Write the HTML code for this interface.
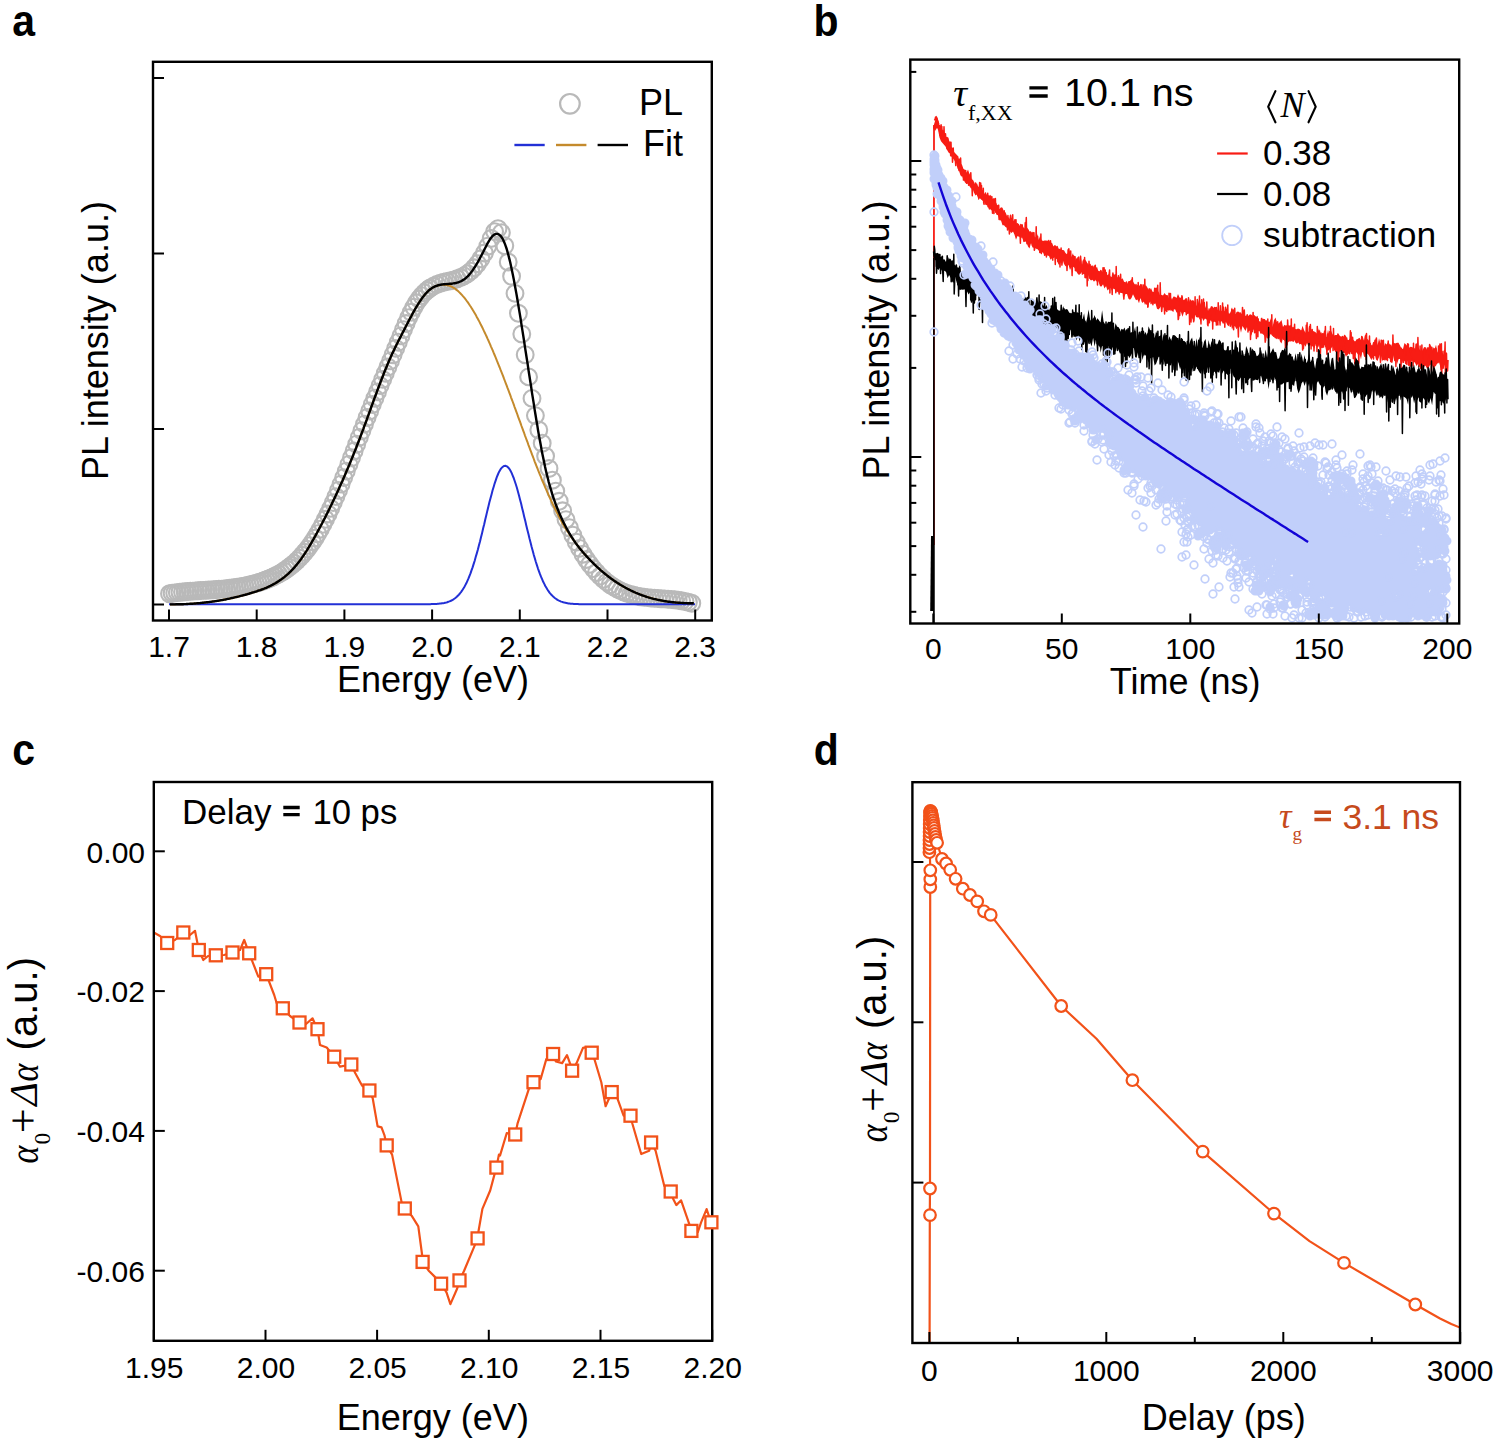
<!DOCTYPE html><html><head><meta charset="utf-8"><title>Figure</title><style>html,body{margin:0;padding:0;background:#fff;overflow:hidden}</style></head><body><svg width="1500" height="1442" viewBox="0 0 1500 1442" font-family="Liberation Sans" style="display:block"><text transform="translate(12.2 36.2) scale(0.91 1)" font-size="45" font-weight="bold">a</text>
<text transform="translate(813.4 36.2) scale(0.91 1)" font-size="45" font-weight="bold">b</text>
<text transform="translate(12.2 764.6) scale(0.91 1)" font-size="45" font-weight="bold">c</text>
<text transform="translate(813.8 764.6) scale(0.91 1)" font-size="45" font-weight="bold">d</text>
<g fill="none" stroke="#b9b9b9" stroke-width="2.1"><circle cx="169.5" cy="593.7" r="8.4"/><circle cx="172.1" cy="593.3" r="8.4"/><circle cx="174.7" cy="592.9" r="8.4"/><circle cx="177.3" cy="592.6" r="8.4"/><circle cx="179.9" cy="592.3" r="8.4"/><circle cx="182.5" cy="592" r="8.4"/><circle cx="185.1" cy="591.7" r="8.4"/><circle cx="187.7" cy="591.5" r="8.4"/><circle cx="190.3" cy="591.3" r="8.4"/><circle cx="192.9" cy="591.1" r="8.4"/><circle cx="195.5" cy="590.9" r="8.4"/><circle cx="198.1" cy="590.7" r="8.4"/><circle cx="200.7" cy="590.5" r="8.4"/><circle cx="203.3" cy="590.4" r="8.4"/><circle cx="205.9" cy="590.2" r="8.4"/><circle cx="208.5" cy="590" r="8.4"/><circle cx="211.1" cy="589.9" r="8.4"/><circle cx="213.7" cy="589.7" r="8.4"/><circle cx="216.3" cy="589.5" r="8.4"/><circle cx="218.9" cy="589.3" r="8.4"/><circle cx="221.5" cy="589.1" r="8.4"/><circle cx="224.1" cy="588.9" r="8.4"/><circle cx="226.7" cy="588.6" r="8.4"/><circle cx="229.3" cy="588.3" r="8.4"/><circle cx="231.9" cy="588" r="8.4"/><circle cx="234.5" cy="587.7" r="8.4"/><circle cx="237.1" cy="587.3" r="8.4"/><circle cx="239.7" cy="586.9" r="8.4"/><circle cx="242.3" cy="586.4" r="8.4"/><circle cx="244.9" cy="585.9" r="8.4"/><circle cx="247.5" cy="585.4" r="8.4"/><circle cx="250.1" cy="584.8" r="8.4"/><circle cx="252.7" cy="584.1" r="8.4"/><circle cx="255.3" cy="583.4" r="8.4"/><circle cx="257.9" cy="582.7" r="8.4"/><circle cx="260.5" cy="581.9" r="8.4"/><circle cx="263.1" cy="581" r="8.4"/><circle cx="265.7" cy="580" r="8.4"/><circle cx="268.3" cy="579" r="8.4"/><circle cx="270.9" cy="577.9" r="8.4"/><circle cx="273.5" cy="576.7" r="8.4"/><circle cx="276.1" cy="575.4" r="8.4"/><circle cx="278.7" cy="574.1" r="8.4"/><circle cx="281.3" cy="572.6" r="8.4"/><circle cx="283.9" cy="571" r="8.4"/><circle cx="286.5" cy="569.2" r="8.4"/><circle cx="289.1" cy="567.3" r="8.4"/><circle cx="291.7" cy="565.3" r="8.4"/><circle cx="294.3" cy="563.1" r="8.4"/><circle cx="296.9" cy="560.7" r="8.4"/><circle cx="299.5" cy="558.1" r="8.4"/><circle cx="302.1" cy="555.3" r="8.4"/><circle cx="304.7" cy="552.3" r="8.4"/><circle cx="307.3" cy="549.1" r="8.4"/><circle cx="309.9" cy="545.6" r="8.4"/><circle cx="312.5" cy="541.9" r="8.4"/><circle cx="315.1" cy="538" r="8.4"/><circle cx="317.7" cy="533.7" r="8.4"/><circle cx="320.3" cy="529.2" r="8.4"/><circle cx="322.9" cy="524.4" r="8.4"/><circle cx="325.5" cy="519.3" r="8.4"/><circle cx="328.1" cy="514" r="8.4"/><circle cx="330.7" cy="508.4" r="8.4"/><circle cx="333.3" cy="502.6" r="8.4"/><circle cx="335.9" cy="496.6" r="8.4"/><circle cx="338.5" cy="490.4" r="8.4"/><circle cx="341.1" cy="484.1" r="8.4"/><circle cx="343.7" cy="477.6" r="8.4"/><circle cx="346.3" cy="471.1" r="8.4"/><circle cx="348.9" cy="464.4" r="8.4"/><circle cx="351.5" cy="457.7" r="8.4"/><circle cx="354.1" cy="451" r="8.4"/><circle cx="356.7" cy="444.2" r="8.4"/><circle cx="359.3" cy="437.4" r="8.4"/><circle cx="361.9" cy="430.7" r="8.4"/><circle cx="364.5" cy="424.1" r="8.4"/><circle cx="367.1" cy="417.5" r="8.4"/><circle cx="369.7" cy="411" r="8.4"/><circle cx="372.3" cy="404.5" r="8.4"/><circle cx="374.9" cy="398.2" r="8.4"/><circle cx="377.5" cy="391.9" r="8.4"/><circle cx="380.1" cy="385.6" r="8.4"/><circle cx="382.7" cy="379.4" r="8.4"/><circle cx="385.3" cy="373.2" r="8.4"/><circle cx="387.9" cy="367" r="8.4"/><circle cx="390.5" cy="360.9" r="8.4"/><circle cx="393.1" cy="354.7" r="8.4"/><circle cx="395.7" cy="348.4" r="8.4"/><circle cx="398.3" cy="342.2" r="8.4"/><circle cx="400.9" cy="335.9" r="8.4"/><circle cx="403.5" cy="329.6" r="8.4"/><circle cx="406.1" cy="323.5" r="8.4"/><circle cx="408.7" cy="317.6" r="8.4"/><circle cx="411.3" cy="312.2" r="8.4"/><circle cx="413.9" cy="307.2" r="8.4"/><circle cx="416.5" cy="302.8" r="8.4"/><circle cx="419.1" cy="299" r="8.4"/><circle cx="421.7" cy="295.7" r="8.4"/><circle cx="424.3" cy="292.9" r="8.4"/><circle cx="426.9" cy="290.5" r="8.4"/><circle cx="429.5" cy="288.5" r="8.4"/><circle cx="430" cy="288.1" r="8.4"/><circle cx="433.4" cy="286.1" r="8.4"/><circle cx="436.8" cy="284.5" r="8.4"/><circle cx="440.2" cy="283.3" r="8.4"/><circle cx="443.6" cy="282.3" r="8.4"/><circle cx="447" cy="281.5" r="8.4"/><circle cx="450.4" cy="280.7" r="8.4"/><circle cx="453.8" cy="279.9" r="8.4"/><circle cx="457.2" cy="278.8" r="8.4"/><circle cx="460.6" cy="277.5" r="8.4"/><circle cx="464" cy="275.9" r="8.4"/><circle cx="467.4" cy="273.8" r="8.4"/><circle cx="470.8" cy="271.1" r="8.4"/><circle cx="474.2" cy="267.8" r="8.4"/><circle cx="477.6" cy="263.7" r="8.4"/><circle cx="481" cy="258.8" r="8.4"/><circle cx="484.4" cy="253" r="8.4"/><circle cx="487.8" cy="246.2" r="8.4"/><circle cx="491.2" cy="238.5" r="8.4"/><circle cx="494.6" cy="231.6" r="8.4"/><circle cx="498" cy="228.7" r="8.4"/><circle cx="501.4" cy="232.7" r="8.4"/><circle cx="504.8" cy="245.8" r="8.4"/><circle cx="508.2" cy="262" r="8.4"/><circle cx="511.6" cy="276.2" r="8.4"/><circle cx="515" cy="293.4" r="8.4"/><circle cx="518.4" cy="313.3" r="8.4"/><circle cx="521.8" cy="334" r="8.4"/><circle cx="525.2" cy="354.7" r="8.4"/><circle cx="528.6" cy="376.9" r="8.4"/><circle cx="532" cy="398.4" r="8.4"/><circle cx="535.4" cy="415.6" r="8.4"/><circle cx="538.8" cy="430" r="8.4"/><circle cx="542.2" cy="443.2" r="8.4"/><circle cx="545.6" cy="456.1" r="8.4"/><circle cx="549" cy="468.5" r="8.4"/><circle cx="552.4" cy="480.2" r="8.4"/><circle cx="555.8" cy="491.1" r="8.4"/><circle cx="559.2" cy="501.3" r="8.4"/><circle cx="562.6" cy="510.8" r="8.4"/><circle cx="566" cy="519.6" r="8.4"/><circle cx="569.4" cy="527.7" r="8.4"/><circle cx="572.8" cy="535.2" r="8.4"/><circle cx="576.2" cy="542.1" r="8.4"/><circle cx="579.6" cy="548.4" r="8.4"/><circle cx="583" cy="554.2" r="8.4"/><circle cx="586.4" cy="559.5" r="8.4"/><circle cx="589.8" cy="564.3" r="8.4"/><circle cx="593.2" cy="568.6" r="8.4"/><circle cx="596.6" cy="572.5" r="8.4"/><circle cx="600" cy="576.1" r="8.4"/><circle cx="603.4" cy="579.3" r="8.4"/><circle cx="606.8" cy="582.1" r="8.4"/><circle cx="610.2" cy="584.7" r="8.4"/><circle cx="613.6" cy="586.9" r="8.4"/><circle cx="617" cy="588.9" r="8.4"/><circle cx="620.4" cy="590.6" r="8.4"/><circle cx="623.8" cy="592.1" r="8.4"/><circle cx="627.2" cy="593.4" r="8.4"/><circle cx="630.6" cy="594.4" r="8.4"/><circle cx="634" cy="595.3" r="8.4"/><circle cx="637.4" cy="596.1" r="8.4"/><circle cx="640.8" cy="596.7" r="8.4"/><circle cx="644.2" cy="597.2" r="8.4"/><circle cx="647.6" cy="597.6" r="8.4"/><circle cx="651" cy="598" r="8.4"/><circle cx="654.4" cy="598.2" r="8.4"/><circle cx="657.8" cy="598.5" r="8.4"/><circle cx="661.2" cy="598.7" r="8.4"/><circle cx="664.6" cy="598.9" r="8.4"/><circle cx="668" cy="599.2" r="8.4"/><circle cx="671.4" cy="599.5" r="8.4"/><circle cx="674.8" cy="599.8" r="8.4"/><circle cx="678.2" cy="600.3" r="8.4"/><circle cx="681.6" cy="600.8" r="8.4"/><circle cx="685" cy="601.5" r="8.4"/><circle cx="688.4" cy="602.3" r="8.4"/><circle cx="691.8" cy="603.3" r="8.4"/></g>
<path d="M169 604.3 170.1 604.3 171.1 604.3 172.2 604.3 173.2 604.3 174.3 604.3 175.3 604.3 176.4 604.3 177.4 604.3 178.5 604.3 179.5 604.3 180.6 604.3 181.6 604.3 182.7 604.3 183.8 604.3 184.8 604.3 185.9 604.3 186.9 604.3 188 604.3 189 604.3 190.1 604.3 191.1 604.3 192.2 604.3 193.2 604.3 194.3 604.3 195.4 604.3 196.4 604.3 197.5 604.3 198.5 604.3 199.6 604.3 200.6 604.3 201.7 604.3 202.7 604.3 203.8 604.3 204.8 604.3 205.9 604.3 206.9 604.3 208 604.3 209.1 604.3 210.1 604.3 211.2 604.3 212.2 604.3 213.3 604.3 214.3 604.3 215.4 604.3 216.4 604.3 217.5 604.3 218.5 604.3 219.6 604.3 220.7 604.3 221.7 604.3 222.8 604.3 223.8 604.3 224.9 604.3 225.9 604.3 227 604.3 228 604.3 229.1 604.3 230.1 604.3 231.2 604.3 232.2 604.3 233.3 604.3 234.4 604.3 235.4 604.3 236.5 604.3 237.5 604.3 238.6 604.3 239.6 604.3 240.7 604.3 241.7 604.3 242.8 604.3 243.8 604.3 244.9 604.3 245.9 604.3 247 604.3 248.1 604.3 249.1 604.3 250.2 604.3 251.2 604.3 252.3 604.3 253.3 604.3 254.4 604.3 255.4 604.3 256.5 604.3 257.5 604.3 258.6 604.3 259.7 604.3 260.7 604.3 261.8 604.3 262.8 604.3 263.9 604.3 264.9 604.3 266 604.3 267 604.3 268.1 604.3 269.1 604.3 270.2 604.3 271.2 604.3 272.3 604.3 273.4 604.3 274.4 604.3 275.5 604.3 276.5 604.3 277.6 604.3 278.6 604.3 279.7 604.3 280.7 604.3 281.8 604.3 282.8 604.3 283.9 604.3 285 604.3 286 604.3 287.1 604.3 288.1 604.3 289.2 604.3 290.2 604.3 291.3 604.3 292.3 604.3 293.4 604.3 294.4 604.3 295.5 604.3 296.5 604.3 297.6 604.3 298.7 604.3 299.7 604.3 300.8 604.3 301.8 604.3 302.9 604.3 303.9 604.3 305 604.3 306 604.3 307.1 604.3 308.1 604.3 309.2 604.3 310.3 604.3 311.3 604.3 312.4 604.3 313.4 604.3 314.5 604.3 315.5 604.3 316.6 604.3 317.6 604.3 318.7 604.3 319.7 604.3 320.8 604.3 321.8 604.3 322.9 604.3 324 604.3 325 604.3 326.1 604.3 327.1 604.3 328.2 604.3 329.2 604.3 330.3 604.3 331.3 604.3 332.4 604.3 333.4 604.3 334.5 604.3 335.5 604.3 336.6 604.3 337.7 604.3 338.7 604.3 339.8 604.3 340.8 604.3 341.9 604.3 342.9 604.3 344 604.3 345 604.3 346.1 604.3 347.1 604.3 348.2 604.3 349.3 604.3 350.3 604.3 351.4 604.3 352.4 604.3 353.5 604.3 354.5 604.3 355.6 604.3 356.6 604.3 357.7 604.3 358.7 604.3 359.8 604.3 360.8 604.3 361.9 604.3 363 604.3 364 604.3 365.1 604.3 366.1 604.3 367.2 604.3 368.2 604.3 369.3 604.3 370.3 604.3 371.4 604.3 372.4 604.3 373.5 604.3 374.6 604.3 375.6 604.3 376.7 604.3 377.7 604.3 378.8 604.3 379.8 604.3 380.9 604.3 381.9 604.3 383 604.3 384 604.3 385.1 604.3 386.1 604.3 387.2 604.3 388.3 604.3 389.3 604.3 390.4 604.3 391.4 604.3 392.5 604.3 393.5 604.3 394.6 604.3 395.6 604.3 396.7 604.3 397.7 604.3 398.8 604.3 399.8 604.3 400.9 604.3 402 604.3 403 604.3 404.1 604.3 405.1 604.3 406.2 604.3 407.2 604.3 408.3 604.3 409.3 604.3 410.4 604.3 411.4 604.3 412.5 604.3 413.6 604.3 414.6 604.3 415.7 604.3 416.7 604.3 417.8 604.3 418.8 604.3 419.9 604.3 420.9 604.3 422 604.3 423 604.3 424.1 604.3 425.1 604.3 426.2 604.2 427.3 604.2 428.3 604.2 429.4 604.2 430.4 604.2 431.5 604.1 432.5 604.1 433.6 604.1 434.6 604 435.7 604 436.7 603.9 437.8 603.8 438.9 603.7 439.9 603.6 441 603.5 442 603.3 443.1 603.2 444.1 603 445.2 602.7 446.2 602.5 447.3 602.2 448.3 601.8 449.4 601.4 450.4 601 451.5 600.5 452.6 599.9 453.6 599.3 454.7 598.5 455.7 597.7 456.8 596.8 457.8 595.8 458.9 594.7 459.9 593.5 461 592.1 462 590.7 463.1 589 464.2 587.3 465.2 585.4 466.3 583.3 467.3 581.1 468.4 578.7 469.4 576.1 470.5 573.4 471.5 570.4 472.6 567.4 473.6 564.1 474.7 560.7 475.7 557.1 476.8 553.4 477.9 549.5 478.9 545.5 480 541.4 481 537.2 482.1 532.9 483.1 528.6 484.2 524.2 485.2 519.7 486.3 515.3 487.3 510.9 488.4 506.6 489.4 502.3 490.5 498.2 491.6 494.2 492.6 490.3 493.7 486.7 494.7 483.3 495.8 480.1 496.8 477.2 497.9 474.5 498.9 472.2 500 470.2 501 468.6 502.1 467.4 503.2 466.5 504.2 465.9 505.3 465.8 506.3 466.1 507.4 466.7 508.4 467.7 509.5 469.1 510.5 470.8 511.6 472.9 512.6 475.3 513.7 478 514.7 481 515.8 484.3 516.9 487.8 517.9 491.5 519 495.4 520 499.4 521.1 503.6 522.1 507.9 523.2 512.3 524.2 516.7 525.3 521.1 526.3 525.5 527.4 529.9 528.5 534.2 529.5 538.5 530.6 542.7 531.6 546.8 532.7 550.7 533.7 554.6 534.8 558.2 535.8 561.8 536.9 565.1 537.9 568.3 539 571.3 540 574.2 541.1 576.9 542.2 579.4 543.2 581.8 544.3 583.9 545.3 586 546.4 587.8 547.4 589.5 548.5 591.1 549.5 592.6 550.6 593.9 551.6 595.1 552.7 596.1 553.7 597.1 554.8 598 555.9 598.8 556.9 599.5 558 600.1 559 600.6 560.1 601.1 561.1 601.6 562.2 601.9 563.2 602.3 564.3 602.6 565.3 602.8 566.4 603 567.5 603.2 568.5 603.4 569.6 603.5 570.6 603.7 571.7 603.8 572.7 603.8 573.8 603.9 574.8 604 575.9 604 576.9 604.1 578 604.1 579 604.2 580.1 604.2 581.2 604.2 582.2 604.2 583.3 604.2 584.3 604.2 585.4 604.3 586.4 604.3 587.5 604.3 588.5 604.3 589.6 604.3 590.6 604.3 591.7 604.3 592.8 604.3 593.8 604.3 594.9 604.3 595.9 604.3 597 604.3 598 604.3 599.1 604.3 600.1 604.3 601.2 604.3 602.2 604.3 603.3 604.3 604.3 604.3 605.4 604.3 606.5 604.3 607.5 604.3 608.6 604.3 609.6 604.3 610.7 604.3 611.7 604.3 612.8 604.3 613.8 604.3 614.9 604.3 615.9 604.3 617 604.3 618.1 604.3 619.1 604.3 620.2 604.3 621.2 604.3 622.3 604.3 623.3 604.3 624.4 604.3 625.4 604.3 626.5 604.3 627.5 604.3 628.6 604.3 629.6 604.3 630.7 604.3 631.8 604.3 632.8 604.3 633.9 604.3 634.9 604.3 636 604.3 637 604.3 638.1 604.3 639.1 604.3 640.2 604.3 641.2 604.3 642.3 604.3 643.3 604.3 644.4 604.3 645.5 604.3 646.5 604.3 647.6 604.3 648.6 604.3 649.7 604.3 650.7 604.3 651.8 604.3 652.8 604.3 653.9 604.3 654.9 604.3 656 604.3 657.1 604.3 658.1 604.3 659.2 604.3 660.2 604.3 661.3 604.3 662.3 604.3 663.4 604.3 664.4 604.3 665.5 604.3 666.5 604.3 667.6 604.3 668.6 604.3 669.7 604.3 670.8 604.3 671.8 604.3 672.9 604.3 673.9 604.3 675 604.3 676 604.3 677.1 604.3 678.1 604.3 679.2 604.3 680.2 604.3 681.3 604.3 682.4 604.3 683.4 604.3 684.5 604.3 685.5 604.3 686.6 604.3 687.6 604.3 688.7 604.3 689.7 604.3 690.8 604.3 691.8 604.3 692.9 604.3 693.9 604.3 695 604.3" fill="none" stroke="#2230d6" stroke-width="2.0" stroke-linejoin="round" />
<path d="M170 604.4 170.9 604.4 171.7 604.4 172.6 604.4 173.5 604.4 174.4 604.4 175.2 604.4 176.1 604.3 177 604.3 177.9 604.3 178.7 604.3 179.6 604.3 180.5 604.3 181.4 604.2 182.2 604.2 183.1 604.2 184 604.1 184.9 604.1 185.7 604.1 186.6 604 187.5 604 188.4 603.9 189.2 603.9 190.1 603.8 191 603.8 191.9 603.7 192.7 603.7 193.6 603.6 194.5 603.5 195.4 603.5 196.2 603.4 197.1 603.3 198 603.3 198.9 603.2 199.7 603.1 200.6 603 201.5 602.9 202.4 602.8 203.2 602.7 204.1 602.6 205 602.5 205.9 602.4 206.7 602.3 207.6 602.2 208.5 602.1 209.4 602 210.2 601.9 211.1 601.8 212 601.6 212.8 601.5 213.7 601.4 214.6 601.3 215.5 601.1 216.3 601 217.2 600.9 218.1 600.7 219 600.6 219.8 600.4 220.7 600.3 221.6 600.1 222.5 600 223.3 599.8 224.2 599.6 225.1 599.5 226 599.3 226.8 599.1 227.7 598.9 228.6 598.8 229.5 598.6 230.3 598.4 231.2 598.2 232.1 598 233 597.8 233.8 597.6 234.7 597.4 235.6 597.2 236.5 597 237.3 596.8 238.2 596.6 239.1 596.4 240 596.1 240.8 595.9 241.7 595.7 242.6 595.5 243.5 595.2 244.3 595 245.2 594.8 246.1 594.5 247 594.3 247.8 594 248.7 593.8 249.6 593.5 250.5 593.2 251.3 593 252.2 592.7 253.1 592.4 253.9 592.2 254.8 591.9 255.7 591.6 256.6 591.3 257.4 591 258.3 590.7 259.2 590.4 260.1 590.1 260.9 589.8 261.8 589.5 262.7 589.2 263.6 588.8 264.4 588.5 265.3 588.1 266.2 587.8 267.1 587.4 267.9 587 268.8 586.6 269.7 586.2 270.6 585.8 271.4 585.3 272.3 584.9 273.2 584.4 274.1 583.9 274.9 583.5 275.8 582.9 276.7 582.4 277.6 581.9 278.4 581.3 279.3 580.7 280.2 580.1 281.1 579.5 281.9 578.9 282.8 578.2 283.7 577.6 284.6 576.9 285.4 576.2 286.3 575.4 287.2 574.6 288.1 573.9 288.9 573.1 289.8 572.2 290.7 571.4 291.5 570.5 292.4 569.6 293.3 568.6 294.2 567.7 295 566.7 295.9 565.6 296.8 564.6 297.7 563.5 298.5 562.4 299.4 561.3 300.3 560.1 301.2 558.9 302 557.7 302.9 556.4 303.8 555.1 304.7 553.8 305.5 552.4 306.4 551.1 307.3 549.7 308.2 548.2 309 546.8 309.9 545.3 310.8 543.8 311.7 542.3 312.5 540.8 313.4 539.3 314.3 537.7 315.2 536.1 316 534.6 316.9 533 317.8 531.3 318.7 529.7 319.5 528.1 320.4 526.5 321.3 524.8 322.2 523.1 323 521.4 323.9 519.8 324.8 518.1 325.7 516.3 326.5 514.6 327.4 512.9 328.3 511.1 329.2 509.3 330 507.5 330.9 505.8 331.8 503.9 332.6 502.1 333.5 500.3 334.4 498.4 335.3 496.6 336.1 494.7 337 492.8 337.9 490.9 338.8 489 339.6 487 340.5 485.1 341.4 483.1 342.3 481.2 343.1 479.2 344 477.2 344.9 475.1 345.8 473.1 346.6 471 347.5 469 348.4 466.9 349.3 464.8 350.1 462.7 351 460.6 351.9 458.4 352.8 456.3 353.6 454.1 354.5 451.9 355.4 449.7 356.3 447.5 357.1 445.2 358 443 358.9 440.7 359.8 438.4 360.6 436.1 361.5 433.8 362.4 431.4 363.3 429.1 364.1 426.7 365 424.3 365.9 422 366.8 419.6 367.6 417.2 368.5 414.8 369.4 412.4 370.3 409.9 371.1 407.5 372 405.1 372.9 402.7 373.7 400.3 374.6 397.9 375.5 395.5 376.4 393.2 377.2 390.8 378.1 388.5 379 386.1 379.9 383.8 380.7 381.5 381.6 379.2 382.5 377 383.4 374.7 384.2 372.5 385.1 370.3 386 368.2 386.9 366 387.7 363.9 388.6 361.9 389.5 359.8 390.4 357.8 391.2 355.9 392.1 353.9 393 352.1 393.9 350.2 394.7 348.4 395.6 346.6 396.5 344.8 397.4 343 398.2 341.3 399.1 339.6 400 337.9 400.9 336.2 401.7 334.5 402.6 332.8 403.5 331.1 404.4 329.4 405.2 327.7 406.1 326 407 324.3 407.9 322.6 408.7 320.9 409.6 319.2 410.5 317.6 411.4 316 412.2 314.3 413.1 312.7 414 311.2 414.8 309.6 415.7 308.1 416.6 306.6 417.5 305.2 418.3 303.8 419.2 302.4 420.1 301.1 421 299.8 421.8 298.5 422.7 297.3 423.6 296.2 424.5 295.1 425.3 294 426.2 293.1 427.1 292.1 428 291.3 428.8 290.4 429.7 289.7 430.6 289 431.5 288.4 432.3 287.8 433.2 287.3 434.1 286.9 435 286.4 435.8 286.1 436.7 285.8 437.6 285.6 438.5 285.4 439.3 285.2 440.2 285.1 441.1 284.9 442 284.8 442.8 284.8 443.7 284.8 444.6 284.8 445.5 284.9 446.3 285 447.2 285.2 448.1 285.4 449 285.6 449.8 285.9 450.7 286.3 451.6 286.7 452.4 287.1 453.3 287.6 454.2 288.1 455.1 288.7 455.9 289.4 456.8 290.1 457.7 290.8 458.6 291.6 459.4 292.4 460.3 293.3 461.2 294.2 462.1 295.1 462.9 296.1 463.8 297.1 464.7 298.2 465.6 299.3 466.4 300.5 467.3 301.7 468.2 302.9 469.1 304.2 469.9 305.5 470.8 306.8 471.7 308.2 472.6 309.6 473.4 311.1 474.3 312.6 475.2 314.1 476.1 315.6 476.9 317.2 477.8 318.8 478.7 320.4 479.6 322.1 480.4 323.8 481.3 325.5 482.2 327.3 483.1 329.1 483.9 330.9 484.8 332.7 485.7 334.6 486.6 336.5 487.4 338.4 488.3 340.3 489.2 342.3 490.1 344.3 490.9 346.3 491.8 348.3 492.7 350.4 493.5 352.4 494.4 354.5 495.3 356.6 496.2 358.8 497 360.9 497.9 363.1 498.8 365.3 499.7 367.5 500.5 369.7 501.4 371.9 502.3 374.1 503.2 376.4 504 378.7 504.9 381 505.8 383.3 506.7 385.6 507.5 387.9 508.4 390.2 509.3 392.6 510.2 394.9 511 397.3 511.9 399.7 512.8 402 513.7 404.4 514.5 406.8 515.4 409.2 516.3 411.6 517.2 414 518 416.4 518.9 418.8 519.8 421.2 520.7 423.6 521.5 426 522.4 428.4 523.3 430.8 524.2 433.2 525 435.6 525.9 438 526.8 440.4 527.7 442.7 528.5 445.1 529.4 447.4 530.3 449.8 531.2 452.1 532 454.4 532.9 456.7 533.8 459 534.6 461.3 535.5 463.5 536.4 465.8 537.3 468 538.1 470.2 539 472.4 539.9 474.6 540.8 476.7 541.6 478.9 542.5 481 543.4 483 544.3 485.1 545.1 487.2 546 489.2 546.9 491.2 547.8 493.2 548.6 495.1 549.5 497.1 550.4 499 551.3 500.9 552.1 502.8 553 504.6 553.9 506.5 554.8 508.3 555.6 510 556.5 511.8 557.4 513.5 558.3 515.3 559.1 516.9 560 518.6 560.9 520.3 561.8 521.9 562.6 523.5 563.5 525 564.4 526.6 565.3 528 566.1 529.3 567 530.7 567.9 532 568.8 533.3 569.6 534.6 570.5 535.8 571.4 537.1 572.3 538.3 573.1 539.5 574 540.7 574.9 541.9 575.7 543.1 576.6 544.3 577.5 545.5 578.4 546.6 579.2 547.7 580.1 548.8 581 549.9 581.9 550.9 582.7 552 583.6 553 584.5 554 585.4 555 586.2 555.9 587.1 556.9 588 557.8 588.9 558.8 589.7 559.7 590.6 560.6 591.5 561.5 592.4 562.4 593.2 563.2 594.1 564.1 595 564.9 595.9 565.8 596.7 566.6 597.6 567.4 598.5 568.2 599.4 569 600.2 569.8 601.1 570.6 602 571.3 602.9 572.1 603.7 572.8 604.6 573.5 605.5 574.2 606.4 574.9 607.2 575.6 608.1 576.3 609 577 609.9 577.6 610.7 578.3 611.6 578.9 612.5 579.5 613.3 580.1 614.2 580.8 615.1 581.4 616 581.9 616.8 582.5 617.7 583.1 618.6 583.6 619.5 584.2 620.3 584.7 621.2 585.3 622.1 585.8 623 586.3 623.8 586.8 624.7 587.3 625.6 587.8 626.5 588.2 627.3 588.7 628.2 589.2 629.1 589.6 630 590 630.8 590.5 631.7 590.9 632.6 591.3 633.5 591.7 634.3 592.1 635.2 592.5 636.1 592.9 637 593.2 637.8 593.6 638.7 593.9 639.6 594.3 640.5 594.6 641.3 595 642.2 595.3 643.1 595.6 644 595.9 644.8 596.2 645.7 596.5 646.6 596.8 647.5 597.1 648.3 597.3 649.2 597.6 650.1 597.8 651 598.1 651.8 598.3 652.7 598.6 653.6 598.8 654.4 599 655.3 599.2 656.2 599.4 657.1 599.6 657.9 599.8 658.8 600 659.7 600.2 660.6 600.4 661.4 600.5 662.3 600.7 663.2 600.9 664.1 601 664.9 601.2 665.8 601.3 666.7 601.4 667.6 601.6 668.4 601.7 669.3 601.8 670.2 601.9 671.1 602 671.9 602.1 672.8 602.2 673.7 602.3 674.6 602.4 675.4 602.5 676.3 602.6 677.2 602.6 678.1 602.7 678.9 602.8 679.8 602.8 680.7 602.9 681.6 602.9 682.4 603 683.3 603 684.2 603.1 685.1 603.1 685.9 603.1 686.8 603.1 687.7 603.2 688.6 603.2 689.4 603.2 690.3 603.2 691.2 603.2 692.1 603.2 692.9 603.2 693.8 603.2" fill="none" stroke="#c48a2c" stroke-width="2.0" stroke-linejoin="round" />
<path d="M170 604.4 170.9 604.4 171.7 604.4 172.6 604.4 173.5 604.4 174.4 604.4 175.2 604.4 176.1 604.3 177 604.3 177.9 604.3 178.7 604.3 179.6 604.3 180.5 604.3 181.4 604.2 182.2 604.2 183.1 604.2 184 604.1 184.9 604.1 185.7 604.1 186.6 604 187.5 604 188.4 603.9 189.2 603.9 190.1 603.8 191 603.8 191.9 603.7 192.7 603.7 193.6 603.6 194.5 603.5 195.4 603.5 196.2 603.4 197.1 603.3 198 603.3 198.9 603.2 199.7 603.1 200.6 603 201.5 602.9 202.4 602.8 203.2 602.7 204.1 602.6 205 602.5 205.9 602.4 206.7 602.3 207.6 602.2 208.5 602.1 209.4 602 210.2 601.9 211.1 601.8 212 601.6 212.8 601.5 213.7 601.4 214.6 601.3 215.5 601.1 216.3 601 217.2 600.9 218.1 600.7 219 600.6 219.8 600.4 220.7 600.3 221.6 600.1 222.5 600 223.3 599.8 224.2 599.6 225.1 599.5 226 599.3 226.8 599.1 227.7 598.9 228.6 598.8 229.5 598.6 230.3 598.4 231.2 598.2 232.1 598 233 597.8 233.8 597.6 234.7 597.4 235.6 597.2 236.5 597 237.3 596.8 238.2 596.6 239.1 596.4 240 596.1 240.8 595.9 241.7 595.7 242.6 595.5 243.5 595.2 244.3 595 245.2 594.8 246.1 594.5 247 594.3 247.8 594 248.7 593.8 249.6 593.5 250.5 593.2 251.3 593 252.2 592.7 253.1 592.4 253.9 592.2 254.8 591.9 255.7 591.6 256.6 591.3 257.4 591 258.3 590.7 259.2 590.4 260.1 590.1 260.9 589.8 261.8 589.5 262.7 589.2 263.6 588.8 264.4 588.5 265.3 588.1 266.2 587.8 267.1 587.4 267.9 587 268.8 586.6 269.7 586.2 270.6 585.8 271.4 585.3 272.3 584.9 273.2 584.4 274.1 583.9 274.9 583.5 275.8 582.9 276.7 582.4 277.6 581.9 278.4 581.3 279.3 580.7 280.2 580.1 281.1 579.5 281.9 578.9 282.8 578.2 283.7 577.6 284.6 576.9 285.4 576.2 286.3 575.4 287.2 574.6 288.1 573.9 288.9 573.1 289.8 572.2 290.7 571.4 291.5 570.5 292.4 569.6 293.3 568.6 294.2 567.7 295 566.7 295.9 565.6 296.8 564.6 297.7 563.5 298.5 562.4 299.4 561.3 300.3 560.1 301.2 558.9 302 557.7 302.9 556.4 303.8 555.1 304.7 553.8 305.5 552.4 306.4 551.1 307.3 549.7 308.2 548.2 309 546.8 309.9 545.3 310.8 543.8 311.7 542.3 312.5 540.8 313.4 539.3 314.3 537.7 315.2 536.1 316 534.6 316.9 533 317.8 531.3 318.7 529.7 319.5 528.1 320.4 526.5 321.3 524.8 322.2 523.1 323 521.4 323.9 519.8 324.8 518.1 325.7 516.3 326.5 514.6 327.4 512.9 328.3 511.1 329.2 509.3 330 507.5 330.9 505.8 331.8 503.9 332.6 502.1 333.5 500.3 334.4 498.4 335.3 496.6 336.1 494.7 337 492.8 337.9 490.9 338.8 489 339.6 487 340.5 485.1 341.4 483.1 342.3 481.2 343.1 479.2 344 477.2 344.9 475.1 345.8 473.1 346.6 471 347.5 469 348.4 466.9 349.3 464.8 350.1 462.7 351 460.6 351.9 458.4 352.8 456.3 353.6 454.1 354.5 451.9 355.4 449.7 356.3 447.5 357.1 445.2 358 443 358.9 440.7 359.8 438.4 360.6 436.1 361.5 433.8 362.4 431.4 363.3 429.1 364.1 426.7 365 424.3 365.9 422 366.8 419.6 367.6 417.2 368.5 414.8 369.4 412.4 370.3 409.9 371.1 407.5 372 405.1 372.9 402.7 373.7 400.3 374.6 397.9 375.5 395.5 376.4 393.2 377.2 390.8 378.1 388.5 379 386.1 379.9 383.8 380.7 381.5 381.6 379.2 382.5 377 383.4 374.7 384.2 372.5 385.1 370.3 386 368.2 386.9 366 387.7 363.9 388.6 361.9 389.5 359.8 390.4 357.8 391.2 355.9 392.1 353.9 393 352.1 393.9 350.2 394.7 348.4 395.6 346.6 396.5 344.8 397.4 343 398.2 341.3 399.1 339.6 400 337.9 400.9 336.2 401.7 334.5 402.6 332.8 403.5 331.1 404.4 329.4 405.2 327.7 406.1 326 407 324.3 407.9 322.6 408.7 320.9 409.6 319.2 410.5 317.6 411.4 316 412.2 314.3 413.1 312.7 414 311.2 414.8 309.6 415.7 308.1 416.6 306.6 417.5 305.2 418.3 303.8 419.2 302.4 420.1 301.1 421 299.8 421.8 298.5 422.7 297.3 423.6 296.2 424.5 295.1 425.3 294 426.2 293.1 427.1 292.1 428 291.3 428.8 290.4 429.7 289.7 430.6 289 431.5 288.4 432.3 287.8 433.2 287.3 434.1 286.9 435 286.4 435.8 286.1 436.7 285.8 437.6 285.5 438.5 285.2 439.3 285 440.2 284.8 441.1 284.7 442 284.5 442.8 284.4 443.7 284.3 444.6 284.2 445.5 284.1 446.3 284.1 447.2 284 448.1 284 449 283.9 449.8 283.8 450.7 283.8 451.6 283.7 452.4 283.6 453.3 283.4 454.2 283.3 455.1 283.2 455.9 283 456.8 282.7 457.7 282.5 458.6 282.2 459.4 281.9 460.3 281.5 461.2 281.1 462.1 280.6 462.9 280.1 463.8 279.6 464.7 278.9 465.6 278.3 466.4 277.5 467.3 276.7 468.2 275.8 469.1 274.9 469.9 273.8 470.8 272.8 471.7 271.6 472.6 270.4 473.4 269.1 474.3 267.8 475.2 266.5 476.1 265 476.9 263.6 477.8 262.1 478.7 260.5 479.6 258.9 480.4 257.3 481.3 255.6 482.2 253.9 483.1 252.2 483.9 250.5 484.8 248.7 485.7 247 486.6 245.3 487.4 243.6 488.3 242.1 489.2 240.6 490.1 239.2 490.9 238 491.8 236.9 492.7 235.9 493.5 235.2 494.4 234.6 495.3 234.1 496.2 233.9 497 233.9 497.9 234 498.8 234.4 499.7 235 500.5 235.9 501.4 236.9 502.3 238.3 503.2 239.9 504 241.7 504.9 243.9 505.8 246.3 506.7 249 507.5 251.9 508.4 255.1 509.3 258.6 510.2 262.2 511 266.1 511.9 270.2 512.8 274.4 513.7 278.9 514.5 283.5 515.4 288.2 516.3 293.1 517.2 298.2 518 303.3 518.9 308.6 519.8 313.9 520.7 319.3 521.5 324.9 522.4 330.4 523.3 336 524.2 341.7 525 347.4 525.9 353 526.8 358.7 527.7 364.4 528.5 370.1 529.4 375.8 530.3 381.5 531.2 387.2 532 392.8 532.9 398.4 533.8 403.9 534.6 409.4 535.5 414.8 536.4 420.2 537.3 425.4 538.1 430.6 539 435.6 539.9 440.5 540.8 445.3 541.6 449.9 542.5 454.4 543.4 458.7 544.3 462.9 545.1 467 546 470.9 546.9 474.6 547.8 478.2 548.6 481.6 549.5 484.8 550.4 487.9 551.3 490.9 552.1 493.7 553 496.5 553.9 499.1 554.8 501.6 555.6 504 556.5 506.3 557.4 508.5 558.3 510.7 559.1 512.8 560 514.8 560.9 516.8 561.8 518.7 562.6 520.6 563.5 522.4 564.4 524.1 565.3 525.8 566.1 527.5 567 529.1 567.9 530.7 568.8 532.2 569.6 533.7 570.5 535.2 571.4 536.6 572.3 537.9 573.1 539.3 574 540.6 574.9 541.8 575.7 543.1 576.6 544.3 577.5 545.5 578.4 546.6 579.2 547.7 580.1 548.8 581 549.9 581.9 550.9 582.7 552 583.6 553 584.5 554 585.4 555 586.2 555.9 587.1 556.9 588 557.8 588.9 558.8 589.7 559.7 590.6 560.6 591.5 561.5 592.4 562.4 593.2 563.2 594.1 564.1 595 564.9 595.9 565.8 596.7 566.6 597.6 567.4 598.5 568.2 599.4 569 600.2 569.8 601.1 570.6 602 571.3 602.9 572.1 603.7 572.8 604.6 573.5 605.5 574.2 606.4 574.9 607.2 575.6 608.1 576.3 609 577 609.9 577.6 610.7 578.3 611.6 578.9 612.5 579.5 613.3 580.1 614.2 580.8 615.1 581.4 616 581.9 616.8 582.5 617.7 583.1 618.6 583.6 619.5 584.2 620.3 584.7 621.2 585.3 622.1 585.8 623 586.3 623.8 586.8 624.7 587.3 625.6 587.8 626.5 588.2 627.3 588.7 628.2 589.2 629.1 589.6 630 590 630.8 590.5 631.7 590.9 632.6 591.3 633.5 591.7 634.3 592.1 635.2 592.5 636.1 592.9 637 593.2 637.8 593.6 638.7 593.9 639.6 594.3 640.5 594.6 641.3 595 642.2 595.3 643.1 595.6 644 595.9 644.8 596.2 645.7 596.5 646.6 596.8 647.5 597.1 648.3 597.3 649.2 597.6 650.1 597.8 651 598.1 651.8 598.3 652.7 598.6 653.6 598.8 654.4 599 655.3 599.2 656.2 599.4 657.1 599.6 657.9 599.8 658.8 600 659.7 600.2 660.6 600.4 661.4 600.5 662.3 600.7 663.2 600.9 664.1 601 664.9 601.2 665.8 601.3 666.7 601.4 667.6 601.6 668.4 601.7 669.3 601.8 670.2 601.9 671.1 602 671.9 602.1 672.8 602.2 673.7 602.3 674.6 602.4 675.4 602.5 676.3 602.6 677.2 602.6 678.1 602.7 678.9 602.8 679.8 602.8 680.7 602.9 681.6 602.9 682.4 603 683.3 603 684.2 603.1 685.1 603.1 685.9 603.1 686.8 603.1 687.7 603.2 688.6 603.2 689.4 603.2 690.3 603.2 691.2 603.2 692.1 603.2 692.9 603.2 693.8 603.2" fill="none" stroke="#000" stroke-width="2.4" stroke-linejoin="round" />
<rect x="153" y="61.8" width="558.8" height="558.7" fill="none" stroke="#000" stroke-width="2.4"/>
<line x1="169" y1="620.5" x2="169" y2="609.5" stroke="#000" stroke-width="2.0"/>
<text x="169" y="657" font-size="30" text-anchor="middle" >1.7</text>
<line x1="256.7" y1="620.5" x2="256.7" y2="609.5" stroke="#000" stroke-width="2.0"/>
<text x="256.7" y="657" font-size="30" text-anchor="middle" >1.8</text>
<line x1="344.4" y1="620.5" x2="344.4" y2="609.5" stroke="#000" stroke-width="2.0"/>
<text x="344.4" y="657" font-size="30" text-anchor="middle" >1.9</text>
<line x1="432.1" y1="620.5" x2="432.1" y2="609.5" stroke="#000" stroke-width="2.0"/>
<text x="432.1" y="657" font-size="30" text-anchor="middle" >2.0</text>
<line x1="519.8" y1="620.5" x2="519.8" y2="609.5" stroke="#000" stroke-width="2.0"/>
<text x="519.8" y="657" font-size="30" text-anchor="middle" >2.1</text>
<line x1="607.5" y1="620.5" x2="607.5" y2="609.5" stroke="#000" stroke-width="2.0"/>
<text x="607.5" y="657" font-size="30" text-anchor="middle" >2.2</text>
<line x1="695.2" y1="620.5" x2="695.2" y2="609.5" stroke="#000" stroke-width="2.0"/>
<text x="695.2" y="657" font-size="30" text-anchor="middle" >2.3</text>
<line x1="153" y1="78" x2="164" y2="78" stroke="#000" stroke-width="2.0"/>
<line x1="153" y1="253.5" x2="164" y2="253.5" stroke="#000" stroke-width="2.0"/>
<line x1="153" y1="429" x2="164" y2="429" stroke="#000" stroke-width="2.0"/>
<line x1="153" y1="604.5" x2="164" y2="604.5" stroke="#000" stroke-width="2.0"/>
<text x="336.9" y="691.7" font-size="36" >Energy (eV)</text>
<text x="107.8" y="340.5" font-size="36" text-anchor="middle" transform="rotate(-90 107.8 340.5)" >PL intensity (a.u.)</text>
<circle cx="569.9" cy="103.8" r="9.8" fill="none" stroke="#b9b9b9" stroke-width="2.2"/>
<text x="639" y="114.9" font-size="36" >PL</text>
<line x1="514.4" y1="145" x2="544.7" y2="145" stroke="#2230d6" stroke-width="2.4"/>
<line x1="556" y1="145" x2="586.4" y2="145" stroke="#c48a2c" stroke-width="2.4"/>
<line x1="597.6" y1="145" x2="628" y2="145" stroke="#000" stroke-width="2.4"/>
<text x="643" y="156" font-size="36" >Fit</text>
<clipPath id="cb"><rect x="910.3" y="59.6" width="548.9000000000001" height="563.9"/></clipPath>
<g clip-path="url(#cb)">
<path d="M933.9 545 933.9 300 934 125" fill="none" stroke="#f81c14" stroke-width="1.8" stroke-linejoin="round" />
<path d="M933 128L936.6 115.5L939.5 124L935 131Z" fill="#f81c14"/>
<path d="M936.5 115.9 938.0 119.3 939.5 126.6 941.0 128.7 942.5 129.7 944.0 134.9 945.5 137.2 947.0 136.7 948.5 137.7 950.0 144.5 951.5 149.4 953.0 150.3 954.5 152.5 956.0 154.0 957.5 155.7 959.0 159.8 960.5 163.4 962.0 164.7 963.5 168.9 965.0 169.7 966.5 172.8 968.0 169.4 969.5 174.3 971.0 178.9 972.5 180.9 974.0 181.7 975.5 185.4 977.0 185.5 978.5 187.1 980.0 185.9 981.5 189.6 983.0 191.6 984.5 193.8 986.0 194.8 987.5 194.1 989.0 195.7 990.5 194.7 992.0 199.3 993.5 198.0 995.0 201.0 996.5 203.2 998.0 208.5 999.5 209.0 1001.0 207.2 1002.5 207.8 1004.0 211.6 1005.5 212.3 1007.0 216.0 1008.5 217.4 1010.0 219.3 1011.5 217.6 1013.0 219.9 1014.5 222.1 1016.0 223.4 1017.5 222.9 1019.0 224.3 1020.5 227.4 1022.0 223.7 1023.5 227.4 1025.0 228.8 1026.5 227.0 1028.0 228.7 1029.5 231.6 1031.0 231.3 1032.5 235.2 1034.0 235.3 1035.5 239.2 1037.0 233.5 1038.5 240.2 1040.0 236.2 1041.5 240.0 1043.0 241.1 1044.5 240.5 1046.0 240.5 1047.5 240.7 1049.0 239.4 1050.5 242.9 1052.0 242.8 1053.5 246.5 1055.0 244.8 1056.5 246.7 1058.0 248.7 1059.5 248.8 1061.0 249.6 1062.5 249.9 1064.0 250.3 1065.5 252.9 1067.0 254.2 1068.5 252.1 1070.0 257.7 1071.5 256.4 1073.0 252.9 1074.5 262.1 1076.0 259.0 1077.5 257.1 1079.0 262.6 1080.5 254.9 1082.0 266.1 1083.5 258.9 1085.0 259.4 1086.5 261.5 1088.0 264.6 1089.5 264.3 1091.0 267.6 1092.5 264.9 1094.0 269.6 1095.5 268.6 1097.0 266.7 1098.5 271.8 1100.0 270.9 1101.5 270.5 1103.0 274.3 1104.5 269.8 1106.0 272.2 1107.5 276.7 1109.0 274.3 1110.5 276.5 1112.0 276.9 1113.5 276.0 1115.0 278.3 1116.5 275.5 1118.0 279.6 1119.5 276.7 1121.0 279.4 1122.5 278.2 1124.0 281.7 1125.5 282.2 1127.0 284.1 1128.5 281.1 1130.0 281.0 1131.5 279.1 1133.0 281.4 1134.5 284.1 1136.0 285.6 1137.5 284.9 1139.0 286.3 1140.5 283.8 1142.0 285.4 1143.5 289.6 1145.0 289.8 1146.5 286.0 1148.0 288.8 1149.5 290.4 1151.0 287.9 1152.5 291.7 1154.0 291.9 1155.5 292.8 1157.0 296.4 1158.5 290.9 1160.0 295.7 1161.5 294.8 1163.0 295.6 1164.5 293.0 1166.0 295.1 1167.5 295.3 1169.0 299.3 1170.5 296.4 1172.0 299.7 1173.5 296.4 1175.0 296.7 1176.5 297.9 1178.0 293.9 1179.5 297.5 1181.0 297.8 1182.5 299.1 1184.0 300.2 1185.5 298.2 1187.0 298.3 1188.5 303.7 1190.0 299.1 1191.5 300.7 1193.0 300.1 1194.5 301.5 1196.0 305.5 1197.5 305.8 1199.0 299.8 1200.5 303.5 1202.0 307.4 1203.5 304.1 1205.0 306.0 1206.5 309.5 1208.0 310.8 1209.5 309.7 1211.0 306.1 1212.5 307.1 1214.0 307.9 1215.5 307.1 1217.0 306.8 1218.5 312.9 1220.0 309.4 1221.5 310.9 1223.0 312.1 1224.5 311.0 1226.0 310.4 1227.5 311.1 1229.0 314.0 1230.5 312.2 1232.0 307.2 1233.5 314.1 1235.0 315.8 1236.5 312.0 1238.0 311.6 1239.5 312.3 1241.0 316.0 1242.5 311.8 1244.0 316.0 1245.5 317.1 1247.0 316.4 1248.5 315.7 1250.0 314.3 1251.5 314.8 1253.0 316.6 1254.5 314.9 1256.0 317.1 1257.5 315.8 1259.0 321.1 1260.5 321.9 1262.0 317.2 1263.5 322.3 1265.0 320.3 1266.5 320.3 1268.0 321.6 1269.5 321.9 1271.0 318.3 1272.5 327.2 1274.0 320.2 1275.5 317.5 1277.0 322.9 1278.5 323.4 1280.0 322.1 1281.5 320.1 1283.0 327.1 1284.5 324.7 1286.0 325.7 1287.5 324.4 1289.0 325.7 1290.5 325.0 1292.0 327.7 1293.5 327.0 1295.0 329.0 1296.5 329.3 1298.0 328.5 1299.5 328.9 1301.0 331.5 1302.5 325.8 1304.0 329.9 1305.5 332.9 1307.0 327.8 1308.5 332.2 1310.0 329.7 1311.5 331.2 1313.0 331.0 1314.5 331.5 1316.0 333.4 1317.5 332.4 1319.0 328.3 1320.5 338.0 1322.0 333.2 1323.5 332.7 1325.0 336.3 1326.5 337.3 1328.0 329.8 1329.5 335.7 1331.0 330.5 1332.5 334.3 1334.0 335.6 1335.5 335.0 1337.0 334.9 1338.5 333.9 1340.0 335.9 1341.5 336.8 1343.0 337.0 1344.5 334.6 1346.0 336.1 1347.5 340.4 1349.0 339.8 1350.5 337.9 1352.0 340.3 1353.5 339.9 1355.0 341.5 1356.5 340.1 1358.0 338.8 1359.5 337.8 1361.0 340.2 1362.5 335.8 1364.0 340.8 1365.5 333.7 1367.0 338.8 1368.5 340.1 1370.0 342.6 1371.5 348.0 1373.0 342.2 1374.5 341.6 1376.0 337.9 1377.5 345.6 1379.0 338.3 1380.5 343.4 1382.0 341.4 1383.5 349.0 1385.0 343.1 1386.5 344.4 1388.0 342.3 1389.5 343.8 1391.0 346.8 1392.5 342.2 1394.0 343.0 1395.5 343.4 1397.0 342.7 1398.5 342.7 1400.0 345.5 1401.5 348.7 1403.0 349.0 1404.5 343.0 1406.0 344.6 1407.5 346.2 1409.0 347.7 1410.5 346.8 1412.0 347.1 1413.5 348.1 1415.0 349.1 1416.5 342.8 1418.0 347.4 1419.5 349.6 1421.0 351.4 1422.5 350.3 1424.0 347.2 1425.5 347.3 1427.0 349.8 1428.5 349.3 1430.0 350.4 1431.5 352.4 1433.0 347.1 1434.5 349.5 1436.0 344.8 1437.5 352.5 1439.0 351.3 1440.5 349.2 1442.0 352.0 1443.5 354.8 1445.0 354.0 1446.5 351.8 1446.5 369.9 1445.0 364.3 1443.5 368.9 1442.0 368.6 1440.5 367.4 1439.0 362.1 1437.5 362.7 1436.0 365.7 1434.5 366.9 1433.0 367.5 1431.5 364.3 1430.0 364.9 1428.5 367.9 1427.0 368.7 1425.5 365.5 1424.0 366.6 1422.5 364.8 1421.0 364.9 1419.5 363.2 1418.0 364.1 1416.5 366.0 1415.0 362.4 1413.5 361.9 1412.0 360.5 1410.5 362.9 1409.0 360.9 1407.5 361.0 1406.0 360.4 1404.5 361.0 1403.0 360.8 1401.5 360.8 1400.0 357.5 1398.5 359.5 1397.0 364.2 1395.5 357.8 1394.0 354.9 1392.5 362.8 1391.0 362.7 1389.5 358.1 1388.0 358.1 1386.5 358.6 1385.0 361.0 1383.5 357.9 1382.0 361.4 1380.5 352.9 1379.0 356.9 1377.5 360.9 1376.0 359.5 1374.5 353.5 1373.0 354.8 1371.5 360.3 1370.0 357.4 1368.5 354.8 1367.0 353.5 1365.5 357.4 1364.0 356.4 1362.5 350.1 1361.0 359.6 1359.5 354.0 1358.0 354.5 1356.5 352.5 1355.0 351.8 1353.5 357.3 1352.0 352.1 1350.5 352.2 1349.0 353.7 1347.5 353.8 1346.0 357.0 1344.5 353.3 1343.0 351.4 1341.5 352.0 1340.0 350.9 1338.5 353.5 1337.0 350.7 1335.5 352.3 1334.0 349.8 1332.5 346.3 1331.0 348.8 1329.5 349.9 1328.0 346.5 1326.5 352.7 1325.0 345.1 1323.5 346.2 1322.0 343.8 1320.5 350.5 1319.0 344.2 1317.5 347.9 1316.0 342.4 1314.5 348.6 1313.0 346.4 1311.5 346.3 1310.0 345.1 1308.5 346.6 1307.0 342.9 1305.5 346.8 1304.0 344.2 1302.5 346.3 1301.0 343.8 1299.5 344.4 1298.0 341.3 1296.5 344.0 1295.0 340.0 1293.5 342.1 1292.0 340.9 1290.5 341.2 1289.0 341.6 1287.5 343.0 1286.0 339.4 1284.5 340.4 1283.0 338.2 1281.5 343.4 1280.0 341.6 1278.5 336.1 1277.0 337.7 1275.5 336.2 1274.0 337.1 1272.5 335.9 1271.0 333.4 1269.5 336.1 1268.0 335.9 1266.5 336.8 1265.0 336.6 1263.5 334.7 1262.0 333.6 1260.5 333.8 1259.0 329.9 1257.5 332.3 1256.0 333.2 1254.5 331.3 1253.0 329.0 1251.5 335.8 1250.0 331.0 1248.5 329.6 1247.0 327.1 1245.5 330.9 1244.0 328.5 1242.5 326.0 1241.0 332.7 1239.5 326.3 1238.0 327.4 1236.5 329.2 1235.0 326.3 1233.5 326.3 1232.0 329.5 1230.5 321.7 1229.0 326.3 1227.5 325.3 1226.0 322.2 1224.5 322.5 1223.0 324.1 1221.5 321.1 1220.0 321.2 1218.5 320.5 1217.0 322.2 1215.5 322.3 1214.0 321.6 1212.5 323.3 1211.0 320.5 1209.5 320.7 1208.0 320.1 1206.5 319.5 1205.0 318.4 1203.5 321.1 1202.0 317.9 1200.5 317.8 1199.0 317.6 1197.5 317.5 1196.0 317.0 1194.5 312.9 1193.0 319.9 1191.5 317.0 1190.0 314.6 1188.5 313.6 1187.0 314.2 1185.5 312.3 1184.0 311.9 1182.5 316.8 1181.0 312.3 1179.5 311.0 1178.0 312.5 1176.5 312.6 1175.0 309.1 1173.5 309.4 1172.0 306.4 1170.5 309.4 1169.0 310.8 1167.5 310.0 1166.0 312.0 1164.5 307.0 1163.0 307.8 1161.5 305.4 1160.0 307.7 1158.5 309.5 1157.0 308.7 1155.5 303.6 1154.0 304.0 1152.5 302.5 1151.0 301.3 1149.5 302.4 1148.0 305.4 1146.5 302.6 1145.0 305.0 1143.5 300.4 1142.0 302.6 1140.5 297.8 1139.0 303.3 1137.5 299.6 1136.0 300.3 1134.5 297.2 1133.0 294.3 1131.5 298.0 1130.0 299.7 1128.5 298.7 1127.0 294.0 1125.5 294.1 1124.0 297.3 1122.5 292.9 1121.0 292.9 1119.5 292.4 1118.0 292.4 1116.5 288.2 1115.0 288.6 1113.5 288.3 1112.0 290.9 1110.5 287.7 1109.0 288.9 1107.5 290.4 1106.0 285.9 1104.5 288.4 1103.0 284.3 1101.5 286.6 1100.0 286.2 1098.5 281.8 1097.0 279.4 1095.5 279.7 1094.0 281.8 1092.5 279.7 1091.0 280.6 1089.5 278.7 1088.0 274.0 1086.5 276.4 1085.0 274.1 1083.5 273.8 1082.0 271.9 1080.5 273.8 1079.0 274.9 1077.5 273.6 1076.0 270.8 1074.5 267.8 1073.0 266.7 1071.5 266.9 1070.0 270.0 1068.5 264.7 1067.0 266.1 1065.5 266.2 1064.0 264.1 1062.5 259.3 1061.0 262.9 1059.5 261.8 1058.0 258.7 1056.5 259.2 1055.0 257.3 1053.5 258.0 1052.0 258.2 1050.5 259.8 1049.0 256.1 1047.5 255.5 1046.0 255.4 1044.5 255.2 1043.0 252.6 1041.5 252.2 1040.0 253.1 1038.5 249.2 1037.0 249.2 1035.5 248.2 1034.0 247.7 1032.5 247.6 1031.0 243.1 1029.5 248.5 1028.0 246.4 1026.5 242.6 1025.0 241.2 1023.5 242.3 1022.0 236.5 1020.5 236.9 1019.0 236.7 1017.5 235.9 1016.0 239.8 1014.5 234.7 1013.0 231.4 1011.5 233.1 1010.0 231.4 1008.5 229.1 1007.0 227.7 1005.5 227.1 1004.0 225.3 1002.5 225.2 1001.0 220.4 999.5 220.3 998.0 215.3 996.5 214.8 995.0 210.7 993.5 211.1 992.0 210.8 990.5 209.3 989.0 209.7 987.5 205.5 986.0 204.9 984.5 201.7 983.0 201.1 981.5 199.8 980.0 198.1 978.5 200.3 977.0 194.6 975.5 195.4 974.0 192.8 972.5 188.6 971.0 188.6 969.5 186.2 968.0 183.6 966.5 184.1 965.0 182.5 963.5 179.5 962.0 175.7 960.5 175.4 959.0 170.8 957.5 168.5 956.0 162.8 954.5 159.3 953.0 158.2 951.5 156.7 950.0 153.5 948.5 152.5 947.0 149.8 945.5 146.4 944.0 144.7 942.5 142.9 941.0 141.2 939.5 137.5 938.0 129.7 936.5 125.3Z" fill="#f81c14"/>
<path d="M934.5 119 934.9 120 935.2 118.6 935.6 117 936 118.7 936.3 117.3 936.7 121.6 937.1 127.2 937.4 121.3 937.8 122 938.2 127.9 938.5 128.8 938.9 129.1 939.3 125.6 939.6 130.9 940 135.5 940.4 126.1 940.7 131.3 941.1 124.8 941.5 128.6 941.8 126.5 942.2 135.2 942.6 130.7 942.9 138.9 943.3 139 943.7 137.8 944 126.8 944.4 137.2 944.8 140.1 945.1 141.5 945.5 133.8 945.9 139.6 946.2 137.6 946.6 138.9 947 148.7 947.3 140 947.7 144.3 948.1 149.4 948.4 142.7 948.8 145.6 949.2 147.2 949.5 147.6 949.9 141.9 950.3 148.9 950.7 155.8 951 142.2 951.4 154.6 951.8 151.6 952.1 148.6 952.5 162.2 952.9 156.8 953.2 147.9 953.6 154.8 954 158 954.3 154.9 954.7 159.9 955.1 156.9 955.4 161.2 955.8 165.6 956.2 156.1 956.5 161.1 956.9 158.6 957.3 162.1 957.6 156.5 958 160.1 958.4 162.7 958.7 168.6 959.1 170.5 959.5 159.3 959.8 162.6 960.2 170.1 960.6 158.1 960.9 166.1 961.3 168.6 961.7 175.7 962 173.6 962.4 169.3 962.8 169.7 963.1 170.9 963.5 180.1 963.9 171.2 964.2 172.4 964.6 176.1 965 174.4 965.3 174.5 965.7 170.6 966.1 176.5 966.4 174.8 966.8 183.2 967.2 181.2 967.5 178.4 967.9 182.3 968.3 177.8 968.6 185.2 969 180.4 969.4 183.8 969.7 175 970.1 183.6 970.5 173.9 970.8 172.7 971.2 181.7 971.6 179.2 971.9 184.9 972.3 195.7 972.7 180.8 973 182.3 973.4 186.9 973.8 188.7 974.1 185.8 974.5 186.1 974.9 191 975.2 190.5 975.6 183.1 976 188.3 976.3 189.3 976.7 184.2 977.1 191.2 977.4 186 977.8 195.6 978.2 192.1 978.5 191.9 978.9 188.9 979.3 191.6 979.6 182.5 980 187.2 980.4 195.2 980.7 182.9 981.1 198.4 981.5 185.5 981.8 198.7 982.2 190.8 982.6 199.5 983 196.5 983.3 188.3 983.7 202.9 984.1 204.3 984.4 196.8 984.8 196 985.2 196.9 985.5 193 985.9 204.1 986.3 195.9 986.6 198.7 987 195.2 987.4 196.3 987.7 193.3 988.1 206.8 988.5 199.8 988.8 206 989.2 201.3 989.6 197.9 989.9 200.2 990.3 199.3 990.7 202.7 991 201 991.4 201.8 991.8 196.5 992.1 199.9 992.5 213.3 992.9 201.4 993.2 199.8 993.6 207.5 994 213.6 994.3 198.9 994.7 205.9 995.1 204.1 995.4 198.5 995.8 212.2 996.2 208.6 996.5 209.5 996.9 205.5 997.3 212.4 997.6 207.5 998 210.1 998.4 205.4 998.7 205.2 999.1 219.4 999.5 209.9 999.8 214.7 1000.2 213.3 1000.6 211.6 1000.9 211.6 1001.3 218.2 1001.7 213.6 1002 214.9 1002.4 216.2 1002.8 222.9 1003.1 220.7 1003.5 219.5 1003.9 214.8 1004.2 210.7 1004.6 223.8 1005 224.3 1005.3 218.7 1005.7 222.8 1006.1 224.5 1006.4 225.2 1006.8 226.1 1007.2 218.9 1007.5 230.1 1007.9 215.4 1008.3 227.2 1008.6 225.6 1009 228 1009.4 233.9 1009.7 232 1010.1 218 1010.5 215.3 1010.8 229.4 1011.2 219.6 1011.6 225.4 1011.9 230.4 1012.3 217 1012.7 214.8 1013 228.1 1013.4 227.2 1013.8 225.9 1014.1 227.7 1014.5 223 1014.9 219.7 1015.3 227.4 1015.6 223.2 1016 219.8 1016.4 231.9 1016.7 229.1 1017.1 231.9 1017.5 224.5 1017.8 226.6 1018.2 224.9 1018.6 225.8 1018.9 232.1 1019.3 226.9 1019.7 233.4 1020 233.6 1020.4 243.2 1020.8 224.5 1021.1 237.4 1021.5 232.2 1021.9 232.9 1022.2 225.1 1022.6 230.8 1023 237.8 1023.3 233.4 1023.7 234.6 1024.1 232.7 1024.4 241 1024.8 234.7 1025.2 222.7 1025.5 231.4 1025.9 224.5 1026.3 217.5 1026.6 233 1027 243.7 1027.4 236.7 1027.7 230 1028.1 231.5 1028.5 243.4 1028.8 238.2 1029.2 237.8 1029.6 237.4 1029.9 238.1 1030.3 242.7 1030.7 241.5 1031 239.8 1031.4 232.9 1031.8 241.9 1032.1 235.3 1032.5 245.6 1032.9 232.4 1033.2 239.1 1033.6 240 1034 232.8 1034.3 250.3 1034.7 249 1035.1 238.3 1035.4 245.5 1035.8 243.5 1036.2 226.7 1036.5 243.2 1036.9 241.6 1037.3 242.7 1037.6 236.3 1038 241.1 1038.4 241.8 1038.7 249.8 1039.1 245.2 1039.5 243.5 1039.8 252.5 1040.2 240.8 1040.6 241.9 1040.9 234 1041.3 253.6 1041.7 250.3 1042 250.3 1042.4 249.1 1042.8 246.1 1043.1 246.9 1043.5 244.5 1043.9 245 1044.2 246.7 1044.6 255.3 1045 250 1045.3 246.7 1045.7 243.9 1046.1 243.8 1046.4 256.9 1046.8 250.8 1047.2 248.5 1047.6 246.3 1047.9 242.1 1048.3 248.3 1048.7 254 1049 246.9 1049.4 248 1049.8 248.3 1050.1 250.4 1050.5 240.8 1050.9 248.8 1051.2 245.5 1051.6 255.8 1052 246.4 1052.3 254.4 1052.7 260.1 1053.1 249.6 1053.4 248.2 1053.8 253 1054.2 252.1 1054.5 246.5 1054.9 255.2 1055.3 264.5 1055.6 251.4 1056 251.9 1056.4 247.2 1056.7 255.4 1057.1 246.4 1057.5 247.5 1057.8 261.7 1058.2 249.1 1058.6 260.9 1058.9 263.7 1059.3 256.5 1059.7 258.4 1060 266.9 1060.4 254.4 1060.8 252.3 1061.1 248 1061.5 256.5 1061.9 265.1 1062.2 262.3 1062.6 251.3 1063 252 1063.3 254.2 1063.7 259.2 1064.1 256.4 1064.4 259.1 1064.8 259.8 1065.2 256.5 1065.5 258.2 1065.9 259.9 1066.3 258.3 1066.6 262 1067 270.4 1067.4 263 1067.7 260 1068.1 249.8 1068.5 262.4 1068.8 248.7 1069.2 252.1 1069.6 265.8 1069.9 265.1 1070.3 260.2 1070.7 251.1 1071 259.3 1071.4 257.6 1071.8 265.7 1072.1 275.6 1072.5 263.6 1072.9 257.8 1073.2 255.7 1073.6 262.6 1074 262 1074.3 256.4 1074.7 264.2 1075.1 256.8 1075.4 270.6 1075.8 270.5 1076.2 270.8 1076.5 261.7 1076.9 267.8 1077.3 264.1 1077.6 262.8 1078 263.3 1078.4 257.7 1078.7 257.1 1079.1 270.8 1079.5 265 1079.9 267.7 1080.2 272.6 1080.6 256.3 1081 262.3 1081.3 268.3 1081.7 269.8 1082.1 265.3 1082.4 274.1 1082.8 269.3 1083.2 260.9 1083.5 262.8 1083.9 273.5 1084.3 271.7 1084.6 257.5 1085 277.4 1085.4 273.1 1085.7 277.8 1086.1 267.5 1086.5 268.3 1086.8 263.4 1087.2 285.9 1087.6 269.6 1087.9 280.5 1088.3 267.1 1088.7 272.3 1089 261.2 1089.4 269.3 1089.8 277.9 1090.1 264.4 1090.5 278.8 1090.9 274.5 1091.2 266.2 1091.6 269.7 1092 270.2 1092.3 272.9 1092.7 270.1 1093.1 268.5 1093.4 271.9 1093.8 267.6 1094.2 266.2 1094.5 274 1094.9 280 1095.3 265.3 1095.6 274.9 1096 271.1 1096.4 269.2 1096.7 280.7 1097.1 272.4 1097.5 285.1 1097.8 271.2 1098.2 278.5 1098.6 274.9 1098.9 271.8 1099.3 280.3 1099.7 275.9 1100 280.8 1100.4 276.9 1100.8 270.6 1101.1 276.9 1101.5 278 1101.9 283.8 1102.2 272.4 1102.6 278 1103 267.7 1103.3 282.6 1103.7 272 1104.1 267.7 1104.4 278.7 1104.8 286.1 1105.2 269.9 1105.5 272.8 1105.9 275.1 1106.3 272.8 1106.6 282.4 1107 275.2 1107.4 275.9 1107.7 284.2 1108.1 276 1108.5 283.5 1108.8 275 1109.2 273.6 1109.6 269.9 1109.9 293.1 1110.3 279.7 1110.7 283.3 1111.1 281.8 1111.4 283.1 1111.8 282.6 1112.2 294.4 1112.5 276.2 1112.9 273.1 1113.3 276.6 1113.6 274.8 1114 287.9 1114.4 288.5 1114.7 277.6 1115.1 275.1 1115.5 281.7 1115.8 292.7 1116.2 266.6 1116.6 287.6 1116.9 277.8 1117.3 291.2 1117.7 278.1 1118 283.2 1118.4 275.7 1118.8 279.2 1119.1 294.1 1119.5 290.7 1119.9 283.2 1120.2 280.5 1120.6 274.2 1121 283.7 1121.3 286.2 1121.7 286 1122.1 286.1 1122.4 279.8 1122.8 286.5 1123.2 286.9 1123.5 295.3 1123.9 299.1 1124.3 286.7 1124.6 282.9 1125 287.4 1125.4 284.2 1125.7 283.5 1126.1 287.9 1126.5 281.9 1126.8 292.4 1127.2 288.1 1127.6 290.4 1127.9 287.9 1128.3 284.6 1128.7 283.4 1129 288 1129.4 286.1 1129.8 291.2 1130.1 289.8 1130.5 281.5 1130.9 290.6 1131.2 281.9 1131.6 286.6 1132 288.7 1132.3 277.7 1132.7 291.4 1133.1 291.9 1133.4 290.1 1133.8 288.6 1134.2 289.1 1134.5 285.4 1134.9 290 1135.3 288.4 1135.6 292.5 1136 284.5 1136.4 293.7 1136.7 293.3 1137.1 291.6 1137.5 289.9 1137.8 296.2 1138.2 282.4 1138.6 295.9 1138.9 294.7 1139.3 295.1 1139.7 295.9 1140 289.5 1140.4 292.1 1140.8 297.8 1141.1 296.7 1141.5 295.4 1141.9 284.7 1142.2 297.7 1142.6 301.9 1143 301 1143.4 296.2 1143.7 285.1 1144.1 300.9 1144.5 294.2 1144.8 279.3 1145.2 297.8 1145.6 286.1 1145.9 287.5 1146.3 291.8 1146.7 303.9 1147 293.7 1147.4 297.8 1147.8 307.3 1148.1 306.4 1148.5 295.8 1148.9 295.1 1149.2 288.8 1149.6 292.5 1150 299.7 1150.3 299.6 1150.7 297.9 1151.1 303.6 1151.4 292.6 1151.8 297.2 1152.2 302.3 1152.5 301.5 1152.9 304.7 1153.3 300.6 1153.6 296.2 1154 300.6 1154.4 292.1 1154.7 288.2 1155.1 302.3 1155.5 298.4 1155.8 300.8 1156.2 288.2 1156.6 296.8 1156.9 295.4 1157.3 293.9 1157.7 285.2 1158 297.4 1158.4 305.3 1158.8 302.2 1159.1 296.1 1159.5 299.9 1159.9 304.9 1160.2 282.7 1160.6 299.5 1161 303.9 1161.3 304.9 1161.7 311.4 1162.1 308 1162.4 302.9 1162.8 302.9 1163.2 306.1 1163.5 297.8 1163.9 301.1 1164.3 307.2 1164.6 314 1165 300.6 1165.4 301.4 1165.7 303.1 1166.1 310.5 1166.5 301.9 1166.8 311.5 1167.2 296.1 1167.6 301.2 1167.9 301.2 1168.3 307.6 1168.7 309.3 1169 293.2 1169.4 297.1 1169.8 305.1 1170.1 298.9 1170.5 293.5 1170.9 309.9 1171.2 306.6 1171.6 306.6 1172 300.6 1172.3 310.3 1172.7 302.3 1173.1 310.9 1173.4 298.2 1173.8 298.7 1174.2 305.5 1174.5 299.8 1174.9 308.7 1175.3 306.2 1175.7 298.7 1176 305.2 1176.4 302.6 1176.8 310.8 1177.1 301 1177.5 302.3 1177.9 312.9 1178.2 319.6 1178.6 318.2 1179 305.9 1179.3 307 1179.7 315.5 1180.1 305 1180.4 299.7 1180.8 306.7 1181.2 309 1181.5 300.9 1181.9 295.8 1182.3 297.2 1182.6 310.7 1183 301.7 1183.4 305.8 1183.7 308.1 1184.1 310.8 1184.5 304.8 1184.8 310.3 1185.2 301.5 1185.6 304.9 1185.9 300.8 1186.3 314.7 1186.7 307.4 1187 302.9 1187.4 305.5 1187.8 306.4 1188.1 312.4 1188.5 297.8 1188.9 301.5 1189.2 305.8 1189.6 324.5 1190 314.5 1190.3 307.8 1190.7 313.2 1191.1 321.9 1191.4 307.3 1191.8 306.5 1192.2 316.8 1192.5 312.2 1192.9 313.5 1193.3 306 1193.6 321.7 1194 320.4 1194.4 313.2 1194.7 314 1195.1 296.7 1195.5 313.9 1195.8 308.7 1196.2 312.8 1196.6 314.5 1196.9 308 1197.3 299.4 1197.7 312.8 1198 305.7 1198.4 308.5 1198.8 306.8 1199.1 308.6 1199.5 296 1199.9 318.8 1200.2 312.7 1200.6 318.3 1201 324 1201.3 311.5 1201.7 299.8 1202.1 305.8 1202.4 303.9 1202.8 308.5 1203.2 312.3 1203.5 299 1203.9 314.2 1204.3 302.4 1204.6 314.1 1205 311.6 1205.4 310.3 1205.7 312 1206.1 309.1 1206.5 308.7 1206.8 301.9 1207.2 312.6 1207.6 324.8 1208 325.8 1208.3 321.6 1208.7 317.7 1209.1 308.9 1209.4 322.7 1209.8 313.1 1210.2 313.1 1210.5 311.7 1210.9 314.3 1211.3 311 1211.6 313.4 1212 307 1212.4 311.7 1212.7 328.9 1213.1 313.8 1213.5 312.8 1213.8 317.9 1214.2 319.1 1214.6 307.4 1214.9 313.3 1215.3 320.7 1215.7 316.6 1216 315.7 1216.4 325.1 1216.8 310.7 1217.1 315.7 1217.5 311.9 1217.9 325 1218.2 302.8 1218.6 311.2 1219 312.2 1219.3 320 1219.7 319.7 1220.1 324.9 1220.4 305.8 1220.8 320.9 1221.2 314.3 1221.5 311.9 1221.9 319.8 1222.3 310.5 1222.6 303 1223 314.2 1223.4 307 1223.7 312.6 1224.1 319.3 1224.5 319 1224.8 327.3 1225.2 315.8 1225.6 307.2 1225.9 312.4 1226.3 311.4 1226.7 309.5 1227 320.4 1227.4 313.4 1227.8 304.9 1228.1 322.3 1228.5 317.1 1228.9 320.3 1229.2 318.7 1229.6 322.2 1230 318.5 1230.3 326.3 1230.7 321.1 1231.1 321 1231.4 321.2 1231.8 309.2 1232.2 317.7 1232.5 317.1 1232.9 320.2 1233.3 310.1 1233.6 329.7 1234 319.8 1234.4 311.4 1234.7 308.2 1235.1 317.6 1235.5 318.9 1235.8 314.9 1236.2 320.3 1236.6 315.6 1236.9 323.4 1237.3 315.2 1237.7 319.8 1238 326.5 1238.4 337 1238.8 313.7 1239.1 317.3 1239.5 315 1239.9 325.7 1240.3 313.1 1240.6 317.6 1241 320.6 1241.4 314.5 1241.7 314.7 1242.1 318 1242.5 307.4 1242.8 311.8 1243.2 318.6 1243.6 322.4 1243.9 320.3 1244.3 310 1244.7 318.7 1245 327 1245.4 325.5 1245.8 321.4 1246.1 316.2 1246.5 326.3 1246.9 318.4 1247.2 314.7 1247.6 317.2 1248 332 1248.3 324 1248.7 330.3 1249.1 319.6 1249.4 329 1249.8 319 1250.2 322 1250.5 339.4 1250.9 328.2 1251.3 320 1251.6 322.9 1252 325.6 1252.4 331.5 1252.7 320.5 1253.1 312.4 1253.5 322 1253.8 324.1 1254.2 324.8 1254.6 332.8 1254.9 326.3 1255.3 329.7 1255.7 317.2 1256 330.2 1256.4 338.4 1256.8 329.8 1257.1 326.5 1257.5 325.9 1257.9 336.8 1258.2 319 1258.6 324.5 1259 328.3 1259.3 330.3 1259.7 322.6 1260.1 327.6 1260.4 323.9 1260.8 326.6 1261.2 325 1261.5 318.5 1261.9 326 1262.3 332 1262.6 319.9 1263 324.8 1263.4 330.9 1263.7 319.6 1264.1 327.9 1264.5 319.8 1264.8 334.4 1265.2 342.2 1265.6 340.4 1265.9 325.7 1266.3 332.2 1266.7 328.2 1267 328.2 1267.4 337.8 1267.8 319 1268.1 334.7 1268.5 327.6 1268.9 337.3 1269.2 329.3 1269.6 323.7 1270 330.1 1270.3 333.2 1270.7 328.7 1271.1 331.8 1271.4 325.2 1271.8 314.7 1272.2 334.8 1272.6 333.6 1272.9 330.1 1273.3 329.6 1273.7 336.1 1274 326.4 1274.4 324.8 1274.8 328.3 1275.1 337.5 1275.5 320.6 1275.9 337.8 1276.2 325.8 1276.6 322.8 1277 338.5 1277.3 329.6 1277.7 321.8 1278.1 328.1 1278.4 336.7 1278.8 338.6 1279.2 327.9 1279.5 333.6 1279.9 335.7 1280.3 326.8 1280.6 333.5 1281 331 1281.4 327.8 1281.7 328.2 1282.1 332 1282.5 331.8 1282.8 328 1283.2 329 1283.6 339.3 1283.9 333.5 1284.3 338 1284.7 340.2 1285 336.2 1285.4 347.5 1285.8 327 1286.1 338 1286.5 330.6 1286.9 345.1 1287.2 344.2 1287.6 320 1288 326.7 1288.3 337.6 1288.7 338.5 1289.1 338.3 1289.4 333 1289.8 336.6 1290.2 338 1290.5 333.2 1290.9 340.7 1291.3 318.9 1291.6 338.2 1292 327.2 1292.4 340.6 1292.7 332.8 1293.1 328.5 1293.5 336.9 1293.8 328.5 1294.2 328.6 1294.6 324.3 1294.9 334.6 1295.3 338.2 1295.7 341.8 1296 334.1 1296.4 342.1 1296.8 335.4 1297.1 334.7 1297.5 339.2 1297.9 342.6 1298.2 333.3 1298.6 334.1 1299 334.7 1299.3 336.4 1299.7 329.9 1300.1 342.9 1300.4 333.4 1300.8 339.3 1301.2 330.8 1301.5 338.7 1301.9 339 1302.3 333.7 1302.6 350.1 1303 339.2 1303.4 348.6 1303.8 343.2 1304.1 332.5 1304.5 334.5 1304.9 340 1305.2 337.6 1305.6 337.6 1306 335.4 1306.3 325.3 1306.7 336 1307.1 322.8 1307.4 340.1 1307.8 332.9 1308.2 333 1308.5 336.4 1308.9 339.8 1309.3 328.5 1309.6 326.5 1310 331.1 1310.4 324.6 1310.7 331.9 1311.1 349.1 1311.5 331.5 1311.8 343 1312.2 329.5 1312.6 340.8 1312.9 336.7 1313.3 338.5 1313.7 342.8 1314 350.9 1314.4 340.5 1314.8 340.1 1315.1 332.8 1315.5 343.3 1315.9 337.8 1316.2 345.1 1316.6 339.3 1317 351.4 1317.3 326.5 1317.7 337.9 1318.1 345.9 1318.4 337.7 1318.8 334.8 1319.2 338.4 1319.5 331 1319.9 341.1 1320.3 356.8 1320.6 348.2 1321 333.1 1321.4 334.8 1321.7 338 1322.1 347.5 1322.5 335.4 1322.8 336.3 1323.2 347 1323.6 346.9 1323.9 338.7 1324.3 333.7 1324.7 330.9 1325 336.7 1325.4 326.5 1325.8 346.6 1326.1 337.4 1326.5 344.9 1326.9 354.3 1327.2 349.7 1327.6 334.2 1328 347.8 1328.3 349.8 1328.7 337.1 1329.1 335.8 1329.4 341.5 1329.8 331.6 1330.2 352.3 1330.5 326.3 1330.9 335.1 1331.3 340.8 1331.6 341.2 1332 343.9 1332.4 344.7 1332.7 341.5 1333.1 350.6 1333.5 328.6 1333.8 343.1 1334.2 338.4 1334.6 344.2 1334.9 344.8 1335.3 337.3 1335.7 339.1 1336.1 348.9 1336.4 346 1336.8 339.1 1337.2 357.5 1337.5 359.4 1337.9 334 1338.3 346 1338.6 361 1339 349.4 1339.4 345.6 1339.7 342.8 1340.1 340.6 1340.5 342.9 1340.8 340.7 1341.2 349.5 1341.6 341.9 1341.9 341.6 1342.3 336.6 1342.7 344.4 1343 338.8 1343.4 343.7 1343.8 352 1344.1 347.5 1344.5 348.5 1344.9 347.5 1345.2 345.6 1345.6 344.4 1346 343.2 1346.3 350.5 1346.7 338.1 1347.1 354.6 1347.4 345.8 1347.8 340.6 1348.2 342.4 1348.5 341.2 1348.9 346.9 1349.3 341 1349.6 353.7 1350 340.7 1350.4 330.7 1350.7 341.2 1351.1 332.6 1351.5 346 1351.8 353.5 1352.2 350.8 1352.6 337.3 1352.9 341.3 1353.3 358.6 1353.7 348.8 1354 346.7 1354.4 353.9 1354.8 363.4 1355.1 355.6 1355.5 347.8 1355.9 349.3 1356.2 351.2 1356.6 342.9 1357 339.9 1357.3 347.5 1357.7 340.8 1358.1 346.8 1358.4 348 1358.8 363.3 1359.2 341.6 1359.5 346.7 1359.9 346.4 1360.3 350.6 1360.6 354.8 1361 344.4 1361.4 342.2 1361.7 336.6 1362.1 341.6 1362.5 351.6 1362.8 348.3 1363.2 341.1 1363.6 345.5 1363.9 348.3 1364.3 351.6 1364.7 344.2 1365 346.6 1365.4 335.9 1365.8 340.5 1366.1 359.5 1366.5 333.6 1366.9 346.2 1367.2 350.1 1367.6 346.1 1368 343.2 1368.4 348.3 1368.7 348.8 1369.1 348.3 1369.5 336.1 1369.8 347.9 1370.2 343.2 1370.6 345.3 1370.9 350.6 1371.3 353.5 1371.7 355.3 1372 345.8 1372.4 355.6 1372.8 357.4 1373.1 357.2 1373.5 358.9 1373.9 348.5 1374.2 348.3 1374.6 355.2 1375 340.3 1375.3 351.1 1375.7 346.1 1376.1 347.3 1376.4 337.9 1376.8 343.8 1377.2 349.8 1377.5 356.1 1377.9 356.8 1378.3 349.5 1378.6 348.8 1379 344.5 1379.4 353 1379.7 348.6 1380.1 354.5 1380.5 362.4 1380.8 350.2 1381.2 340.2 1381.6 344.6 1381.9 340.6 1382.3 342.4 1382.7 359.6 1383 352.3 1383.4 340.3 1383.8 355.3 1384.1 359.5 1384.5 348.4 1384.9 346.3 1385.2 348.7 1385.6 353 1386 355.5 1386.3 359.2 1386.7 359.5 1387.1 359.4 1387.4 360.6 1387.8 355.9 1388.2 340.9 1388.5 350.5 1388.9 353.6 1389.3 348.9 1389.6 357.8 1390 349.1 1390.4 345.3 1390.7 361.6 1391.1 356.3 1391.5 353.3 1391.8 358.2 1392.2 359.2 1392.6 354.3 1392.9 335.1 1393.3 347.4 1393.7 349 1394 345.4 1394.4 353.6 1394.8 360.5 1395.1 349 1395.5 344.6 1395.9 366.4 1396.2 349.4 1396.6 344 1397 354.2 1397.3 355.6 1397.7 347.8 1398.1 358.2 1398.4 349.4 1398.8 346.5 1399.2 354.1 1399.5 358.2 1399.9 348.6 1400.3 355.3 1400.7 352.4 1401 372.6 1401.4 348.3 1401.8 362.8 1402.1 352.9 1402.5 352.5 1402.9 358.4 1403.2 359.6 1403.6 362.3 1404 355.8 1404.3 349.5 1404.7 350 1405.1 357.2 1405.4 357.8 1405.8 363.5 1406.2 356.8 1406.5 361.3 1406.9 364.5 1407.3 355.2 1407.6 343.8 1408 346 1408.4 344.3 1408.7 365.3 1409.1 348.4 1409.5 362.9 1409.8 358.5 1410.2 366.3 1410.6 361.5 1410.9 353.9 1411.3 353.2 1411.7 355.3 1412 355.9 1412.4 351.1 1412.8 354.6 1413.1 366 1413.5 343.2 1413.9 356.8 1414.2 348.8 1414.6 356.4 1415 361 1415.3 354.8 1415.7 360.6 1416.1 344.3 1416.4 363 1416.8 351.2 1417.2 359.8 1417.5 356.8 1417.9 337.6 1418.3 350.4 1418.6 357.2 1419 366.5 1419.4 357.8 1419.7 357.6 1420.1 346.1 1420.5 365.9 1420.8 368.5 1421.2 356.3 1421.6 354.6 1421.9 344.9 1422.3 362.4 1422.7 375 1423 361.3 1423.4 365.2 1423.8 360.2 1424.1 349.6 1424.5 365.8 1424.9 348 1425.2 355.2 1425.6 358.6 1426 362.9 1426.3 359.7 1426.7 359.6 1427.1 351.6 1427.4 348 1427.8 357.4 1428.2 352.1 1428.5 348 1428.9 348.4 1429.3 353.8 1429.6 344.4 1430 348 1430.4 346 1430.7 358.7 1431.1 360.3 1431.5 371.5 1431.8 347.2 1432.2 352.9 1432.6 364.1 1433 356.3 1433.3 355.6 1433.7 369.8 1434.1 355.6 1434.4 349.9 1434.8 348.9 1435.2 360.4 1435.5 360.3 1435.9 348.6 1436.3 351.4 1436.6 362 1437 362.4 1437.4 353.9 1437.7 362.8 1438.1 362.5 1438.5 346.1 1438.8 356.5 1439.2 361.6 1439.6 354.7 1439.9 343.9 1440.3 356.9 1440.7 364.2 1441 370 1441.4 343.7 1441.8 377.3 1442.1 351.2 1442.5 365.9 1442.9 367.9 1443.2 366.2 1443.6 360.4 1444 351.3 1444.3 363.8 1444.7 354.5 1445.1 341.9 1445.4 379.4 1445.8 364.6 1446.2 372.5 1446.5 353.4 1446.9 370.1 1447.3 371 1447.6 370.8 1448 359.9" fill="none" stroke="#f81c14" stroke-width="1.5" stroke-linejoin="round" />
<path d="M930.2 611L931 536L934 536L934 611Z" fill="#000"/>
<path d="M933.9 623 933.9 536 933.9 258" fill="none" stroke="#000" stroke-width="1.7" stroke-linejoin="round" />
<path d="M935.6 253.7 937.1 252.7 938.6 253.5 940.1 256.8 941.6 257.2 943.1 261.1 944.6 259.5 946.1 262.2 947.6 258.2 949.1 259.9 950.6 259.1 952.1 261.6 953.6 265.3 955.1 264.6 956.6 267.9 958.1 267.1 959.6 269.2 961.1 273.4 962.6 272.3 964.1 273.3 965.6 275.3 967.1 273.5 968.6 272.5 970.1 278.6 971.6 279.5 973.1 285.2 974.6 280.7 976.1 282.2 977.6 287.4 979.1 281.8 980.6 281.7 982.1 285.8 983.6 285.5 985.1 287.7 986.6 283.6 988.1 290.3 989.6 287.6 991.1 281.9 992.6 287.7 994.1 287.1 995.6 289.3 997.1 292.7 998.6 290.0 1000.1 289.3 1001.6 293.9 1003.1 290.5 1004.6 288.4 1006.1 289.5 1007.6 297.7 1009.1 296.5 1010.6 298.9 1012.1 291.4 1013.6 293.3 1015.1 293.5 1016.6 298.7 1018.1 300.1 1019.6 296.8 1021.1 297.2 1022.6 300.6 1024.1 298.0 1025.6 297.0 1027.1 298.7 1028.6 303.1 1030.1 306.9 1031.6 301.6 1033.1 300.8 1034.6 302.6 1036.1 303.6 1037.6 304.9 1039.1 300.9 1040.6 303.8 1042.1 303.7 1043.6 307.7 1045.1 307.0 1046.6 305.0 1048.1 309.3 1049.6 310.6 1051.1 308.0 1052.6 303.5 1054.1 307.3 1055.6 303.6 1057.1 309.3 1058.6 310.3 1060.1 314.4 1061.6 312.1 1063.1 305.9 1064.6 310.0 1066.1 309.1 1067.6 309.6 1069.1 312.5 1070.6 313.6 1072.1 312.9 1073.6 311.5 1075.1 312.6 1076.6 312.9 1078.1 314.5 1079.6 318.1 1081.1 316.8 1082.6 319.6 1084.1 313.2 1085.6 324.5 1087.1 318.3 1088.6 309.6 1090.1 319.6 1091.6 322.8 1093.1 319.3 1094.6 315.0 1096.1 320.6 1097.6 318.2 1099.1 320.4 1100.6 322.5 1102.1 310.2 1103.6 321.7 1105.1 324.3 1106.6 324.6 1108.1 321.8 1109.6 322.1 1111.1 321.2 1112.6 323.9 1114.1 330.0 1115.6 323.3 1117.1 326.7 1118.6 327.0 1120.1 331.7 1121.6 328.8 1123.1 329.8 1124.6 327.6 1126.1 333.2 1127.6 328.1 1129.1 328.2 1130.6 333.1 1132.1 331.7 1133.6 332.9 1135.1 326.8 1136.6 339.8 1138.1 332.1 1139.6 337.3 1141.1 333.2 1142.6 328.8 1144.1 334.6 1145.6 332.1 1147.1 336.1 1148.6 326.2 1150.1 330.3 1151.6 329.9 1153.1 339.3 1154.6 338.8 1156.1 331.1 1157.6 336.2 1159.1 336.7 1160.6 334.9 1162.1 341.1 1163.6 333.9 1165.1 337.1 1166.6 335.7 1168.1 340.3 1169.6 336.3 1171.1 341.1 1172.6 335.3 1174.1 334.9 1175.6 336.1 1177.1 337.9 1178.6 337.8 1180.1 350.6 1181.6 337.6 1183.1 342.1 1184.6 341.0 1186.1 342.8 1187.6 347.2 1189.1 344.3 1190.6 340.1 1192.1 337.6 1193.6 345.5 1195.1 346.9 1196.6 338.3 1198.1 347.4 1199.6 336.5 1201.1 344.4 1202.6 348.2 1204.1 341.4 1205.6 338.9 1207.1 351.1 1208.6 339.9 1210.1 347.2 1211.6 340.7 1213.1 348.1 1214.6 352.9 1216.1 345.2 1217.6 343.8 1219.1 339.6 1220.6 341.2 1222.1 345.4 1223.6 349.2 1225.1 350.5 1226.6 349.9 1228.1 352.2 1229.6 350.3 1231.1 359.2 1232.6 349.0 1234.1 350.0 1235.6 340.2 1237.1 347.4 1238.6 352.4 1240.1 348.5 1241.6 355.7 1243.1 353.5 1244.6 358.6 1246.1 346.0 1247.6 349.4 1249.1 356.5 1250.6 352.4 1252.1 348.6 1253.6 350.6 1255.1 351.2 1256.6 356.2 1258.1 355.6 1259.6 352.9 1261.1 349.9 1262.6 356.9 1264.1 358.2 1265.6 349.5 1267.1 357.8 1268.6 350.1 1270.1 353.5 1271.6 351.2 1273.1 348.0 1274.6 352.3 1276.1 352.1 1277.6 358.9 1279.1 358.2 1280.6 353.1 1282.1 349.7 1283.6 350.5 1285.1 347.0 1286.6 355.0 1288.1 355.6 1289.6 352.6 1291.1 356.7 1292.6 357.2 1294.1 361.2 1295.6 353.3 1297.1 361.7 1298.6 355.6 1300.1 363.4 1301.6 353.6 1303.1 362.2 1304.6 354.9 1306.1 364.8 1307.6 360.4 1309.1 354.1 1310.6 362.2 1312.1 358.9 1313.6 361.2 1315.1 368.7 1316.6 358.4 1318.1 358.1 1319.6 364.4 1321.1 357.8 1322.6 363.5 1324.1 364.5 1325.6 360.6 1327.1 363.6 1328.6 351.8 1330.1 367.4 1331.6 358.4 1333.1 357.5 1334.6 369.7 1336.1 368.9 1337.6 359.8 1339.1 364.1 1340.6 360.8 1342.1 357.9 1343.6 364.2 1345.1 367.2 1346.6 374.1 1348.1 362.4 1349.6 367.2 1351.1 362.3 1352.6 362.8 1354.1 369.6 1355.6 357.0 1357.1 359.8 1358.6 361.0 1360.1 369.4 1361.6 366.4 1363.1 367.2 1364.6 366.8 1366.1 369.9 1367.6 363.7 1369.1 364.7 1370.6 364.3 1372.1 368.1 1373.6 360.9 1375.1 365.6 1376.6 377.8 1378.1 369.3 1379.6 367.1 1381.1 363.1 1382.6 368.5 1384.1 368.4 1385.6 370.3 1387.1 365.0 1388.6 369.7 1390.1 370.6 1391.6 371.3 1393.1 366.1 1394.6 370.8 1396.1 375.7 1397.6 366.3 1399.1 371.9 1400.6 367.7 1402.1 367.8 1403.6 364.5 1405.1 365.3 1406.6 372.2 1408.1 370.7 1409.6 375.5 1411.1 363.3 1412.6 368.6 1414.1 364.7 1415.6 372.1 1417.1 379.5 1418.6 364.6 1420.1 370.8 1421.6 370.8 1423.1 371.2 1424.6 368.9 1426.1 369.5 1427.6 378.6 1429.1 367.5 1430.6 374.4 1432.1 374.3 1433.6 365.2 1435.1 368.7 1436.6 374.2 1438.1 380.8 1439.6 372.4 1441.1 370.9 1442.6 373.7 1444.1 378.8 1445.6 377.0 1447.1 379.1 1447.1 396.7 1445.6 399.9 1444.1 404.8 1442.6 401.3 1441.1 401.1 1439.6 401.4 1438.1 399.1 1436.6 395.1 1435.1 393.0 1433.6 391.9 1432.1 405.2 1430.6 398.0 1429.1 403.8 1427.6 401.3 1426.1 393.9 1424.6 399.9 1423.1 397.8 1421.6 403.6 1420.1 402.0 1418.6 397.3 1417.1 400.8 1415.6 396.9 1414.1 403.4 1412.6 395.3 1411.1 398.3 1409.6 390.2 1408.1 404.7 1406.6 399.1 1405.1 397.5 1403.6 396.7 1402.1 396.1 1400.6 400.6 1399.1 390.6 1397.6 402.4 1396.1 397.8 1394.6 403.8 1393.1 398.8 1391.6 397.6 1390.1 401.4 1388.6 394.8 1387.1 402.6 1385.6 389.1 1384.1 394.3 1382.6 398.7 1381.1 396.2 1379.6 398.2 1378.1 390.6 1376.6 396.4 1375.1 390.3 1373.6 394.1 1372.1 390.0 1370.6 398.2 1369.1 399.5 1367.6 393.7 1366.1 395.5 1364.6 393.9 1363.1 387.9 1361.6 395.4 1360.1 394.4 1358.6 390.1 1357.1 394.6 1355.6 397.5 1354.1 398.2 1352.6 389.6 1351.1 393.5 1349.6 387.8 1348.1 388.8 1346.6 385.5 1345.1 384.5 1343.6 396.1 1342.1 391.3 1340.6 392.3 1339.1 399.6 1337.6 392.0 1336.1 390.4 1334.6 390.8 1333.1 383.7 1331.6 388.2 1330.1 390.2 1328.6 390.3 1327.1 395.8 1325.6 391.7 1324.1 381.2 1322.6 391.3 1321.1 386.0 1319.6 384.2 1318.1 380.9 1316.6 383.5 1315.1 387.3 1313.6 377.8 1312.1 391.2 1310.6 389.4 1309.1 383.3 1307.6 388.1 1306.1 381.1 1304.6 385.9 1303.1 381.3 1301.6 383.2 1300.1 389.6 1298.6 393.4 1297.1 388.6 1295.6 375.7 1294.1 386.2 1292.6 384.6 1291.1 386.7 1289.6 383.4 1288.1 381.1 1286.6 382.0 1285.1 386.2 1283.6 382.7 1282.1 384.4 1280.6 384.4 1279.1 385.4 1277.6 388.6 1276.1 381.8 1274.6 376.6 1273.1 382.0 1271.6 379.9 1270.1 377.6 1268.6 389.3 1267.1 378.6 1265.6 379.2 1264.1 381.5 1262.6 381.6 1261.1 375.4 1259.6 377.1 1258.1 380.3 1256.6 380.0 1255.1 379.5 1253.6 380.9 1252.1 377.6 1250.6 378.0 1249.1 378.7 1247.6 378.6 1246.1 375.6 1244.6 373.5 1243.1 372.9 1241.6 376.6 1240.1 378.4 1238.6 381.3 1237.1 379.5 1235.6 377.2 1234.1 377.4 1232.6 374.2 1231.1 369.1 1229.6 368.5 1228.1 375.3 1226.6 374.0 1225.1 372.4 1223.6 370.6 1222.1 373.8 1220.6 367.8 1219.1 373.1 1217.6 371.6 1216.1 374.6 1214.6 371.5 1213.1 373.1 1211.6 371.8 1210.1 365.9 1208.6 370.6 1207.1 367.1 1205.6 368.9 1204.1 375.2 1202.6 366.4 1201.1 373.9 1199.6 372.4 1198.1 369.9 1196.6 366.4 1195.1 369.3 1193.6 364.5 1192.1 372.0 1190.6 367.9 1189.1 372.7 1187.6 370.9 1186.1 368.8 1184.6 361.5 1183.1 363.1 1181.6 365.2 1180.1 369.5 1178.6 363.3 1177.1 360.3 1175.6 373.2 1174.1 362.9 1172.6 360.5 1171.1 365.3 1169.6 365.5 1168.1 363.8 1166.6 363.7 1165.1 365.3 1163.6 358.9 1162.1 363.4 1160.6 358.0 1159.1 355.3 1157.6 359.8 1156.1 363.8 1154.6 365.5 1153.1 357.0 1151.6 358.3 1150.1 358.3 1148.6 362.5 1147.1 358.4 1145.6 355.5 1144.1 352.9 1142.6 359.9 1141.1 351.9 1139.6 348.4 1138.1 352.0 1136.6 357.7 1135.1 357.2 1133.6 345.2 1132.1 352.9 1130.6 356.0 1129.1 358.3 1127.6 352.8 1126.1 353.4 1124.6 350.5 1123.1 352.8 1121.6 351.7 1120.1 354.1 1118.6 350.3 1117.1 346.8 1115.6 351.8 1114.1 349.0 1112.6 347.2 1111.1 356.1 1109.6 347.8 1108.1 339.7 1106.6 350.7 1105.1 344.0 1103.6 346.9 1102.1 345.8 1100.6 352.8 1099.1 338.3 1097.6 341.2 1096.1 339.1 1094.6 346.6 1093.1 337.7 1091.6 346.5 1090.1 342.6 1088.6 338.5 1087.1 340.2 1085.6 338.8 1084.1 344.6 1082.6 344.7 1081.1 336.6 1079.6 341.5 1078.1 335.2 1076.6 340.6 1075.1 335.5 1073.6 332.6 1072.1 337.4 1070.6 329.4 1069.1 331.7 1067.6 338.8 1066.1 332.3 1064.6 331.1 1063.1 334.8 1061.6 331.5 1060.1 335.1 1058.6 327.0 1057.1 329.2 1055.6 326.5 1054.1 330.3 1052.6 328.5 1051.1 336.9 1049.6 324.8 1048.1 328.7 1046.6 321.7 1045.1 327.3 1043.6 327.9 1042.1 328.0 1040.6 324.0 1039.1 321.0 1037.6 328.8 1036.1 319.5 1034.6 328.3 1033.1 321.6 1031.6 319.4 1030.1 319.5 1028.6 319.1 1027.1 323.7 1025.6 319.6 1024.1 324.4 1022.6 319.8 1021.1 314.8 1019.6 316.6 1018.1 321.6 1016.6 314.6 1015.1 314.6 1013.6 315.9 1012.1 313.5 1010.6 312.6 1009.1 317.0 1007.6 314.9 1006.1 316.2 1004.6 314.3 1003.1 310.5 1001.6 309.2 1000.1 311.4 998.6 308.7 997.1 306.1 995.6 303.7 994.1 308.3 992.6 306.4 991.1 306.8 989.6 308.7 988.1 303.0 986.6 307.0 985.1 306.0 983.6 302.8 982.1 300.9 980.6 303.6 979.1 296.3 977.6 294.7 976.1 295.5 974.6 292.7 973.1 293.8 971.6 297.6 970.1 292.2 968.6 294.5 967.1 291.5 965.6 289.2 964.1 289.5 962.6 289.7 961.1 289.6 959.6 290.3 958.1 286.7 956.6 282.2 955.1 276.7 953.6 278.9 952.1 276.3 950.6 277.8 949.1 275.1 947.6 278.2 946.1 272.3 944.6 270.6 943.1 272.0 941.6 270.4 940.1 267.4 938.6 270.0 937.1 268.6 935.6 266.4Z" fill="#000"/>
<path d="M933.6 251.4 934 257.3 934.3 246.3 934.7 249.3 935.1 259.4 935.4 253.7 935.8 258.5 936.2 259 936.5 273.2 936.9 268.5 937.3 260.1 937.6 268.3 938 256.4 938.4 259.1 938.7 267 939.1 254.4 939.5 260.1 939.9 254.4 940.2 262.8 940.6 273.6 941 258.2 941.3 264.1 941.7 257.8 942.1 256.5 942.4 256.2 942.8 273.6 943.2 281.5 943.5 267 943.9 260 944.3 268.9 944.6 262.6 945 270 945.4 266.8 945.7 267 946.1 269.3 946.5 262.2 946.8 263.5 947.2 255.8 947.6 263.7 947.9 258 948.3 265.9 948.7 261.3 949 267.9 949.4 270.5 949.8 259.2 950.1 263.1 950.5 262.6 950.9 273.7 951.2 281.7 951.6 275.2 952 267.6 952.4 280.7 952.7 261 953.1 281.8 953.5 267.1 953.8 254.2 954.2 293.9 954.6 284.2 954.9 266.3 955.3 274.3 955.7 272.2 956 274.7 956.4 265 956.8 270.5 957.1 278.3 957.5 277 957.9 284.8 958.2 276.9 958.6 296.1 959 272.5 959.3 279.1 959.7 265.3 960.1 269.9 960.4 288.4 960.8 272.5 961.2 282.7 961.5 278.9 961.9 272.8 962.3 277.6 962.6 276.8 963 277.3 963.4 286.3 963.8 285.8 964.1 277.6 964.5 275.7 964.9 284 965.2 281.6 965.6 290.3 966 306.4 966.3 289.4 966.7 283.2 967.1 282.6 967.4 278.2 967.8 278.1 968.2 277.7 968.5 282.1 968.9 282.2 969.3 290.9 969.6 282.9 970 284.5 970.4 277.7 970.7 299.9 971.1 290.3 971.5 301.9 971.8 293.1 972.2 299.5 972.6 285.8 972.9 293.2 973.3 313.1 973.7 279.7 974 297.9 974.4 303 974.8 292 975.1 295 975.5 299.7 975.9 284.7 976.3 292.8 976.6 283.6 977 285.2 977.4 285.8 977.7 289.4 978.1 291.8 978.5 294.4 978.8 280.6 979.2 309.4 979.6 301.2 979.9 297.5 980.3 289.1 980.7 291.3 981 296.5 981.4 295.5 981.8 279.9 982.1 298.7 982.5 322.6 982.9 279.1 983.2 301.6 983.6 296.2 984 292.6 984.3 305.8 984.7 284.8 985.1 295.3 985.4 307.3 985.8 292.8 986.2 291.3 986.5 295.5 986.9 291.4 987.3 309.2 987.7 288.1 988 302.7 988.4 285.7 988.8 301.2 989.1 294.9 989.5 275.7 989.9 296 990.2 287.8 990.6 292.8 991 310.9 991.3 287.8 991.7 288.4 992.1 310.3 992.4 298 992.8 311.8 993.2 300 993.5 290.4 993.9 297.1 994.3 309.1 994.6 306.3 995 298.1 995.4 298.6 995.7 297.4 996.1 293.8 996.5 318 996.8 298.8 997.2 289.7 997.6 295.2 997.9 305.6 998.3 305 998.7 298.4 999 294.2 999.4 300 999.8 286.2 1000.2 289.3 1000.5 307.4 1000.9 296.4 1001.3 303.7 1001.6 312.2 1002 306.6 1002.4 301.1 1002.7 323.3 1003.1 307.2 1003.5 298.4 1003.8 308.1 1004.2 305.2 1004.6 294.6 1004.9 302.5 1005.3 300.7 1005.7 285.8 1006 300.9 1006.4 300.1 1006.8 298.9 1007.1 288.9 1007.5 299.9 1007.9 302.7 1008.2 304 1008.6 293.7 1009 309.1 1009.3 293.3 1009.7 301.8 1010.1 316.6 1010.4 298.1 1010.8 299.7 1011.2 314.5 1011.6 301.1 1011.9 301.9 1012.3 306.5 1012.7 314.8 1013 286.1 1013.4 297.9 1013.8 296.5 1014.1 296 1014.5 298.1 1014.9 298.3 1015.2 308.3 1015.6 298.2 1016 306.9 1016.3 309.6 1016.7 299.9 1017.1 307.4 1017.4 323.2 1017.8 309.4 1018.2 301.2 1018.5 306.2 1018.9 299 1019.3 309.4 1019.6 315.3 1020 300.2 1020.4 305.6 1020.7 318.4 1021.1 303.4 1021.5 309.4 1021.8 299.1 1022.2 300.9 1022.6 303.7 1022.9 331.5 1023.3 304.9 1023.7 304 1024.1 303.9 1024.4 307.4 1024.8 314.9 1025.2 310.7 1025.5 331 1025.9 311.1 1026.3 323.9 1026.6 311.9 1027 315.2 1027.4 297.4 1027.7 308.8 1028.1 309.4 1028.5 308 1028.8 291.8 1029.2 318.7 1029.6 307.2 1029.9 306.8 1030.3 308.5 1030.7 308.9 1031 314.7 1031.4 300.1 1031.8 303.2 1032.1 313.9 1032.5 312.8 1032.9 308.3 1033.2 306.7 1033.6 304.6 1034 311.5 1034.3 323.8 1034.7 303 1035.1 328 1035.5 320.6 1035.8 308.6 1036.2 320.2 1036.6 300 1036.9 297.8 1037.3 301.8 1037.7 309.6 1038 310.5 1038.4 308.9 1038.8 314.5 1039.1 295 1039.5 318.4 1039.9 301.5 1040.2 308.3 1040.6 310.6 1041 304.1 1041.3 302.4 1041.7 305.7 1042.1 314.6 1042.4 320.4 1042.8 320.3 1043.2 306.3 1043.5 308.2 1043.9 307.2 1044.3 319.7 1044.6 297.5 1045 328.4 1045.4 311.5 1045.7 309 1046.1 319.2 1046.5 326.6 1046.8 319.5 1047.2 327.1 1047.6 317.8 1048 329.4 1048.3 329.7 1048.7 316.1 1049.1 332.2 1049.4 318.7 1049.8 318.1 1050.2 309.2 1050.5 315 1050.9 325.4 1051.3 306 1051.6 324.3 1052 321.4 1052.4 320.8 1052.7 298.4 1053.1 317.5 1053.5 324.9 1053.8 311.8 1054.2 319.7 1054.6 297.3 1054.9 325.7 1055.3 313.2 1055.7 328.1 1056 302.6 1056.4 326.4 1056.8 317.5 1057.1 327.9 1057.5 311.5 1057.9 314.4 1058.2 346.3 1058.6 312.7 1059 313.9 1059.4 318 1059.7 311.3 1060.1 333.3 1060.5 340.1 1060.8 314.5 1061.2 305.2 1061.6 333.6 1061.9 333 1062.3 329.9 1062.7 333.8 1063 313.7 1063.4 320.3 1063.8 309.2 1064.1 309 1064.5 332.4 1064.9 316.1 1065.2 349.5 1065.6 323.3 1066 316.7 1066.3 331 1066.7 343.4 1067.1 327.9 1067.4 311.8 1067.8 326.9 1068.2 338.4 1068.5 318.9 1068.9 316.4 1069.3 334.5 1069.6 325.2 1070 313.6 1070.4 320.5 1070.7 317.1 1071.1 327.2 1071.5 325.5 1071.9 336.9 1072.2 332 1072.6 310 1073 329 1073.3 334.4 1073.7 329.7 1074.1 336.2 1074.4 320.2 1074.8 316.5 1075.2 335.4 1075.5 315.6 1075.9 305.3 1076.3 336.9 1076.6 319.2 1077 323.3 1077.4 313 1077.7 313.8 1078.1 315.5 1078.5 323.2 1078.8 330.5 1079.2 304.8 1079.6 334.8 1079.9 315.8 1080.3 317 1080.7 334.4 1081 326.7 1081.4 312.8 1081.8 349.4 1082.1 319.5 1082.5 330.3 1082.9 330 1083.3 344.1 1083.6 323.8 1084 339.3 1084.4 321.3 1084.7 340.9 1085.1 321.3 1085.5 325.3 1085.8 351.5 1086.2 332.2 1086.6 330.2 1086.9 356.9 1087.3 333 1087.7 321.5 1088 337.3 1088.4 318.1 1088.8 342.3 1089.1 343.4 1089.5 324.4 1089.9 323.9 1090.2 332 1090.6 330.4 1091 320.8 1091.3 336.5 1091.7 310.5 1092.1 326.5 1092.4 326.9 1092.8 328.3 1093.2 334.2 1093.5 319 1093.9 337.5 1094.3 329.6 1094.6 325 1095 318.1 1095.4 320 1095.8 335.5 1096.1 322.3 1096.5 332.6 1096.9 344 1097.2 343.8 1097.6 350.8 1098 329.5 1098.3 321.7 1098.7 344.1 1099.1 335.9 1099.4 345.6 1099.8 333.1 1100.2 346.7 1100.5 342.5 1100.9 341 1101.3 338.7 1101.6 337.6 1102 336 1102.4 336 1102.7 344.9 1103.1 328.7 1103.5 355 1103.8 333 1104.2 345.2 1104.6 333.4 1104.9 331.9 1105.3 359.8 1105.7 331.5 1106 321.9 1106.4 327.6 1106.8 331.7 1107.2 362.2 1107.5 337.2 1107.9 345.6 1108.3 325.2 1108.6 339.1 1109 342.8 1109.4 357.6 1109.7 328.7 1110.1 342.3 1110.5 339 1110.8 325.7 1111.2 335.9 1111.6 333.5 1111.9 312.9 1112.3 342.8 1112.7 342.3 1113 332.2 1113.4 323.2 1113.8 354.3 1114.1 339.6 1114.5 348.5 1114.9 353.7 1115.2 331.9 1115.6 346.3 1116 334.9 1116.3 336.8 1116.7 336.7 1117.1 337.7 1117.4 350.5 1117.8 339.1 1118.2 336.4 1118.5 335.3 1118.9 341.8 1119.3 329.2 1119.7 333.3 1120 337.9 1120.4 332.8 1120.8 337.5 1121.1 332.6 1121.5 364 1121.9 354.5 1122.2 343.8 1122.6 338.6 1123 367.2 1123.3 342.7 1123.7 338.5 1124.1 342.7 1124.4 342.8 1124.8 356.4 1125.2 339.6 1125.5 366.5 1125.9 331.1 1126.3 347.7 1126.6 330 1127 362.7 1127.4 337 1127.7 339.9 1128.1 351 1128.5 355.3 1128.8 329.5 1129.2 337.3 1129.6 326.8 1129.9 342.5 1130.3 340.1 1130.7 337.7 1131.1 334.4 1131.4 337.5 1131.8 333.9 1132.2 347.3 1132.5 359.9 1132.9 322.2 1133.3 340.7 1133.6 337.7 1134 347.4 1134.4 332.5 1134.7 340.8 1135.1 331.8 1135.5 350.1 1135.8 343.6 1136.2 341 1136.6 346.7 1136.9 340.3 1137.3 327.1 1137.7 349.5 1138 346.1 1138.4 341.6 1138.8 354.5 1139.1 357.6 1139.5 332.3 1139.9 335.6 1140.2 362.4 1140.6 360.7 1141 336.3 1141.3 331.8 1141.7 337.5 1142.1 339 1142.4 328 1142.8 344.6 1143.2 331.3 1143.6 332.1 1143.9 354.9 1144.3 337.6 1144.7 344 1145 351.7 1145.4 354 1145.8 341.5 1146.1 345.5 1146.5 336.7 1146.9 366.9 1147.2 352.5 1147.6 334.1 1148 345.6 1148.3 353.5 1148.7 350.9 1149.1 368.7 1149.4 362.3 1149.8 340.4 1150.2 345.1 1150.5 333 1150.9 348.9 1151.3 347.9 1151.6 383.2 1152 347.5 1152.4 325.1 1152.7 339.7 1153.1 347.9 1153.5 333.9 1153.8 338 1154.2 343.2 1154.6 350.8 1155 345.5 1155.3 338.1 1155.7 356.2 1156.1 341.9 1156.4 342.4 1156.8 333.4 1157.2 339.6 1157.5 355 1157.9 331.2 1158.3 347.2 1158.6 356.1 1159 344.2 1159.4 350.8 1159.7 336.8 1160.1 364 1160.5 361.3 1160.8 351.1 1161.2 330.5 1161.6 337.9 1161.9 360.1 1162.3 370.2 1162.7 352.2 1163 363.9 1163.4 342.9 1163.8 347.3 1164.1 349.4 1164.5 354 1164.9 333.7 1165.2 360.4 1165.6 365.5 1166 337.9 1166.3 335.8 1166.7 353.7 1167.1 343.3 1167.5 325.6 1167.8 359.4 1168.2 351.9 1168.6 345.4 1168.9 377.9 1169.3 352 1169.7 342.8 1170 351.8 1170.4 340 1170.8 343 1171.1 355.1 1171.5 345.3 1171.9 346.4 1172.2 372 1172.6 361.1 1173 360.5 1173.3 357.3 1173.7 356.9 1174.1 369.4 1174.4 351.5 1174.8 375.4 1175.2 342 1175.5 349.3 1175.9 337.7 1176.3 348.5 1176.6 357.9 1177 370 1177.4 345.5 1177.7 352.5 1178.1 348.8 1178.5 344.9 1178.9 340.3 1179.2 353.4 1179.6 334.8 1180 354.1 1180.3 353.2 1180.7 346.2 1181.1 342.6 1181.4 338.8 1181.8 377.2 1182.2 339.4 1182.5 372.8 1182.9 360.3 1183.3 349.8 1183.6 341.6 1184 366 1184.4 375.7 1184.7 344.2 1185.1 350.9 1185.5 366.5 1185.8 357.8 1186.2 380.2 1186.6 348.4 1186.9 360.5 1187.3 341.4 1187.7 382 1188 347 1188.4 331.6 1188.8 353.5 1189.1 353.4 1189.5 379.6 1189.9 351.5 1190.2 355 1190.6 361.8 1191 375 1191.4 354.7 1191.7 367.6 1192.1 361.2 1192.5 352.4 1192.8 356.4 1193.2 356 1193.6 346.2 1193.9 370.4 1194.3 341.4 1194.7 370 1195 367.2 1195.4 355.1 1195.8 348.2 1196.1 353.9 1196.5 361.6 1196.9 364.9 1197.2 359.6 1197.6 368.2 1198 350.8 1198.3 359.2 1198.7 340.3 1199.1 365.6 1199.4 358.5 1199.8 352.6 1200.2 371 1200.5 365 1200.9 327.5 1201.3 357.7 1201.6 342 1202 370 1202.4 391.5 1202.7 352 1203.1 358.4 1203.5 355 1203.9 361.6 1204.2 365.1 1204.6 373.5 1205 347.5 1205.3 377.7 1205.7 348.2 1206.1 361.1 1206.4 372.1 1206.8 366.4 1207.2 348.4 1207.5 351 1207.9 353.5 1208.3 358 1208.6 372.3 1209 345 1209.4 363.9 1209.7 365.7 1210.1 365.1 1210.5 364.1 1210.8 377.9 1211.2 364.5 1211.6 369.1 1211.9 365.5 1212.3 382.3 1212.7 339.2 1213 375 1213.4 356.6 1213.8 356.5 1214.1 349.2 1214.5 339.8 1214.9 355.6 1215.3 352.4 1215.6 365.3 1216 344.2 1216.4 377.7 1216.7 362.9 1217.1 357.4 1217.5 352.5 1217.8 351.8 1218.2 348.2 1218.6 354.5 1218.9 360.4 1219.3 358.5 1219.7 345.4 1220 357.7 1220.4 351.1 1220.8 362.3 1221.1 384.9 1221.5 367.9 1221.9 357.5 1222.2 343.6 1222.6 345.9 1223 343 1223.3 369.4 1223.7 353 1224.1 361.8 1224.4 354.6 1224.8 362.3 1225.2 378.8 1225.5 354.1 1225.9 357.8 1226.3 352.9 1226.6 371.9 1227 350.7 1227.4 349.6 1227.8 346.9 1228.1 346.8 1228.5 367.2 1228.9 397.8 1229.2 351.3 1229.6 373.3 1230 364.8 1230.3 350.4 1230.7 359.2 1231.1 359.8 1231.4 354.9 1231.8 387.8 1232.2 342 1232.5 366.7 1232.9 366.2 1233.3 356.4 1233.6 364.3 1234 373.1 1234.4 364.4 1234.7 367.5 1235.1 370.9 1235.5 341.2 1235.8 381.6 1236.2 394.1 1236.6 374.8 1236.9 375.3 1237.3 348.1 1237.7 362 1238 354.6 1238.4 357.1 1238.8 375 1239.2 354.8 1239.5 362.1 1239.9 343.1 1240.3 361.9 1240.6 364.7 1241 356.2 1241.4 356.1 1241.7 388.7 1242.1 350.9 1242.5 352.7 1242.8 355.3 1243.2 378.8 1243.6 392.4 1243.9 367.9 1244.3 356.5 1244.7 359.7 1245 377.2 1245.4 354.6 1245.8 382.8 1246.1 382.3 1246.5 365.3 1246.9 372.1 1247.2 373.4 1247.6 384.5 1248 353.4 1248.3 379.3 1248.7 360.8 1249.1 356.6 1249.4 366 1249.8 362.7 1250.2 354.4 1250.5 347.9 1250.9 355 1251.3 383.6 1251.7 391.4 1252 372.8 1252.4 379.9 1252.8 359.8 1253.1 364.6 1253.5 368.6 1253.9 353.8 1254.2 354.9 1254.6 366.7 1255 362.2 1255.3 354.2 1255.7 370.1 1256.1 363 1256.4 378.3 1256.8 365.8 1257.2 362.7 1257.5 367.4 1257.9 364.2 1258.3 358.9 1258.6 361.8 1259 375 1259.4 373.8 1259.7 382.4 1260.1 348 1260.5 362.1 1260.8 361.9 1261.2 368.4 1261.6 361.6 1261.9 361 1262.3 375.9 1262.7 368.6 1263.1 354 1263.4 383.5 1263.8 378.9 1264.2 360.6 1264.5 376.8 1264.9 358.9 1265.3 380.8 1265.6 364.6 1266 358.3 1266.4 363 1266.7 358.8 1267.1 369.3 1267.5 369.2 1267.8 367.7 1268.2 361.3 1268.6 327.5 1268.9 368.4 1269.3 346.8 1269.7 370.2 1270 381.5 1270.4 370.7 1270.8 363.4 1271.1 365.7 1271.5 366.3 1271.9 361.8 1272.2 361.4 1272.6 357.8 1273 382.7 1273.3 367.7 1273.7 379.6 1274.1 365.3 1274.4 368.8 1274.8 366.2 1275.2 373.5 1275.6 378.1 1275.9 370.9 1276.3 360.9 1276.7 359.8 1277 390.1 1277.4 365.3 1277.8 365.2 1278.1 387.3 1278.5 382 1278.9 374.8 1279.2 364.2 1279.6 401.6 1280 373.2 1280.3 375.1 1280.7 366.9 1281.1 353.3 1281.4 354.2 1281.8 373.6 1282.2 373.4 1282.5 366.3 1282.9 356.2 1283.3 353.3 1283.6 365.5 1284 353.2 1284.4 380.1 1284.7 383.6 1285.1 410.8 1285.5 380 1285.8 362.8 1286.2 359.8 1286.6 331.6 1287 362.9 1287.3 367.6 1287.7 381.4 1288.1 376.8 1288.4 376.6 1288.8 372.1 1289.2 377.6 1289.5 388.4 1289.9 358.1 1290.3 364.8 1290.6 354.6 1291 391.2 1291.4 386.5 1291.7 379 1292.1 356.9 1292.5 372.1 1292.8 367.6 1293.2 371.1 1293.6 368.2 1293.9 376.4 1294.3 366 1294.7 380.7 1295 373.1 1295.4 367.2 1295.8 369.3 1296.1 365.7 1296.5 380.4 1296.9 367.6 1297.2 374 1297.6 366.4 1298 354.4 1298.3 381.9 1298.7 359.2 1299.1 379 1299.5 375.8 1299.8 352.7 1300.2 360.6 1300.6 365.4 1300.9 362 1301.3 358.1 1301.7 380.1 1302 368.6 1302.4 375.7 1302.8 366.6 1303.1 374.9 1303.5 363.1 1303.9 371.2 1304.2 378.4 1304.6 372.1 1305 366.5 1305.3 359.6 1305.7 373.6 1306.1 375.7 1306.4 368.9 1306.8 363.3 1307.2 378.3 1307.5 407.6 1307.9 368.6 1308.3 375.9 1308.6 376.4 1309 343.6 1309.4 373.5 1309.7 364.3 1310.1 390.1 1310.5 369.4 1310.9 363.7 1311.2 369.9 1311.6 374.3 1312 366.2 1312.3 371.9 1312.7 357.5 1313.1 370.1 1313.4 382 1313.8 399.7 1314.2 381.2 1314.5 375.9 1314.9 387.8 1315.3 385.5 1315.6 395.1 1316 386.5 1316.4 371.7 1316.7 376 1317.1 375.1 1317.5 376.6 1317.8 375.4 1318.2 364.5 1318.6 349.8 1318.9 365.8 1319.3 350.7 1319.7 374.1 1320 373.5 1320.4 354.8 1320.8 381.8 1321.1 384.2 1321.5 374.7 1321.9 396 1322.2 399.2 1322.6 360.3 1323 386.8 1323.4 379 1323.7 378.8 1324.1 385.5 1324.5 365.9 1324.8 367.4 1325.2 364.8 1325.6 365.6 1325.9 373 1326.3 357.9 1326.7 362.5 1327 381.1 1327.4 373.5 1327.8 378.8 1328.1 353.2 1328.5 365.6 1328.9 368.2 1329.2 374.9 1329.6 368 1330 386.2 1330.3 374 1330.7 374.9 1331.1 374.9 1331.4 383.4 1331.8 369.5 1332.2 389.1 1332.5 380.3 1332.9 376.7 1333.3 375.5 1333.6 381.2 1334 387.9 1334.4 386.9 1334.8 379.6 1335.1 386.1 1335.5 376.6 1335.9 391.5 1336.2 375 1336.6 352.1 1337 392.9 1337.3 376.7 1337.7 362.4 1338.1 373.3 1338.4 365.7 1338.8 405.2 1339.2 381.6 1339.5 358.1 1339.9 382.3 1340.3 371.3 1340.6 402.4 1341 364.1 1341.4 350.7 1341.7 376.8 1342.1 372.1 1342.5 371.4 1342.8 352 1343.2 381.2 1343.6 398.9 1343.9 354.8 1344.3 391.4 1344.7 370 1345 410.4 1345.4 381.6 1345.8 374.4 1346.1 390.7 1346.5 382.9 1346.9 369.9 1347.3 385.4 1347.6 370.9 1348 356.6 1348.4 405.3 1348.7 372.9 1349.1 370 1349.5 380.9 1349.8 359.4 1350.2 361.7 1350.6 371.4 1350.9 371.2 1351.3 378 1351.7 391.6 1352 371.9 1352.4 383.2 1352.8 384.6 1353.1 365.1 1353.5 380.1 1353.9 366.8 1354.2 391.1 1354.6 383 1355 377.8 1355.3 362.5 1355.7 379 1356.1 369 1356.4 386.5 1356.8 376.5 1357.2 368.7 1357.5 389.6 1357.9 386.9 1358.3 371.3 1358.7 393.1 1359 374.7 1359.4 374.6 1359.8 379.6 1360.1 369.7 1360.5 373.3 1360.9 376.5 1361.2 398.9 1361.6 398.5 1362 375.5 1362.3 400.3 1362.7 378.1 1363.1 383.1 1363.4 389.7 1363.8 382.1 1364.2 414.2 1364.5 381.6 1364.9 365.2 1365.3 396 1365.6 374.2 1366 375.5 1366.4 344.9 1366.7 391.8 1367.1 389.3 1367.5 389.1 1367.8 391.6 1368.2 402.4 1368.6 378.7 1368.9 391.2 1369.3 370.9 1369.7 375.4 1370 393 1370.4 384.2 1370.8 364.3 1371.2 383.9 1371.5 377.5 1371.9 370.3 1372.3 384.9 1372.6 375.1 1373 361.9 1373.4 367.2 1373.7 404.4 1374.1 362.6 1374.5 382.6 1374.8 387.5 1375.2 387.9 1375.6 366.1 1375.9 376.5 1376.3 381.9 1376.7 390.3 1377 372.9 1377.4 367 1377.8 393.2 1378.1 394.8 1378.5 384.9 1378.9 373.6 1379.2 385.5 1379.6 381.9 1380 391.2 1380.3 366.4 1380.7 382.1 1381.1 379 1381.4 368.1 1381.8 383.4 1382.2 381.3 1382.6 376.3 1382.9 385.8 1383.3 364.8 1383.7 380.5 1384 386.4 1384.4 384.6 1384.8 395.2 1385.1 367.5 1385.5 364 1385.9 384.2 1386.2 386.9 1386.6 412 1387 389.1 1387.3 371.5 1387.7 391.7 1388.1 371.9 1388.4 364.6 1388.8 421.1 1389.2 385.7 1389.5 390.7 1389.9 388.8 1390.3 407.3 1390.6 385.3 1391 398 1391.4 370.2 1391.7 366 1392.1 401.3 1392.5 402.1 1392.8 388.4 1393.2 384.9 1393.6 384.2 1393.9 374.4 1394.3 403.4 1394.7 390.6 1395.1 388.6 1395.4 387 1395.8 396.1 1396.2 388.7 1396.5 392 1396.9 369.2 1397.3 388.9 1397.6 414.6 1398 376.8 1398.4 381.3 1398.7 394.3 1399.1 395.2 1399.5 390.7 1399.8 364.3 1400.2 389.2 1400.6 369.4 1400.9 373.6 1401.3 389.9 1401.7 379.8 1402 393.5 1402.4 433.5 1402.8 393.1 1403.1 392.4 1403.5 373 1403.9 376 1404.2 371.2 1404.6 377.3 1405 370.9 1405.3 375.9 1405.7 381.2 1406.1 372.1 1406.5 367.3 1406.8 368 1407.2 389.3 1407.6 384.5 1407.9 397.2 1408.3 397.6 1408.7 380 1409 392.4 1409.4 367.3 1409.8 417.8 1410.1 400 1410.5 381.7 1410.9 370.7 1411.2 388.9 1411.6 362.5 1412 375.3 1412.3 393.8 1412.7 385.3 1413.1 378.7 1413.4 396.8 1413.8 372.4 1414.2 388 1414.5 378.8 1414.9 374.8 1415.3 390.4 1415.6 373.1 1416 411.9 1416.4 378 1416.7 413.5 1417.1 372.1 1417.5 392.5 1417.8 371 1418.2 369.4 1418.6 386.9 1419 393.6 1419.3 370.2 1419.7 400.9 1420.1 375.9 1420.4 386.8 1420.8 389.9 1421.2 392.7 1421.5 364.3 1421.9 407.9 1422.3 392.4 1422.6 380.5 1423 373.5 1423.4 365.7 1423.7 369.7 1424.1 392.4 1424.5 381.7 1424.8 372.5 1425.2 379.6 1425.6 407.5 1425.9 381.9 1426.3 379 1426.7 404.2 1427 391.6 1427.4 386.5 1427.8 378.9 1428.1 367.8 1428.5 372.4 1428.9 380.5 1429.2 383.6 1429.6 390.5 1430 393.1 1430.4 388.9 1430.7 388.9 1431.1 374.5 1431.5 361.1 1431.8 380.3 1432.2 375.2 1432.6 378.8 1432.9 383.3 1433.3 372 1433.7 373.6 1434 385.4 1434.4 388 1434.8 379 1435.1 392.9 1435.5 384.2 1435.9 374.8 1436.2 387.3 1436.6 414 1437 379 1437.3 402.6 1437.7 405.9 1438.1 407.8 1438.4 377.4 1438.8 416.5 1439.2 388.5 1439.5 384.2 1439.9 384.5 1440.3 394.8 1440.6 387.9 1441 385.2 1441.4 404.8 1441.7 378.9 1442.1 375.1 1442.5 397.7 1442.9 396.5 1443.2 402.1 1443.6 374.9 1444 402 1444.3 393.7 1444.7 412.9 1445.1 373 1445.4 390.4 1445.8 384.5 1446.2 369.1 1446.5 379.4 1446.9 403 1447.3 382.4 1447.6 379.4 1448 399.3" fill="none" stroke="#000" stroke-width="1.5" stroke-linejoin="round" />
<path d="M934 159h0M934 160h0M934 162h0M934 163h0M934 165h0M934 169h0M934 170h0M934 172h0M934 173h0M934 179h0M935 156h0M935 160h0M935 161h0M935 162h0M935 163h0M935 165h0M935 166h0M935 168h0M935 169h0M935 171h0M935 173h0M935 174h0M935 175h0M935 176h0M935 177h0M935 180h0M936 165h0M936 166h0M936 168h0M936 169h0M936 170h0M936 171h0M936 173h0M936 174h0M936 175h0M936 177h0M936 178h0M936 179h0M936 181h0M936 183h0M936 184h0M936 185h0M937 168h0M937 170h0M937 173h0M937 174h0M937 175h0M937 176h0M937 177h0M937 178h0M937 179h0M937 180h0M937 182h0M937 183h0M937 187h0M937 188h0M937 194h0M938 170h0M938 173h0M938 174h0M938 175h0M938 179h0M938 181h0M938 182h0M938 183h0M938 184h0M938 185h0M938 186h0M938 187h0M938 188h0M939 175h0M939 177h0M939 179h0M939 180h0M939 181h0M939 182h0M939 183h0M939 184h0M939 185h0M939 187h0M939 188h0M939 190h0M939 191h0M939 194h0M940 181h0M940 182h0M940 183h0M940 184h0M940 185h0M940 186h0M940 188h0M940 189h0M940 190h0M940 191h0M940 192h0M940 195h0M940 196h0M941 178h0M941 180h0M941 182h0M941 184h0M941 186h0M941 187h0M941 188h0M941 189h0M941 190h0M941 191h0M941 192h0M941 194h0M941 196h0M941 197h0M941 201h0M942 184h0M942 185h0M942 186h0M942 188h0M942 190h0M942 191h0M942 194h0M942 195h0M942 196h0M942 197h0M942 198h0M942 201h0M943 181h0M943 189h0M943 192h0M943 193h0M943 194h0M943 195h0M943 198h0M943 200h0M943 201h0M943 202h0M943 205h0M943 207h0M944 187h0M944 190h0M944 192h0M944 193h0M944 196h0M944 197h0M944 198h0M944 199h0M944 200h0M944 201h0M944 202h0M944 203h0M944 204h0M944 206h0M944 207h0M944 212h0M945 192h0M945 193h0M945 195h0M945 197h0M945 198h0M945 199h0M945 200h0M945 201h0M945 203h0M945 204h0M945 205h0M945 207h0M945 208h0M945 209h0M945 210h0M945 212h0M945 214h0M946 190h0M946 191h0M946 193h0M946 196h0M946 197h0M946 200h0M946 201h0M946 203h0M946 205h0M946 206h0M946 207h0M946 208h0M946 210h0M947 190h0M947 199h0M947 202h0M947 203h0M947 206h0M947 208h0M947 209h0M947 210h0M947 211h0M947 212h0M947 213h0M947 214h0M947 215h0M947 217h0M947 220h0M948 202h0M948 203h0M948 204h0M948 205h0M948 207h0M948 208h0M948 209h0M948 210h0M948 211h0M948 212h0M948 213h0M948 214h0M948 216h0M948 218h0M948 222h0M948 226h0M949 196h0M949 197h0M949 199h0M949 201h0M949 205h0M949 206h0M949 207h0M949 211h0M949 214h0M949 215h0M949 216h0M949 217h0M949 218h0M949 219h0M949 221h0M949 224h0M949 228h0M950 202h0M950 203h0M950 207h0M950 208h0M950 211h0M950 212h0M950 213h0M950 214h0M950 215h0M950 216h0M950 217h0M950 219h0M950 220h0M950 221h0M950 222h0M950 226h0M950 229h0M950 232h0M951 203h0M951 205h0M951 209h0M951 210h0M951 211h0M951 212h0M951 213h0M951 214h0M951 216h0M951 218h0M951 220h0M951 222h0M951 228h0M951 229h0M951 230h0M952 201h0M952 206h0M952 207h0M952 214h0M952 215h0M952 216h0M952 217h0M952 218h0M952 219h0M952 220h0M952 221h0M952 223h0M952 224h0M952 225h0M952 227h0M952 229h0M952 232h0M953 212h0M953 213h0M953 214h0M953 215h0M953 216h0M953 219h0M953 220h0M953 221h0M953 224h0M953 225h0M953 226h0M953 227h0M953 229h0M953 230h0M953 232h0M953 234h0M953 237h0M953 238h0M954 210h0M954 211h0M954 214h0M954 217h0M954 218h0M954 219h0M954 220h0M954 221h0M954 224h0M954 225h0M954 226h0M954 227h0M954 228h0M954 229h0M954 232h0M954 233h0M954 235h0M954 236h0M955 214h0M955 219h0M955 220h0M955 221h0M955 223h0M955 225h0M955 226h0M955 228h0M955 229h0M955 230h0M955 231h0M955 233h0M955 235h0M955 236h0M956 216h0M956 220h0M956 223h0M956 225h0M956 226h0M956 227h0M956 228h0M956 230h0M956 233h0M956 234h0M956 235h0M956 237h0M956 239h0M956 240h0M957 212h0M957 216h0M957 218h0M957 219h0M957 220h0M957 221h0M957 223h0M957 226h0M957 227h0M957 228h0M957 229h0M957 231h0M957 233h0M957 234h0M957 237h0M957 238h0M957 240h0M957 241h0M957 242h0M958 226h0M958 227h0M958 228h0M958 229h0M958 230h0M958 235h0M958 236h0M958 238h0M958 239h0M958 240h0M958 241h0M958 242h0M958 243h0M958 244h0M958 247h0M958 248h0M959 227h0M959 228h0M959 229h0M959 230h0M959 231h0M959 232h0M959 235h0M959 237h0M959 238h0M959 239h0M959 240h0M959 241h0M959 242h0M959 243h0M959 244h0M959 245h0M959 251h0M960 220h0M960 222h0M960 227h0M960 229h0M960 230h0M960 233h0M960 234h0M960 235h0M960 237h0M960 239h0M960 240h0M960 241h0M960 244h0M960 245h0M960 247h0M960 249h0M960 252h0M961 223h0M961 227h0M961 228h0M961 229h0M961 230h0M961 231h0M961 232h0M961 234h0M961 235h0M961 236h0M961 239h0M961 240h0M961 242h0M961 243h0M961 244h0M961 247h0M961 251h0M961 256h0M962 223h0M962 226h0M962 229h0M962 230h0M962 231h0M962 235h0M962 236h0M962 238h0M962 239h0M962 240h0M962 241h0M962 242h0M962 243h0M962 245h0M962 246h0M962 248h0M962 249h0M962 250h0M963 225h0M963 231h0M963 237h0M963 239h0M963 240h0M963 245h0M963 246h0M963 247h0M963 248h0M963 250h0M963 252h0M963 258h0M964 226h0M964 230h0M964 235h0M964 237h0M964 239h0M964 241h0M964 244h0M964 246h0M964 247h0M964 248h0M964 250h0M964 251h0M964 252h0M964 257h0M965 223h0M965 232h0M965 234h0M965 235h0M965 237h0M965 238h0M965 240h0M965 241h0M965 243h0M965 247h0M965 249h0M965 250h0M965 251h0M965 252h0M965 253h0M965 254h0M965 255h0M966 235h0M966 236h0M966 242h0M966 243h0M966 245h0M966 246h0M966 248h0M966 249h0M966 250h0M966 251h0M966 252h0M966 255h0M966 256h0M966 257h0M966 274h0M967 240h0M967 242h0M967 243h0M967 247h0M967 248h0M967 249h0M967 250h0M967 251h0M967 252h0M967 253h0M967 254h0M967 255h0M967 256h0M967 260h0M967 262h0M967 267h0M968 240h0M968 243h0M968 244h0M968 246h0M968 249h0M968 250h0M968 252h0M968 253h0M968 255h0M968 258h0M968 259h0M968 261h0M968 262h0M968 268h0M968 271h0M968 272h0M969 239h0M969 240h0M969 241h0M969 242h0M969 245h0M969 248h0M969 251h0M969 256h0M969 257h0M969 258h0M969 259h0M969 260h0M969 261h0M969 262h0M969 264h0M969 274h0M970 243h0M970 247h0M970 248h0M970 251h0M970 253h0M970 254h0M970 256h0M970 257h0M970 259h0M970 260h0M970 261h0M970 262h0M970 263h0M970 264h0M970 265h0M970 271h0M971 248h0M971 252h0M971 253h0M971 254h0M971 255h0M971 257h0M971 258h0M971 260h0M971 261h0M971 262h0M971 263h0M971 265h0M971 266h0M971 267h0M971 272h0M971 273h0M972 240h0M972 244h0M972 245h0M972 246h0M972 250h0M972 252h0M972 253h0M972 254h0M972 256h0M972 257h0M972 258h0M972 260h0M972 261h0M972 262h0M972 263h0M972 264h0M972 266h0M972 268h0M972 269h0M973 248h0M973 250h0M973 251h0M973 253h0M973 255h0M973 256h0M973 258h0M973 260h0M973 261h0M973 264h0M973 265h0M973 266h0M973 267h0M973 270h0M973 271h0M973 272h0M973 278h0M974 247h0M974 248h0M974 249h0M974 251h0M974 256h0M974 261h0M974 262h0M974 263h0M974 264h0M974 267h0M974 268h0M974 269h0M974 270h0M974 272h0M974 273h0M974 276h0M975 251h0M975 253h0M975 254h0M975 260h0M975 261h0M975 262h0M975 264h0M975 265h0M975 266h0M975 271h0M975 273h0M975 275h0M975 276h0M975 277h0M975 279h0M975 285h0M976 247h0M976 249h0M976 254h0M976 262h0M976 263h0M976 264h0M976 265h0M976 266h0M976 267h0M976 270h0M976 274h0M976 275h0M976 276h0M976 277h0M976 286h0M977 251h0M977 253h0M977 261h0M977 262h0M977 263h0M977 264h0M977 268h0M977 270h0M977 271h0M977 272h0M977 274h0M977 275h0M977 276h0M977 277h0M977 278h0M977 279h0M977 281h0M977 282h0M978 249h0M978 256h0M978 258h0M978 259h0M978 261h0M978 262h0M978 266h0M978 267h0M978 268h0M978 270h0M978 273h0M978 276h0M978 277h0M978 279h0M978 282h0M978 284h0M978 288h0M979 255h0M979 258h0M979 261h0M979 263h0M979 265h0M979 266h0M979 268h0M979 269h0M979 270h0M979 272h0M979 273h0M979 274h0M979 276h0M979 281h0M979 282h0M979 284h0M979 291h0M980 257h0M980 258h0M980 260h0M980 261h0M980 262h0M980 265h0M980 266h0M980 270h0M980 271h0M980 272h0M980 274h0M980 275h0M980 276h0M980 278h0M980 280h0M980 281h0M980 282h0M981 262h0M981 267h0M981 270h0M981 273h0M981 274h0M981 275h0M981 276h0M981 277h0M981 280h0M981 281h0M981 283h0M981 284h0M981 291h0M981 292h0M981 293h0M982 257h0M982 269h0M982 271h0M982 272h0M982 273h0M982 276h0M982 277h0M982 278h0M982 280h0M982 281h0M982 282h0M982 283h0M982 284h0M982 285h0M982 286h0M982 287h0M982 289h0M983 255h0M983 262h0M983 266h0M983 267h0M983 268h0M983 270h0M983 271h0M983 272h0M983 273h0M983 277h0M983 278h0M983 280h0M983 281h0M983 282h0M983 283h0M983 289h0M983 290h0M984 261h0M984 264h0M984 267h0M984 268h0M984 270h0M984 272h0M984 276h0M984 278h0M984 281h0M984 282h0M984 284h0M984 285h0M984 286h0M984 287h0M984 289h0M984 290h0M984 291h0M984 292h0M984 294h0M984 297h0M985 265h0M985 268h0M985 272h0M985 275h0M985 276h0M985 277h0M985 278h0M985 284h0M985 285h0M985 286h0M985 287h0M985 290h0M985 293h0M985 294h0M985 297h0M985 299h0M985 303h0M985 306h0M986 270h0M986 271h0M986 274h0M986 275h0M986 276h0M986 278h0M986 279h0M986 281h0M986 282h0M986 284h0M986 285h0M986 286h0M986 287h0M986 290h0M986 291h0M986 292h0M986 295h0M986 299h0M987 264h0M987 267h0M987 270h0M987 273h0M987 276h0M987 277h0M987 282h0M987 283h0M987 284h0M987 285h0M987 286h0M987 287h0M987 288h0M987 289h0M987 290h0M987 292h0M987 296h0M987 298h0M987 300h0M987 302h0M988 266h0M988 268h0M988 269h0M988 271h0M988 276h0M988 277h0M988 278h0M988 279h0M988 281h0M988 283h0M988 286h0M988 287h0M988 289h0M988 291h0M988 292h0M988 294h0M988 297h0M988 298h0M988 302h0M988 305h0M989 268h0M989 275h0M989 276h0M989 277h0M989 282h0M989 283h0M989 286h0M989 290h0M989 292h0M989 293h0M989 294h0M989 295h0M989 297h0M989 299h0M989 302h0M989 304h0M989 305h0M989 311h0M990 280h0M990 282h0M990 283h0M990 284h0M990 285h0M990 286h0M990 287h0M990 288h0M990 292h0M990 293h0M990 294h0M990 296h0M990 297h0M990 301h0M990 303h0M990 306h0M990 307h0M990 309h0M991 269h0M991 275h0M991 283h0M991 285h0M991 286h0M991 290h0M991 291h0M991 292h0M991 293h0M991 295h0M991 296h0M991 300h0M991 301h0M991 303h0M991 304h0M991 306h0M991 314h0M992 273h0M992 275h0M992 279h0M992 280h0M992 281h0M992 282h0M992 283h0M992 284h0M992 287h0M992 290h0M992 293h0M992 294h0M992 298h0M992 301h0M992 306h0M992 310h0M993 279h0M993 282h0M993 286h0M993 288h0M993 289h0M993 290h0M993 292h0M993 295h0M993 296h0M993 297h0M993 299h0M993 303h0M993 305h0M993 306h0M993 320h0M994 273h0M994 277h0M994 278h0M994 280h0M994 285h0M994 286h0M994 287h0M994 289h0M994 290h0M994 291h0M994 292h0M994 293h0M994 294h0M994 296h0M994 297h0M994 298h0M994 301h0M994 302h0M994 304h0M994 310h0M994 314h0M995 273h0M995 280h0M995 282h0M995 284h0M995 286h0M995 288h0M995 290h0M995 291h0M995 292h0M995 294h0M995 296h0M995 299h0M995 304h0M995 307h0M995 308h0M995 309h0M995 311h0M995 312h0M995 321h0M996 275h0M996 281h0M996 289h0M996 290h0M996 291h0M996 294h0M996 298h0M996 299h0M996 302h0M996 303h0M996 304h0M996 306h0M996 308h0M996 309h0M996 310h0M996 311h0M996 320h0M997 288h0M997 293h0M997 295h0M997 296h0M997 300h0M997 302h0M997 303h0M997 305h0M997 306h0M997 308h0M997 309h0M997 312h0M997 314h0M997 318h0M997 321h0M998 275h0M998 288h0M998 289h0M998 291h0M998 292h0M998 293h0M998 296h0M998 297h0M998 299h0M998 300h0M998 301h0M998 302h0M998 304h0M998 305h0M998 306h0M998 316h0M999 283h0M999 289h0M999 295h0M999 298h0M999 299h0M999 301h0M999 302h0M999 303h0M999 306h0M999 308h0M999 310h0M999 311h0M999 313h0M999 314h0M999 318h0M999 321h0M999 322h0M999 324h0M1000 286h0M1000 287h0M1000 292h0M1000 294h0M1000 299h0M1000 302h0M1000 303h0M1000 304h0M1000 305h0M1000 308h0M1000 310h0M1000 311h0M1000 313h0M1000 320h0M1001 286h0M1001 291h0M1001 292h0M1001 298h0M1001 303h0M1001 304h0M1001 305h0M1001 307h0M1001 310h0M1001 313h0M1001 314h0M1001 316h0M1001 322h0M1001 324h0M1001 328h0M1001 329h0M1002 286h0M1002 287h0M1002 288h0M1002 295h0M1002 296h0M1002 297h0M1002 298h0M1002 299h0M1002 303h0M1002 304h0M1002 305h0M1002 306h0M1002 310h0M1002 314h0M1002 316h0M1002 322h0M1003 286h0M1003 292h0M1003 293h0M1003 294h0M1003 295h0M1003 296h0M1003 299h0M1003 300h0M1003 301h0M1003 302h0M1003 303h0M1003 304h0M1003 306h0M1003 312h0M1003 313h0M1003 314h0M1003 315h0M1003 316h0M1004 288h0M1004 291h0M1004 292h0M1004 301h0M1004 303h0M1004 304h0M1004 305h0M1004 308h0M1004 310h0M1004 311h0M1004 312h0M1004 314h0M1004 315h0M1004 322h0M1004 326h0M1004 329h0M1004 330h0M1004 333h0M1005 283h0M1005 284h0M1005 287h0M1005 290h0M1005 298h0M1005 299h0M1005 303h0M1005 304h0M1005 307h0M1005 309h0M1005 311h0M1005 313h0M1005 315h0M1005 316h0M1005 317h0M1005 318h0M1005 319h0M1005 323h0M1005 324h0M1005 326h0M1006 289h0M1006 292h0M1006 297h0M1006 298h0M1006 305h0M1006 307h0M1006 308h0M1006 311h0M1006 312h0M1006 314h0M1006 315h0M1006 316h0M1006 317h0M1006 320h0M1006 325h0M1006 326h0M1006 334h0M1007 288h0M1007 292h0M1007 299h0M1007 301h0M1007 306h0M1007 307h0M1007 309h0M1007 310h0M1007 313h0M1007 314h0M1007 316h0M1007 317h0M1007 319h0M1007 323h0M1007 324h0M1007 325h0M1007 331h0M1007 332h0M1008 289h0M1008 305h0M1008 309h0M1008 314h0M1008 315h0M1008 316h0M1008 317h0M1008 318h0M1008 319h0M1008 321h0M1008 322h0M1008 323h0M1008 324h0M1008 328h0M1008 332h0M1008 334h0M1008 335h0M1008 336h0M1009 292h0M1009 295h0M1009 298h0M1009 301h0M1009 302h0M1009 303h0M1009 307h0M1009 308h0M1009 309h0M1009 311h0M1009 314h0M1009 315h0M1009 318h0M1009 319h0M1009 321h0M1009 322h0M1009 324h0M1009 334h0M1009 335h0M1010 298h0M1010 300h0M1010 304h0M1010 305h0M1010 311h0M1010 313h0M1010 314h0M1010 315h0M1010 317h0M1010 321h0M1010 322h0M1010 324h0M1010 327h0M1010 329h0M1010 332h0M1010 333h0M1010 337h0M1011 302h0M1011 304h0M1011 305h0M1011 306h0M1011 307h0M1011 308h0M1011 309h0M1011 312h0M1011 314h0M1011 315h0M1011 316h0M1011 317h0M1011 318h0M1011 320h0M1011 328h0M1011 332h0M1011 337h0M1012 297h0M1012 302h0M1012 304h0M1012 307h0M1012 308h0M1012 314h0M1012 315h0M1012 316h0M1012 317h0M1012 319h0M1012 320h0M1012 322h0M1012 323h0M1012 326h0M1012 331h0M1012 332h0M1012 335h0M1012 337h0M1013 303h0M1013 308h0M1013 311h0M1013 312h0M1013 315h0M1013 316h0M1013 318h0M1013 322h0M1013 323h0M1013 324h0M1013 325h0M1013 326h0M1013 327h0M1013 331h0M1013 338h0M1014 297h0M1014 299h0M1014 305h0M1014 306h0M1014 310h0M1014 314h0M1014 320h0M1014 322h0M1014 323h0M1014 324h0M1014 326h0M1014 328h0M1014 329h0M1014 332h0M1014 333h0M1014 335h0M1014 336h0M1014 338h0M1015 296h0M1015 302h0M1015 307h0M1015 308h0M1015 309h0M1015 310h0M1015 313h0M1015 314h0M1015 316h0M1015 317h0M1015 318h0M1015 320h0M1015 323h0M1015 325h0M1015 326h0M1015 329h0M1015 330h0M1015 333h0M1015 336h0M1015 339h0M1016 305h0M1016 307h0M1016 309h0M1016 310h0M1016 313h0M1016 314h0M1016 315h0M1016 318h0M1016 319h0M1016 320h0M1016 322h0M1016 323h0M1016 325h0M1016 326h0M1016 327h0M1016 328h0M1016 338h0M1016 340h0M1016 343h0M1017 305h0M1017 310h0M1017 312h0M1017 314h0M1017 317h0M1017 320h0M1017 321h0M1017 322h0M1017 323h0M1017 324h0M1017 325h0M1017 327h0M1017 329h0M1017 334h0M1017 335h0M1017 337h0M1017 344h0M1018 298h0M1018 303h0M1018 307h0M1018 310h0M1018 311h0M1018 314h0M1018 317h0M1018 321h0M1018 322h0M1018 324h0M1018 329h0M1018 330h0M1018 331h0M1018 335h0M1018 337h0M1018 338h0M1018 339h0M1018 342h0M1018 347h0M1019 306h0M1019 312h0M1019 314h0M1019 317h0M1019 318h0M1019 321h0M1019 324h0M1019 325h0M1019 329h0M1019 331h0M1019 336h0M1019 337h0M1019 343h0M1019 348h0M1019 350h0M1020 303h0M1020 315h0M1020 318h0M1020 323h0M1020 324h0M1020 325h0M1020 326h0M1020 328h0M1020 329h0M1020 330h0M1020 332h0M1020 334h0M1020 335h0M1020 338h0M1020 340h0M1020 341h0M1020 349h0M1021 306h0M1021 310h0M1021 311h0M1021 312h0M1021 315h0M1021 317h0M1021 323h0M1021 327h0M1021 329h0M1021 330h0M1021 332h0M1021 333h0M1021 334h0M1021 335h0M1021 340h0M1021 342h0M1021 345h0M1022 323h0M1022 324h0M1022 327h0M1022 328h0M1022 329h0M1022 330h0M1022 331h0M1022 332h0M1022 337h0M1022 338h0M1022 339h0M1022 342h0M1022 344h0M1022 345h0M1022 347h0M1022 351h0M1023 307h0M1023 308h0M1023 321h0M1023 325h0M1023 327h0M1023 328h0M1023 329h0M1023 331h0M1023 334h0M1023 335h0M1023 336h0M1023 337h0M1023 343h0M1023 344h0M1023 345h0M1023 346h0M1023 350h0M1023 355h0M1024 319h0M1024 324h0M1024 327h0M1024 328h0M1024 330h0M1024 331h0M1024 333h0M1024 334h0M1024 338h0M1024 339h0M1024 340h0M1024 343h0M1024 344h0M1024 345h0M1024 353h0M1025 305h0M1025 314h0M1025 316h0M1025 322h0M1025 325h0M1025 327h0M1025 328h0M1025 331h0M1025 332h0M1025 337h0M1025 338h0M1025 342h0M1025 344h0M1025 350h0M1025 353h0M1025 354h0M1025 356h0M1026 307h0M1026 309h0M1026 314h0M1026 320h0M1026 321h0M1026 322h0M1026 324h0M1026 329h0M1026 331h0M1026 333h0M1026 334h0M1026 339h0M1026 340h0M1026 341h0M1026 343h0M1026 345h0M1026 349h0M1026 355h0M1027 321h0M1027 326h0M1027 330h0M1027 331h0M1027 334h0M1027 336h0M1027 338h0M1027 342h0M1027 345h0M1027 346h0M1027 348h0M1027 350h0M1027 353h0M1027 356h0M1027 358h0M1028 314h0M1028 317h0M1028 320h0M1028 323h0M1028 324h0M1028 329h0M1028 331h0M1028 332h0M1028 334h0M1028 338h0M1028 339h0M1028 342h0M1028 346h0M1028 349h0M1028 350h0M1028 355h0M1028 360h0M1028 365h0M1029 310h0M1029 318h0M1029 320h0M1029 323h0M1029 326h0M1029 328h0M1029 329h0M1029 338h0M1029 341h0M1029 342h0M1029 344h0M1029 346h0M1029 349h0M1029 350h0M1029 355h0M1029 358h0M1029 361h0M1030 320h0M1030 323h0M1030 324h0M1030 329h0M1030 330h0M1030 331h0M1030 336h0M1030 340h0M1030 342h0M1030 345h0M1030 347h0M1030 348h0M1030 349h0M1030 354h0M1030 357h0M1030 358h0M1030 359h0M1030 362h0M1030 369h0M1031 327h0M1031 330h0M1031 332h0M1031 333h0M1031 336h0M1031 338h0M1031 342h0M1031 345h0M1031 347h0M1031 348h0M1031 349h0M1031 350h0M1031 351h0M1031 354h0M1031 355h0M1031 357h0M1031 358h0M1031 365h0M1031 367h0M1032 320h0M1032 327h0M1032 329h0M1032 330h0M1032 336h0M1032 338h0M1032 342h0M1032 345h0M1032 346h0M1032 349h0M1032 351h0M1032 352h0M1032 355h0M1032 356h0M1032 359h0M1032 362h0M1033 321h0M1033 323h0M1033 328h0M1033 332h0M1033 333h0M1033 334h0M1033 335h0M1033 340h0M1033 343h0M1033 344h0M1033 345h0M1033 348h0M1033 349h0M1033 350h0M1033 351h0M1033 357h0M1033 359h0M1034 326h0M1034 327h0M1034 328h0M1034 331h0M1034 335h0M1034 336h0M1034 337h0M1034 338h0M1034 341h0M1034 345h0M1034 347h0M1034 348h0M1034 349h0M1034 350h0M1034 351h0M1034 353h0M1034 355h0M1034 357h0M1034 359h0M1034 360h0M1034 366h0M1035 322h0M1035 327h0M1035 330h0M1035 331h0M1035 334h0M1035 335h0M1035 338h0M1035 339h0M1035 342h0M1035 343h0M1035 347h0M1035 348h0M1035 349h0M1035 354h0M1035 356h0M1035 357h0M1035 359h0M1036 322h0M1036 323h0M1036 332h0M1036 334h0M1036 335h0M1036 340h0M1036 342h0M1036 343h0M1036 345h0M1036 347h0M1036 348h0M1036 349h0M1036 350h0M1036 351h0M1036 353h0M1036 357h0M1036 359h0M1036 364h0M1037 325h0M1037 328h0M1037 335h0M1037 337h0M1037 341h0M1037 343h0M1037 346h0M1037 348h0M1037 350h0M1037 353h0M1037 354h0M1037 355h0M1037 357h0M1037 358h0M1037 360h0M1037 363h0M1037 367h0M1037 369h0M1038 320h0M1038 332h0M1038 337h0M1038 340h0M1038 342h0M1038 343h0M1038 344h0M1038 345h0M1038 351h0M1038 352h0M1038 354h0M1038 355h0M1038 356h0M1038 357h0M1038 372h0M1038 373h0M1039 334h0M1039 337h0M1039 341h0M1039 342h0M1039 343h0M1039 344h0M1039 346h0M1039 348h0M1039 351h0M1039 353h0M1039 354h0M1039 356h0M1039 357h0M1039 359h0M1039 360h0M1039 369h0M1040 326h0M1040 327h0M1040 329h0M1040 331h0M1040 337h0M1040 339h0M1040 342h0M1040 344h0M1040 351h0M1040 352h0M1040 353h0M1040 357h0M1040 358h0M1040 362h0M1040 363h0M1040 367h0M1041 327h0M1041 333h0M1041 334h0M1041 337h0M1041 338h0M1041 340h0M1041 343h0M1041 344h0M1041 347h0M1041 348h0M1041 349h0M1041 350h0M1041 352h0M1041 355h0M1041 356h0M1041 368h0M1041 370h0M1042 335h0M1042 341h0M1042 342h0M1042 343h0M1042 344h0M1042 346h0M1042 349h0M1042 350h0M1042 351h0M1042 353h0M1042 354h0M1042 356h0M1042 359h0M1042 360h0M1042 365h0M1042 366h0M1042 370h0M1042 378h0M1043 334h0M1043 337h0M1043 338h0M1043 340h0M1043 342h0M1043 347h0M1043 350h0M1043 352h0M1043 353h0M1043 355h0M1043 358h0M1043 360h0M1043 361h0M1043 366h0M1043 367h0M1043 370h0M1043 371h0M1043 373h0M1044 329h0M1044 333h0M1044 340h0M1044 342h0M1044 347h0M1044 348h0M1044 352h0M1044 354h0M1044 356h0M1044 357h0M1044 358h0M1044 359h0M1044 360h0M1044 362h0M1044 364h0M1044 366h0M1044 368h0M1044 370h0M1044 373h0M1044 379h0M1045 330h0M1045 332h0M1045 336h0M1045 346h0M1045 348h0M1045 350h0M1045 351h0M1045 353h0M1045 354h0M1045 355h0M1045 358h0M1045 360h0M1045 361h0M1045 366h0M1045 368h0M1045 370h0M1045 375h0M1046 338h0M1046 343h0M1046 347h0M1046 351h0M1046 352h0M1046 356h0M1046 357h0M1046 358h0M1046 360h0M1046 362h0M1046 364h0M1046 365h0M1046 367h0M1046 368h0M1046 371h0M1046 372h0M1046 375h0M1046 377h0M1046 386h0M1047 329h0M1047 333h0M1047 340h0M1047 344h0M1047 345h0M1047 347h0M1047 348h0M1047 350h0M1047 355h0M1047 356h0M1047 357h0M1047 360h0M1047 361h0M1047 362h0M1047 364h0M1047 365h0M1047 366h0M1047 368h0M1047 375h0M1048 328h0M1048 339h0M1048 344h0M1048 349h0M1048 350h0M1048 351h0M1048 355h0M1048 356h0M1048 361h0M1048 363h0M1048 365h0M1048 366h0M1048 367h0M1048 368h0M1048 369h0M1048 375h0M1048 377h0M1048 383h0M1049 332h0M1049 339h0M1049 340h0M1049 341h0M1049 347h0M1049 351h0M1049 352h0M1049 357h0M1049 359h0M1049 360h0M1049 361h0M1049 363h0M1049 366h0M1049 368h0M1049 369h0M1049 373h0M1049 377h0M1049 378h0M1049 380h0M1050 343h0M1050 345h0M1050 347h0M1050 351h0M1050 352h0M1050 353h0M1050 354h0M1050 355h0M1050 356h0M1050 361h0M1050 366h0M1050 368h0M1050 371h0M1050 374h0M1050 375h0M1050 376h0M1050 380h0M1051 339h0M1051 342h0M1051 345h0M1051 346h0M1051 351h0M1051 352h0M1051 355h0M1051 356h0M1051 357h0M1051 360h0M1051 362h0M1051 366h0M1051 373h0M1051 376h0M1051 378h0M1051 379h0M1051 380h0M1051 381h0M1052 329h0M1052 339h0M1052 346h0M1052 349h0M1052 352h0M1052 357h0M1052 358h0M1052 359h0M1052 360h0M1052 361h0M1052 367h0M1052 370h0M1052 373h0M1052 375h0M1052 376h0M1052 377h0M1052 382h0M1053 341h0M1053 342h0M1053 347h0M1053 349h0M1053 350h0M1053 351h0M1053 357h0M1053 360h0M1053 363h0M1053 364h0M1053 365h0M1053 366h0M1053 367h0M1053 368h0M1053 369h0M1053 371h0M1053 374h0M1053 377h0M1053 380h0M1053 390h0M1054 341h0M1054 342h0M1054 343h0M1054 355h0M1054 356h0M1054 362h0M1054 363h0M1054 367h0M1054 368h0M1054 369h0M1054 370h0M1054 371h0M1054 373h0M1054 374h0M1054 380h0M1054 382h0M1055 346h0M1055 353h0M1055 354h0M1055 357h0M1055 359h0M1055 361h0M1055 362h0M1055 364h0M1055 367h0M1055 370h0M1055 374h0M1055 375h0M1055 376h0M1055 377h0M1055 381h0M1055 383h0M1055 386h0M1056 341h0M1056 342h0M1056 350h0M1056 352h0M1056 353h0M1056 359h0M1056 360h0M1056 361h0M1056 363h0M1056 368h0M1056 369h0M1056 370h0M1056 372h0M1056 374h0M1056 376h0M1056 377h0M1056 380h0M1056 383h0M1056 387h0M1056 388h0M1057 344h0M1057 345h0M1057 350h0M1057 355h0M1057 357h0M1057 359h0M1057 362h0M1057 365h0M1057 366h0M1057 367h0M1057 368h0M1057 369h0M1057 373h0M1057 374h0M1057 378h0M1057 379h0M1057 390h0M1058 345h0M1058 352h0M1058 354h0M1058 362h0M1058 364h0M1058 367h0M1058 370h0M1058 372h0M1058 373h0M1058 374h0M1058 376h0M1058 377h0M1058 381h0M1058 383h0M1058 386h0M1058 390h0M1058 392h0M1058 394h0M1059 338h0M1059 341h0M1059 347h0M1059 351h0M1059 353h0M1059 357h0M1059 358h0M1059 359h0M1059 363h0M1059 368h0M1059 370h0M1059 376h0M1059 380h0M1059 381h0M1059 396h0M1060 355h0M1060 356h0M1060 358h0M1060 361h0M1060 363h0M1060 365h0M1060 367h0M1060 369h0M1060 374h0M1060 375h0M1060 378h0M1060 379h0M1060 384h0M1060 385h0M1060 386h0M1060 388h0M1061 350h0M1061 352h0M1061 354h0M1061 357h0M1061 358h0M1061 362h0M1061 366h0M1061 368h0M1061 371h0M1061 372h0M1061 375h0M1061 380h0M1061 381h0M1061 383h0M1061 385h0M1061 386h0M1061 387h0M1061 389h0M1061 391h0M1061 398h0M1062 349h0M1062 351h0M1062 354h0M1062 356h0M1062 360h0M1062 361h0M1062 365h0M1062 366h0M1062 368h0M1062 371h0M1062 374h0M1062 375h0M1062 377h0M1062 378h0M1062 379h0M1062 391h0M1062 393h0M1062 394h0M1063 346h0M1063 350h0M1063 353h0M1063 354h0M1063 358h0M1063 359h0M1063 360h0M1063 361h0M1063 365h0M1063 369h0M1063 374h0M1063 375h0M1063 377h0M1063 378h0M1063 383h0M1063 386h0M1063 388h0M1063 392h0M1063 393h0M1063 401h0M1064 350h0M1064 354h0M1064 356h0M1064 357h0M1064 360h0M1064 362h0M1064 369h0M1064 371h0M1064 373h0M1064 374h0M1064 375h0M1064 376h0M1064 377h0M1064 378h0M1064 380h0M1064 382h0M1064 385h0M1064 398h0M1065 346h0M1065 352h0M1065 354h0M1065 359h0M1065 364h0M1065 367h0M1065 370h0M1065 371h0M1065 374h0M1065 379h0M1065 383h0M1065 385h0M1065 387h0M1065 391h0M1065 393h0M1065 394h0M1065 397h0M1065 399h0M1066 352h0M1066 356h0M1066 357h0M1066 360h0M1066 365h0M1066 366h0M1066 374h0M1066 376h0M1066 380h0M1066 381h0M1066 382h0M1066 383h0M1066 384h0M1066 386h0M1066 389h0M1066 392h0M1066 393h0M1066 399h0M1066 403h0M1067 358h0M1067 359h0M1067 361h0M1067 367h0M1067 371h0M1067 374h0M1067 376h0M1067 377h0M1067 379h0M1067 381h0M1067 382h0M1067 386h0M1067 387h0M1067 390h0M1067 391h0M1067 392h0M1067 397h0M1067 401h0M1068 355h0M1068 361h0M1068 365h0M1068 367h0M1068 368h0M1068 369h0M1068 370h0M1068 371h0M1068 377h0M1068 378h0M1068 379h0M1068 383h0M1068 386h0M1068 390h0M1068 393h0M1068 394h0M1068 395h0M1068 396h0M1068 399h0M1068 405h0M1069 353h0M1069 357h0M1069 369h0M1069 370h0M1069 374h0M1069 375h0M1069 377h0M1069 378h0M1069 379h0M1069 381h0M1069 383h0M1069 386h0M1069 388h0M1069 389h0M1069 390h0M1069 392h0M1069 399h0M1069 400h0M1070 356h0M1070 359h0M1070 360h0M1070 363h0M1070 364h0M1070 368h0M1070 369h0M1070 370h0M1070 371h0M1070 373h0M1070 374h0M1070 375h0M1070 378h0M1070 381h0M1070 386h0M1070 387h0M1070 395h0M1070 405h0M1071 358h0M1071 360h0M1071 370h0M1071 371h0M1071 374h0M1071 375h0M1071 376h0M1071 377h0M1071 378h0M1071 379h0M1071 381h0M1071 384h0M1071 386h0M1071 387h0M1071 389h0M1071 390h0M1071 394h0M1071 403h0M1071 405h0M1072 355h0M1072 359h0M1072 362h0M1072 363h0M1072 370h0M1072 371h0M1072 372h0M1072 375h0M1072 379h0M1072 380h0M1072 381h0M1072 382h0M1072 383h0M1072 387h0M1072 395h0M1072 396h0M1072 399h0M1072 403h0M1073 353h0M1073 364h0M1073 372h0M1073 375h0M1073 377h0M1073 380h0M1073 381h0M1073 383h0M1073 384h0M1073 385h0M1073 388h0M1073 389h0M1073 391h0M1073 395h0M1073 399h0M1073 406h0M1073 407h0M1074 361h0M1074 374h0M1074 376h0M1074 377h0M1074 379h0M1074 382h0M1074 384h0M1074 385h0M1074 387h0M1074 388h0M1074 389h0M1074 391h0M1074 392h0M1074 395h0M1074 397h0M1074 399h0M1074 402h0M1075 367h0M1075 371h0M1075 373h0M1075 374h0M1075 375h0M1075 377h0M1075 378h0M1075 379h0M1075 380h0M1075 383h0M1075 384h0M1075 385h0M1075 389h0M1075 391h0M1075 393h0M1075 394h0M1075 398h0M1075 401h0M1075 404h0M1075 421h0M1076 359h0M1076 367h0M1076 371h0M1076 374h0M1076 375h0M1076 378h0M1076 381h0M1076 383h0M1076 385h0M1076 386h0M1076 388h0M1076 393h0M1076 395h0M1076 396h0M1076 400h0M1076 419h0M1077 362h0M1077 363h0M1077 366h0M1077 368h0M1077 372h0M1077 375h0M1077 376h0M1077 377h0M1077 378h0M1077 380h0M1077 381h0M1077 386h0M1077 387h0M1077 388h0M1077 390h0M1077 391h0M1077 394h0M1077 401h0M1077 404h0M1078 363h0M1078 370h0M1078 371h0M1078 374h0M1078 379h0M1078 381h0M1078 384h0M1078 389h0M1078 391h0M1078 392h0M1078 393h0M1078 394h0M1078 397h0M1078 399h0M1078 400h0M1078 404h0M1078 415h0M1079 364h0M1079 373h0M1079 374h0M1079 376h0M1079 377h0M1079 380h0M1079 382h0M1079 383h0M1079 386h0M1079 388h0M1079 389h0M1079 391h0M1079 392h0M1079 393h0M1079 395h0M1079 398h0M1079 401h0M1079 419h0M1080 361h0M1080 368h0M1080 370h0M1080 374h0M1080 377h0M1080 379h0M1080 384h0M1080 387h0M1080 388h0M1080 390h0M1080 393h0M1080 394h0M1080 399h0M1080 400h0M1080 401h0M1080 403h0M1080 417h0M1081 362h0M1081 371h0M1081 372h0M1081 375h0M1081 379h0M1081 380h0M1081 384h0M1081 385h0M1081 388h0M1081 392h0M1081 394h0M1081 395h0M1081 396h0M1081 397h0M1081 398h0M1081 399h0M1081 407h0M1081 408h0M1081 409h0M1081 414h0M1082 357h0M1082 370h0M1082 373h0M1082 374h0M1082 376h0M1082 379h0M1082 382h0M1082 383h0M1082 385h0M1082 386h0M1082 390h0M1082 391h0M1082 397h0M1082 398h0M1082 401h0M1082 402h0M1082 403h0M1082 416h0M1083 370h0M1083 377h0M1083 380h0M1083 381h0M1083 382h0M1083 383h0M1083 387h0M1083 388h0M1083 389h0M1083 390h0M1083 391h0M1083 392h0M1083 393h0M1083 395h0M1083 397h0M1083 402h0M1083 406h0M1083 409h0M1083 414h0M1084 362h0M1084 364h0M1084 373h0M1084 376h0M1084 378h0M1084 379h0M1084 385h0M1084 386h0M1084 387h0M1084 390h0M1084 391h0M1084 392h0M1084 394h0M1084 397h0M1084 398h0M1084 399h0M1084 401h0M1085 359h0M1085 365h0M1085 367h0M1085 369h0M1085 377h0M1085 380h0M1085 381h0M1085 388h0M1085 389h0M1085 390h0M1085 391h0M1085 393h0M1085 395h0M1085 402h0M1085 406h0M1085 409h0M1085 410h0M1085 411h0M1085 419h0M1086 357h0M1086 358h0M1086 368h0M1086 370h0M1086 377h0M1086 378h0M1086 379h0M1086 385h0M1086 388h0M1086 389h0M1086 390h0M1086 391h0M1086 392h0M1086 394h0M1086 396h0M1086 397h0M1086 401h0M1086 403h0M1086 404h0M1086 405h0M1086 408h0M1086 420h0M1087 363h0M1087 364h0M1087 368h0M1087 370h0M1087 375h0M1087 378h0M1087 381h0M1087 382h0M1087 390h0M1087 392h0M1087 396h0M1087 397h0M1087 399h0M1087 402h0M1087 406h0M1087 407h0M1087 411h0M1087 416h0M1088 363h0M1088 370h0M1088 371h0M1088 380h0M1088 381h0M1088 385h0M1088 388h0M1088 390h0M1088 394h0M1088 395h0M1088 399h0M1088 400h0M1088 404h0M1088 405h0M1088 415h0M1088 416h0M1089 369h0M1089 371h0M1089 378h0M1089 383h0M1089 384h0M1089 394h0M1089 398h0M1089 399h0M1089 401h0M1089 403h0M1089 404h0M1089 406h0M1089 408h0M1089 411h0M1089 414h0M1089 420h0M1089 423h0M1089 424h0M1090 358h0M1090 364h0M1090 366h0M1090 377h0M1090 380h0M1090 382h0M1090 386h0M1090 391h0M1090 392h0M1090 397h0M1090 398h0M1090 399h0M1090 401h0M1090 402h0M1090 403h0M1090 405h0M1090 406h0M1090 407h0M1090 409h0M1090 414h0M1090 421h0M1091 377h0M1091 378h0M1091 380h0M1091 381h0M1091 384h0M1091 386h0M1091 388h0M1091 389h0M1091 392h0M1091 397h0M1091 403h0M1091 405h0M1091 407h0M1091 409h0M1091 410h0M1091 411h0M1091 412h0M1091 417h0M1091 421h0M1092 363h0M1092 373h0M1092 380h0M1092 383h0M1092 386h0M1092 389h0M1092 393h0M1092 395h0M1092 398h0M1092 400h0M1092 401h0M1092 404h0M1092 411h0M1092 414h0M1092 415h0M1092 416h0M1093 374h0M1093 376h0M1093 378h0M1093 379h0M1093 388h0M1093 389h0M1093 392h0M1093 394h0M1093 397h0M1093 398h0M1093 402h0M1093 404h0M1093 410h0M1093 411h0M1093 413h0M1093 420h0M1093 430h0M1094 366h0M1094 370h0M1094 371h0M1094 372h0M1094 379h0M1094 380h0M1094 389h0M1094 393h0M1094 394h0M1094 395h0M1094 398h0M1094 400h0M1094 404h0M1094 406h0M1094 408h0M1094 418h0M1094 423h0M1094 427h0M1094 430h0M1095 374h0M1095 380h0M1095 382h0M1095 383h0M1095 384h0M1095 386h0M1095 389h0M1095 390h0M1095 392h0M1095 403h0M1095 405h0M1095 406h0M1095 408h0M1095 409h0M1095 420h0M1095 423h0M1095 424h0M1095 429h0M1096 367h0M1096 374h0M1096 375h0M1096 376h0M1096 377h0M1096 380h0M1096 381h0M1096 382h0M1096 386h0M1096 389h0M1096 391h0M1096 395h0M1096 402h0M1096 406h0M1096 407h0M1096 411h0M1096 413h0M1096 414h0M1096 418h0M1096 440h0M1097 378h0M1097 381h0M1097 382h0M1097 383h0M1097 389h0M1097 392h0M1097 393h0M1097 399h0M1097 402h0M1097 403h0M1097 404h0M1097 406h0M1097 407h0M1097 408h0M1097 413h0M1097 415h0M1097 417h0M1097 418h0M1097 425h0M1097 428h0M1098 381h0M1098 382h0M1098 383h0M1098 385h0M1098 387h0M1098 392h0M1098 394h0M1098 399h0M1098 403h0M1098 404h0M1098 405h0M1098 406h0M1098 408h0M1098 410h0M1098 411h0M1098 412h0M1098 416h0M1098 417h0M1098 420h0M1099 372h0M1099 378h0M1099 380h0M1099 381h0M1099 382h0M1099 383h0M1099 385h0M1099 386h0M1099 387h0M1099 390h0M1099 392h0M1099 397h0M1099 398h0M1099 401h0M1099 411h0M1099 417h0M1099 420h0M1099 423h0M1100 372h0M1100 377h0M1100 382h0M1100 385h0M1100 387h0M1100 389h0M1100 390h0M1100 391h0M1100 394h0M1100 398h0M1100 399h0M1100 400h0M1100 402h0M1100 403h0M1100 411h0M1100 422h0M1100 426h0M1101 369h0M1101 379h0M1101 380h0M1101 384h0M1101 388h0M1101 393h0M1101 395h0M1101 396h0M1101 399h0M1101 404h0M1101 405h0M1101 411h0M1101 412h0M1101 413h0M1101 414h0M1101 419h0M1101 422h0M1102 374h0M1102 377h0M1102 379h0M1102 380h0M1102 401h0M1102 402h0M1102 405h0M1102 411h0M1102 413h0M1102 415h0M1102 417h0M1102 420h0M1102 423h0M1103 369h0M1103 371h0M1103 382h0M1103 391h0M1103 392h0M1103 399h0M1103 402h0M1103 406h0M1103 407h0M1103 408h0M1103 411h0M1103 414h0M1103 415h0M1103 417h0M1104 365h0M1104 371h0M1104 375h0M1104 377h0M1104 387h0M1104 390h0M1104 396h0M1104 397h0M1104 398h0M1104 404h0M1104 405h0M1104 407h0M1104 410h0M1104 411h0M1104 412h0M1104 413h0M1104 422h0M1104 428h0M1105 375h0M1105 392h0M1105 395h0M1105 398h0M1105 405h0M1105 406h0M1105 407h0M1105 408h0M1105 409h0M1105 410h0M1105 412h0M1105 413h0M1105 415h0M1105 417h0M1105 418h0M1105 419h0M1105 422h0M1105 424h0M1106 378h0M1106 380h0M1106 384h0M1106 387h0M1106 388h0M1106 389h0M1106 395h0M1106 398h0M1106 399h0M1106 400h0M1106 403h0M1106 404h0M1106 405h0M1106 410h0M1106 411h0M1106 414h0M1106 421h0M1107 382h0M1107 390h0M1107 395h0M1107 397h0M1107 398h0M1107 401h0M1107 405h0M1107 407h0M1107 408h0M1107 410h0M1107 413h0M1107 414h0M1107 416h0M1107 417h0M1107 418h0M1107 421h0M1107 429h0M1107 430h0M1108 372h0M1108 388h0M1108 390h0M1108 396h0M1108 400h0M1108 403h0M1108 406h0M1108 407h0M1108 410h0M1108 412h0M1108 413h0M1108 414h0M1108 418h0M1108 420h0M1108 422h0M1108 427h0M1108 429h0M1108 430h0M1109 384h0M1109 390h0M1109 394h0M1109 395h0M1109 396h0M1109 397h0M1109 399h0M1109 409h0M1109 413h0M1109 414h0M1109 415h0M1109 416h0M1109 418h0M1109 421h0M1109 424h0M1109 429h0M1109 433h0M1110 386h0M1110 388h0M1110 390h0M1110 391h0M1110 396h0M1110 397h0M1110 399h0M1110 402h0M1110 404h0M1110 408h0M1110 411h0M1110 412h0M1110 413h0M1110 416h0M1110 417h0M1110 418h0M1110 419h0M1110 420h0M1110 421h0M1110 439h0M1110 443h0M1111 384h0M1111 390h0M1111 392h0M1111 393h0M1111 396h0M1111 397h0M1111 401h0M1111 403h0M1111 406h0M1111 409h0M1111 411h0M1111 412h0M1111 415h0M1111 416h0M1111 420h0M1111 427h0M1112 384h0M1112 385h0M1112 390h0M1112 395h0M1112 398h0M1112 400h0M1112 402h0M1112 403h0M1112 404h0M1112 407h0M1112 410h0M1112 413h0M1112 416h0M1112 423h0M1112 424h0M1112 426h0M1112 440h0M1112 445h0M1113 384h0M1113 385h0M1113 386h0M1113 388h0M1113 389h0M1113 390h0M1113 395h0M1113 397h0M1113 403h0M1113 404h0M1113 405h0M1113 412h0M1113 414h0M1113 417h0M1113 420h0M1113 421h0M1113 423h0M1113 425h0M1113 427h0M1113 428h0M1113 433h0M1113 438h0M1114 393h0M1114 394h0M1114 395h0M1114 397h0M1114 400h0M1114 403h0M1114 405h0M1114 409h0M1114 411h0M1114 414h0M1114 416h0M1114 417h0M1114 419h0M1114 421h0M1114 425h0M1114 426h0M1114 430h0M1114 438h0M1114 443h0M1114 446h0M1115 381h0M1115 396h0M1115 399h0M1115 406h0M1115 411h0M1115 412h0M1115 417h0M1115 418h0M1115 420h0M1115 425h0M1115 427h0M1115 430h0M1115 433h0M1115 434h0M1115 435h0M1115 437h0M1115 441h0M1115 443h0M1116 394h0M1116 400h0M1116 402h0M1116 406h0M1116 407h0M1116 408h0M1116 409h0M1116 412h0M1116 419h0M1116 421h0M1116 425h0M1116 426h0M1116 428h0M1116 441h0M1116 445h0M1117 382h0M1117 392h0M1117 393h0M1117 395h0M1117 397h0M1117 400h0M1117 403h0M1117 404h0M1117 409h0M1117 411h0M1117 412h0M1117 413h0M1117 414h0M1117 416h0M1117 417h0M1117 420h0M1117 424h0M1117 426h0M1117 428h0M1117 430h0M1117 439h0M1118 379h0M1118 382h0M1118 384h0M1118 391h0M1118 394h0M1118 396h0M1118 397h0M1118 398h0M1118 400h0M1118 407h0M1118 412h0M1118 413h0M1118 415h0M1118 416h0M1118 418h0M1118 422h0M1118 424h0M1118 427h0M1118 428h0M1118 431h0M1118 432h0M1118 436h0M1119 390h0M1119 391h0M1119 394h0M1119 399h0M1119 402h0M1119 413h0M1119 414h0M1119 415h0M1119 416h0M1119 417h0M1119 420h0M1119 422h0M1119 426h0M1119 429h0M1119 431h0M1119 432h0M1119 444h0M1119 449h0M1120 378h0M1120 383h0M1120 388h0M1120 392h0M1120 395h0M1120 400h0M1120 405h0M1120 406h0M1120 408h0M1120 412h0M1120 414h0M1120 423h0M1120 431h0M1120 432h0M1120 434h0M1120 435h0M1120 439h0M1120 445h0M1120 447h0M1120 449h0M1120 451h0M1121 381h0M1121 397h0M1121 400h0M1121 404h0M1121 405h0M1121 409h0M1121 410h0M1121 411h0M1121 413h0M1121 422h0M1121 423h0M1121 424h0M1121 425h0M1121 431h0M1121 434h0M1121 435h0M1121 444h0M1121 451h0M1121 453h0M1122 398h0M1122 402h0M1122 403h0M1122 404h0M1122 405h0M1122 415h0M1122 417h0M1122 418h0M1122 423h0M1122 425h0M1122 426h0M1122 432h0M1122 438h0M1122 443h0M1122 445h0M1122 446h0M1122 447h0M1122 454h0M1122 457h0M1123 390h0M1123 396h0M1123 398h0M1123 404h0M1123 409h0M1123 412h0M1123 415h0M1123 416h0M1123 417h0M1123 421h0M1123 422h0M1123 423h0M1123 425h0M1123 427h0M1123 428h0M1123 431h0M1123 434h0M1124 397h0M1124 408h0M1124 410h0M1124 414h0M1124 415h0M1124 417h0M1124 422h0M1124 423h0M1124 424h0M1124 425h0M1124 428h0M1124 429h0M1124 430h0M1124 432h0M1124 436h0M1124 437h0M1124 442h0M1124 446h0M1124 470h0M1124 471h0M1125 384h0M1125 386h0M1125 400h0M1125 410h0M1125 411h0M1125 415h0M1125 418h0M1125 423h0M1125 428h0M1125 429h0M1125 431h0M1125 435h0M1125 437h0M1125 440h0M1125 452h0M1125 454h0M1125 457h0M1126 390h0M1126 397h0M1126 399h0M1126 403h0M1126 413h0M1126 414h0M1126 415h0M1126 418h0M1126 420h0M1126 421h0M1126 424h0M1126 425h0M1126 426h0M1126 433h0M1126 441h0M1126 444h0M1126 447h0M1126 451h0M1126 453h0M1126 455h0M1126 467h0M1127 381h0M1127 385h0M1127 403h0M1127 406h0M1127 408h0M1127 416h0M1127 420h0M1127 425h0M1127 426h0M1127 430h0M1127 431h0M1127 436h0M1127 438h0M1127 442h0M1127 458h0M1127 467h0M1128 385h0M1128 386h0M1128 396h0M1128 399h0M1128 409h0M1128 410h0M1128 413h0M1128 419h0M1128 422h0M1128 423h0M1128 430h0M1128 431h0M1128 432h0M1128 433h0M1128 436h0M1128 447h0M1128 449h0M1128 451h0M1128 452h0M1128 463h0M1129 389h0M1129 392h0M1129 397h0M1129 401h0M1129 414h0M1129 418h0M1129 421h0M1129 422h0M1129 426h0M1129 427h0M1129 430h0M1129 431h0M1129 432h0M1129 433h0M1129 434h0M1129 437h0M1129 440h0M1129 443h0M1129 449h0M1129 456h0M1129 469h0M1130 386h0M1130 397h0M1130 399h0M1130 408h0M1130 412h0M1130 413h0M1130 418h0M1130 419h0M1130 423h0M1130 424h0M1130 427h0M1130 429h0M1130 432h0M1130 433h0M1130 434h0M1130 443h0M1130 449h0M1130 451h0M1130 452h0M1130 456h0M1130 467h0M1131 395h0M1131 404h0M1131 408h0M1131 409h0M1131 411h0M1131 413h0M1131 415h0M1131 418h0M1131 419h0M1131 424h0M1131 425h0M1131 426h0M1131 428h0M1131 435h0M1131 438h0M1131 443h0M1131 444h0M1131 451h0M1131 460h0M1131 465h0M1132 393h0M1132 403h0M1132 406h0M1132 412h0M1132 419h0M1132 427h0M1132 430h0M1132 433h0M1132 436h0M1132 439h0M1132 440h0M1132 441h0M1132 444h0M1132 449h0M1132 452h0M1132 454h0M1133 400h0M1133 403h0M1133 404h0M1133 405h0M1133 406h0M1133 413h0M1133 414h0M1133 415h0M1133 417h0M1133 421h0M1133 423h0M1133 426h0M1133 427h0M1133 430h0M1133 434h0M1133 436h0M1133 442h0M1133 455h0M1133 458h0M1133 462h0M1133 464h0M1134 397h0M1134 401h0M1134 406h0M1134 410h0M1134 411h0M1134 413h0M1134 421h0M1134 424h0M1134 431h0M1134 432h0M1134 434h0M1134 438h0M1134 441h0M1134 444h0M1134 447h0M1134 454h0M1134 469h0M1135 397h0M1135 407h0M1135 409h0M1135 416h0M1135 417h0M1135 423h0M1135 425h0M1135 427h0M1135 430h0M1135 434h0M1135 441h0M1135 443h0M1135 444h0M1135 451h0M1135 452h0M1135 453h0M1135 454h0M1135 464h0M1136 404h0M1136 408h0M1136 416h0M1136 419h0M1136 423h0M1136 430h0M1136 431h0M1136 432h0M1136 437h0M1136 438h0M1136 440h0M1136 444h0M1136 452h0M1136 455h0M1136 460h0M1136 467h0M1137 402h0M1137 408h0M1137 412h0M1137 415h0M1137 424h0M1137 426h0M1137 427h0M1137 432h0M1137 433h0M1137 435h0M1137 437h0M1137 439h0M1137 440h0M1137 444h0M1137 445h0M1137 451h0M1137 456h0M1137 469h0M1138 400h0M1138 401h0M1138 402h0M1138 405h0M1138 407h0M1138 414h0M1138 417h0M1138 422h0M1138 424h0M1138 429h0M1138 432h0M1138 433h0M1138 434h0M1138 441h0M1138 443h0M1138 448h0M1138 457h0M1138 458h0M1139 400h0M1139 405h0M1139 406h0M1139 408h0M1139 417h0M1139 420h0M1139 424h0M1139 427h0M1139 430h0M1139 433h0M1139 439h0M1139 448h0M1139 450h0M1139 452h0M1139 457h0M1139 462h0M1139 463h0M1139 464h0M1139 473h0M1140 400h0M1140 414h0M1140 416h0M1140 418h0M1140 419h0M1140 422h0M1140 429h0M1140 434h0M1140 437h0M1140 438h0M1140 439h0M1140 440h0M1140 449h0M1140 450h0M1140 455h0M1140 470h0M1140 471h0M1141 401h0M1141 404h0M1141 405h0M1141 414h0M1141 416h0M1141 417h0M1141 421h0M1141 422h0M1141 424h0M1141 431h0M1141 436h0M1141 438h0M1141 441h0M1141 442h0M1141 444h0M1141 446h0M1141 451h0M1141 455h0M1141 461h0M1141 463h0M1142 407h0M1142 418h0M1142 423h0M1142 424h0M1142 426h0M1142 427h0M1142 429h0M1142 433h0M1142 434h0M1142 438h0M1142 443h0M1142 445h0M1142 448h0M1142 454h0M1142 455h0M1142 457h0M1142 471h0M1143 404h0M1143 409h0M1143 415h0M1143 418h0M1143 425h0M1143 428h0M1143 430h0M1143 432h0M1143 435h0M1143 437h0M1143 438h0M1143 439h0M1143 460h0M1143 461h0M1143 465h0M1143 469h0M1143 471h0M1144 400h0M1144 402h0M1144 403h0M1144 404h0M1144 405h0M1144 410h0M1144 413h0M1144 415h0M1144 422h0M1144 431h0M1144 435h0M1144 438h0M1144 439h0M1144 441h0M1144 445h0M1144 446h0M1144 447h0M1144 463h0M1144 464h0M1144 465h0M1145 398h0M1145 421h0M1145 427h0M1145 429h0M1145 430h0M1145 433h0M1145 434h0M1145 437h0M1145 439h0M1145 440h0M1145 441h0M1145 442h0M1145 445h0M1145 449h0M1145 450h0M1146 400h0M1146 407h0M1146 410h0M1146 411h0M1146 416h0M1146 418h0M1146 426h0M1146 428h0M1146 431h0M1146 433h0M1146 438h0M1146 439h0M1146 447h0M1146 449h0M1146 453h0M1146 459h0M1146 469h0M1146 471h0M1146 473h0M1146 476h0M1147 415h0M1147 417h0M1147 419h0M1147 420h0M1147 422h0M1147 425h0M1147 426h0M1147 428h0M1147 429h0M1147 434h0M1147 436h0M1147 438h0M1147 440h0M1147 441h0M1147 444h0M1147 452h0M1147 454h0M1147 457h0M1147 458h0M1147 473h0M1147 475h0M1148 412h0M1148 416h0M1148 418h0M1148 422h0M1148 432h0M1148 433h0M1148 434h0M1148 435h0M1148 441h0M1148 452h0M1148 456h0M1148 458h0M1148 459h0M1148 460h0M1148 465h0M1148 470h0M1148 472h0M1149 409h0M1149 419h0M1149 426h0M1149 430h0M1149 431h0M1149 435h0M1149 437h0M1149 441h0M1149 444h0M1149 445h0M1149 446h0M1149 448h0M1149 450h0M1149 451h0M1149 454h0M1149 455h0M1149 460h0M1149 470h0M1150 405h0M1150 410h0M1150 417h0M1150 421h0M1150 426h0M1150 433h0M1150 436h0M1150 442h0M1150 443h0M1150 445h0M1150 446h0M1150 448h0M1150 455h0M1150 457h0M1150 460h0M1150 469h0M1150 472h0M1151 410h0M1151 417h0M1151 425h0M1151 427h0M1151 430h0M1151 431h0M1151 434h0M1151 441h0M1151 442h0M1151 443h0M1151 445h0M1151 450h0M1151 455h0M1151 456h0M1151 460h0M1151 466h0M1151 475h0M1151 476h0M1152 409h0M1152 411h0M1152 415h0M1152 416h0M1152 419h0M1152 430h0M1152 434h0M1152 435h0M1152 436h0M1152 443h0M1152 447h0M1152 448h0M1152 452h0M1152 454h0M1152 460h0M1152 462h0M1152 471h0M1152 473h0M1153 416h0M1153 419h0M1153 421h0M1153 424h0M1153 427h0M1153 429h0M1153 433h0M1153 436h0M1153 439h0M1153 440h0M1153 441h0M1153 443h0M1153 446h0M1153 447h0M1153 449h0M1153 453h0M1153 455h0M1153 460h0M1153 468h0M1153 469h0M1154 408h0M1154 411h0M1154 414h0M1154 417h0M1154 419h0M1154 421h0M1154 423h0M1154 426h0M1154 431h0M1154 432h0M1154 433h0M1154 434h0M1154 438h0M1154 448h0M1154 456h0M1154 459h0M1154 466h0M1154 467h0M1154 479h0M1155 400h0M1155 416h0M1155 421h0M1155 422h0M1155 423h0M1155 424h0M1155 427h0M1155 434h0M1155 438h0M1155 439h0M1155 440h0M1155 448h0M1155 450h0M1155 454h0M1155 458h0M1155 459h0M1155 465h0M1155 467h0M1155 473h0M1156 400h0M1156 403h0M1156 409h0M1156 415h0M1156 423h0M1156 426h0M1156 431h0M1156 437h0M1156 439h0M1156 448h0M1156 451h0M1156 457h0M1156 458h0M1156 463h0M1156 468h0M1156 471h0M1156 479h0M1156 483h0M1157 407h0M1157 408h0M1157 415h0M1157 420h0M1157 423h0M1157 424h0M1157 428h0M1157 429h0M1157 430h0M1157 434h0M1157 437h0M1157 447h0M1157 451h0M1157 453h0M1157 454h0M1157 456h0M1157 458h0M1157 459h0M1157 461h0M1157 469h0M1157 480h0M1158 406h0M1158 412h0M1158 418h0M1158 419h0M1158 424h0M1158 430h0M1158 436h0M1158 437h0M1158 441h0M1158 442h0M1158 444h0M1158 445h0M1158 454h0M1158 456h0M1158 459h0M1158 481h0M1159 401h0M1159 410h0M1159 415h0M1159 427h0M1159 428h0M1159 432h0M1159 433h0M1159 436h0M1159 439h0M1159 443h0M1159 450h0M1159 453h0M1159 454h0M1159 457h0M1159 458h0M1159 459h0M1159 461h0M1159 463h0M1159 484h0M1160 414h0M1160 421h0M1160 424h0M1160 426h0M1160 435h0M1160 436h0M1160 437h0M1160 439h0M1160 443h0M1160 447h0M1160 453h0M1160 454h0M1160 456h0M1160 461h0M1160 462h0M1160 465h0M1160 469h0M1160 477h0M1160 478h0M1161 406h0M1161 410h0M1161 413h0M1161 422h0M1161 423h0M1161 427h0M1161 431h0M1161 433h0M1161 437h0M1161 441h0M1161 442h0M1161 447h0M1161 449h0M1161 454h0M1161 461h0M1161 462h0M1161 468h0M1161 473h0M1161 474h0M1161 475h0M1161 498h0M1162 403h0M1162 409h0M1162 422h0M1162 425h0M1162 429h0M1162 431h0M1162 434h0M1162 437h0M1162 440h0M1162 441h0M1162 442h0M1162 445h0M1162 452h0M1162 457h0M1162 462h0M1162 466h0M1162 468h0M1162 473h0M1162 474h0M1162 495h0M1162 499h0M1163 404h0M1163 409h0M1163 411h0M1163 413h0M1163 416h0M1163 422h0M1163 423h0M1163 424h0M1163 426h0M1163 432h0M1163 433h0M1163 435h0M1163 445h0M1163 449h0M1163 450h0M1163 452h0M1163 463h0M1163 464h0M1163 467h0M1163 482h0M1164 409h0M1164 417h0M1164 427h0M1164 433h0M1164 434h0M1164 440h0M1164 443h0M1164 446h0M1164 447h0M1164 448h0M1164 449h0M1164 451h0M1164 455h0M1164 457h0M1164 459h0M1164 461h0M1164 465h0M1164 474h0M1164 494h0M1164 498h0M1165 405h0M1165 411h0M1165 422h0M1165 423h0M1165 427h0M1165 429h0M1165 433h0M1165 435h0M1165 436h0M1165 438h0M1165 450h0M1165 452h0M1165 456h0M1165 458h0M1165 462h0M1165 464h0M1165 467h0M1165 471h0M1165 473h0M1165 478h0M1165 491h0M1166 407h0M1166 411h0M1166 415h0M1166 423h0M1166 432h0M1166 435h0M1166 440h0M1166 442h0M1166 445h0M1166 449h0M1166 450h0M1166 455h0M1166 457h0M1166 460h0M1166 465h0M1166 467h0M1166 472h0M1166 476h0M1166 480h0M1167 406h0M1167 415h0M1167 416h0M1167 422h0M1167 428h0M1167 429h0M1167 434h0M1167 440h0M1167 445h0M1167 446h0M1167 447h0M1167 448h0M1167 455h0M1167 463h0M1167 464h0M1167 468h0M1167 479h0M1167 483h0M1167 489h0M1168 411h0M1168 420h0M1168 422h0M1168 425h0M1168 430h0M1168 432h0M1168 433h0M1168 434h0M1168 438h0M1168 440h0M1168 443h0M1168 444h0M1168 448h0M1168 449h0M1168 454h0M1168 457h0M1168 478h0M1168 491h0M1168 497h0M1169 403h0M1169 409h0M1169 419h0M1169 434h0M1169 438h0M1169 443h0M1169 444h0M1169 445h0M1169 447h0M1169 451h0M1169 456h0M1169 457h0M1169 461h0M1169 466h0M1169 473h0M1169 475h0M1169 481h0M1169 485h0M1169 487h0M1170 402h0M1170 408h0M1170 409h0M1170 416h0M1170 418h0M1170 421h0M1170 426h0M1170 429h0M1170 439h0M1170 443h0M1170 447h0M1170 448h0M1170 450h0M1170 453h0M1170 457h0M1170 458h0M1170 459h0M1170 469h0M1170 470h0M1170 472h0M1170 474h0M1170 489h0M1171 406h0M1171 415h0M1171 416h0M1171 417h0M1171 424h0M1171 436h0M1171 437h0M1171 439h0M1171 442h0M1171 444h0M1171 448h0M1171 452h0M1171 453h0M1171 456h0M1171 458h0M1171 459h0M1171 473h0M1171 478h0M1171 486h0M1172 406h0M1172 419h0M1172 423h0M1172 424h0M1172 426h0M1172 434h0M1172 443h0M1172 446h0M1172 448h0M1172 450h0M1172 452h0M1172 465h0M1172 467h0M1172 468h0M1172 471h0M1172 475h0M1172 479h0M1172 484h0M1172 490h0M1172 493h0M1173 403h0M1173 408h0M1173 410h0M1173 423h0M1173 424h0M1173 425h0M1173 429h0M1173 436h0M1173 442h0M1173 452h0M1173 457h0M1173 459h0M1173 460h0M1173 461h0M1173 463h0M1173 468h0M1173 473h0M1173 481h0M1173 482h0M1173 483h0M1173 484h0M1173 491h0M1174 408h0M1174 409h0M1174 421h0M1174 425h0M1174 427h0M1174 430h0M1174 433h0M1174 434h0M1174 436h0M1174 440h0M1174 447h0M1174 450h0M1174 457h0M1174 458h0M1174 463h0M1174 464h0M1174 469h0M1174 471h0M1174 474h0M1174 476h0M1175 418h0M1175 419h0M1175 429h0M1175 433h0M1175 438h0M1175 439h0M1175 441h0M1175 443h0M1175 445h0M1175 454h0M1175 455h0M1175 459h0M1175 461h0M1175 463h0M1175 467h0M1175 475h0M1175 478h0M1175 479h0M1175 483h0M1175 486h0M1176 404h0M1176 413h0M1176 417h0M1176 422h0M1176 436h0M1176 437h0M1176 438h0M1176 440h0M1176 441h0M1176 445h0M1176 447h0M1176 448h0M1176 453h0M1176 461h0M1176 464h0M1176 466h0M1176 467h0M1176 471h0M1176 472h0M1176 474h0M1176 482h0M1176 485h0M1177 411h0M1177 418h0M1177 425h0M1177 435h0M1177 437h0M1177 442h0M1177 444h0M1177 458h0M1177 460h0M1177 463h0M1177 464h0M1177 468h0M1177 469h0M1177 470h0M1177 471h0M1177 476h0M1177 482h0M1177 487h0M1177 489h0M1177 496h0M1178 405h0M1178 427h0M1178 428h0M1178 432h0M1178 434h0M1178 439h0M1178 442h0M1178 448h0M1178 449h0M1178 450h0M1178 451h0M1178 454h0M1178 455h0M1178 458h0M1178 462h0M1178 465h0M1178 471h0M1178 487h0M1178 489h0M1178 491h0M1178 494h0M1179 424h0M1179 425h0M1179 430h0M1179 432h0M1179 433h0M1179 437h0M1179 438h0M1179 441h0M1179 449h0M1179 453h0M1179 461h0M1179 462h0M1179 465h0M1179 467h0M1179 468h0M1179 470h0M1179 473h0M1179 475h0M1179 478h0M1179 482h0M1179 488h0M1179 489h0M1179 495h0M1180 402h0M1180 414h0M1180 417h0M1180 422h0M1180 432h0M1180 434h0M1180 436h0M1180 441h0M1180 448h0M1180 453h0M1180 455h0M1180 456h0M1180 457h0M1180 460h0M1180 476h0M1180 482h0M1180 490h0M1180 493h0M1180 495h0M1181 404h0M1181 422h0M1181 423h0M1181 427h0M1181 433h0M1181 435h0M1181 438h0M1181 445h0M1181 451h0M1181 452h0M1181 456h0M1181 464h0M1181 470h0M1181 472h0M1181 474h0M1181 479h0M1181 484h0M1181 489h0M1181 490h0M1182 405h0M1182 406h0M1182 413h0M1182 427h0M1182 429h0M1182 430h0M1182 431h0M1182 436h0M1182 441h0M1182 443h0M1182 444h0M1182 448h0M1182 454h0M1182 464h0M1182 470h0M1182 471h0M1182 477h0M1182 482h0M1182 484h0M1182 490h0M1183 424h0M1183 425h0M1183 428h0M1183 437h0M1183 441h0M1183 442h0M1183 447h0M1183 452h0M1183 454h0M1183 463h0M1183 464h0M1183 467h0M1183 468h0M1183 469h0M1183 470h0M1183 475h0M1183 476h0M1183 482h0M1184 413h0M1184 433h0M1184 438h0M1184 439h0M1184 447h0M1184 455h0M1184 458h0M1184 462h0M1184 466h0M1184 468h0M1184 469h0M1184 470h0M1184 475h0M1184 480h0M1184 483h0M1184 485h0M1185 422h0M1185 424h0M1185 429h0M1185 431h0M1185 435h0M1185 450h0M1185 451h0M1185 452h0M1185 457h0M1185 458h0M1185 459h0M1185 464h0M1185 474h0M1185 478h0M1185 483h0M1185 488h0M1185 489h0M1185 491h0M1185 494h0M1186 412h0M1186 414h0M1186 435h0M1186 442h0M1186 444h0M1186 449h0M1186 450h0M1186 455h0M1186 457h0M1186 462h0M1186 464h0M1186 468h0M1186 469h0M1186 470h0M1186 477h0M1186 481h0M1186 491h0M1186 494h0M1186 510h0M1187 418h0M1187 423h0M1187 425h0M1187 428h0M1187 436h0M1187 444h0M1187 448h0M1187 451h0M1187 456h0M1187 457h0M1187 458h0M1187 459h0M1187 465h0M1187 472h0M1187 477h0M1187 479h0M1187 489h0M1187 490h0M1187 492h0M1188 423h0M1188 440h0M1188 441h0M1188 442h0M1188 447h0M1188 449h0M1188 452h0M1188 457h0M1188 465h0M1188 466h0M1188 468h0M1188 470h0M1188 480h0M1188 481h0M1188 491h0M1188 507h0M1189 421h0M1189 430h0M1189 431h0M1189 438h0M1189 439h0M1189 446h0M1189 451h0M1189 458h0M1189 459h0M1189 466h0M1189 467h0M1189 471h0M1189 476h0M1189 478h0M1189 480h0M1189 484h0M1189 491h0M1189 503h0M1189 507h0M1190 419h0M1190 431h0M1190 436h0M1190 438h0M1190 439h0M1190 441h0M1190 444h0M1190 447h0M1190 450h0M1190 451h0M1190 453h0M1190 455h0M1190 458h0M1190 461h0M1190 462h0M1190 473h0M1190 477h0M1190 479h0M1190 481h0M1190 483h0M1190 487h0M1190 500h0M1191 432h0M1191 433h0M1191 435h0M1191 444h0M1191 449h0M1191 452h0M1191 456h0M1191 461h0M1191 462h0M1191 463h0M1191 464h0M1191 466h0M1191 468h0M1191 472h0M1191 482h0M1191 483h0M1191 488h0M1191 489h0M1192 437h0M1192 441h0M1192 443h0M1192 444h0M1192 446h0M1192 448h0M1192 459h0M1192 460h0M1192 473h0M1192 476h0M1192 477h0M1192 478h0M1192 479h0M1192 480h0M1192 482h0M1192 487h0M1192 496h0M1192 498h0M1192 504h0M1193 419h0M1193 432h0M1193 443h0M1193 447h0M1193 462h0M1193 464h0M1193 469h0M1193 470h0M1193 474h0M1193 479h0M1193 481h0M1193 483h0M1193 484h0M1193 485h0M1193 494h0M1193 497h0M1193 501h0M1193 506h0M1194 431h0M1194 432h0M1194 434h0M1194 437h0M1194 446h0M1194 447h0M1194 449h0M1194 452h0M1194 457h0M1194 462h0M1194 465h0M1194 477h0M1194 478h0M1194 479h0M1194 480h0M1194 482h0M1194 487h0M1194 496h0M1195 433h0M1195 447h0M1195 449h0M1195 450h0M1195 451h0M1195 452h0M1195 456h0M1195 473h0M1195 474h0M1195 475h0M1195 482h0M1195 487h0M1195 490h0M1195 505h0M1195 509h0M1195 512h0M1195 517h0M1195 518h0M1196 428h0M1196 439h0M1196 444h0M1196 450h0M1196 452h0M1196 456h0M1196 457h0M1196 468h0M1196 469h0M1196 470h0M1196 472h0M1196 478h0M1196 482h0M1196 484h0M1196 488h0M1196 493h0M1196 502h0M1196 510h0M1196 517h0M1197 432h0M1197 434h0M1197 436h0M1197 439h0M1197 444h0M1197 454h0M1197 457h0M1197 462h0M1197 466h0M1197 469h0M1197 471h0M1197 476h0M1197 484h0M1197 486h0M1197 493h0M1197 498h0M1197 503h0M1197 505h0M1197 507h0M1197 510h0M1197 514h0M1198 434h0M1198 439h0M1198 440h0M1198 445h0M1198 453h0M1198 458h0M1198 459h0M1198 463h0M1198 469h0M1198 472h0M1198 473h0M1198 474h0M1198 475h0M1198 478h0M1198 481h0M1198 503h0M1198 509h0M1198 534h0M1198 535h0M1198 536h0M1199 422h0M1199 431h0M1199 449h0M1199 454h0M1199 455h0M1199 458h0M1199 460h0M1199 468h0M1199 473h0M1199 478h0M1199 480h0M1199 482h0M1199 483h0M1199 488h0M1199 491h0M1199 495h0M1199 506h0M1199 509h0M1199 532h0M1200 426h0M1200 433h0M1200 435h0M1200 436h0M1200 438h0M1200 452h0M1200 455h0M1200 458h0M1200 465h0M1200 471h0M1200 473h0M1200 476h0M1200 478h0M1200 485h0M1200 486h0M1200 492h0M1200 502h0M1200 515h0M1200 518h0M1201 424h0M1201 426h0M1201 433h0M1201 451h0M1201 457h0M1201 467h0M1201 468h0M1201 473h0M1201 475h0M1201 477h0M1201 480h0M1201 481h0M1201 486h0M1201 487h0M1201 491h0M1201 493h0M1201 500h0M1201 501h0M1201 508h0M1201 510h0M1201 522h0M1201 534h0M1202 425h0M1202 437h0M1202 450h0M1202 451h0M1202 457h0M1202 460h0M1202 462h0M1202 471h0M1202 475h0M1202 476h0M1202 477h0M1202 478h0M1202 479h0M1202 480h0M1202 485h0M1202 492h0M1202 495h0M1202 498h0M1202 501h0M1202 514h0M1203 420h0M1203 429h0M1203 440h0M1203 441h0M1203 449h0M1203 453h0M1203 457h0M1203 458h0M1203 467h0M1203 471h0M1203 482h0M1203 483h0M1203 485h0M1203 487h0M1203 489h0M1203 492h0M1203 494h0M1203 501h0M1203 504h0M1203 513h0M1203 519h0M1204 435h0M1204 438h0M1204 445h0M1204 453h0M1204 455h0M1204 466h0M1204 474h0M1204 476h0M1204 478h0M1204 480h0M1204 482h0M1204 488h0M1204 497h0M1204 500h0M1204 505h0M1204 513h0M1204 514h0M1204 522h0M1205 424h0M1205 425h0M1205 437h0M1205 439h0M1205 440h0M1205 445h0M1205 453h0M1205 458h0M1205 465h0M1205 475h0M1205 479h0M1205 484h0M1205 488h0M1205 490h0M1205 494h0M1205 507h0M1205 511h0M1205 517h0M1205 521h0M1205 527h0M1206 425h0M1206 427h0M1206 437h0M1206 438h0M1206 444h0M1206 459h0M1206 466h0M1206 467h0M1206 469h0M1206 472h0M1206 473h0M1206 478h0M1206 480h0M1206 481h0M1206 484h0M1206 486h0M1206 497h0M1206 498h0M1206 501h0M1206 502h0M1206 522h0M1207 434h0M1207 438h0M1207 451h0M1207 456h0M1207 460h0M1207 461h0M1207 463h0M1207 475h0M1207 478h0M1207 485h0M1207 487h0M1207 493h0M1207 494h0M1207 514h0M1207 520h0M1207 529h0M1207 530h0M1207 531h0M1208 439h0M1208 443h0M1208 446h0M1208 452h0M1208 462h0M1208 465h0M1208 468h0M1208 475h0M1208 476h0M1208 478h0M1208 482h0M1208 483h0M1208 484h0M1208 489h0M1208 497h0M1208 507h0M1208 515h0M1208 530h0M1209 433h0M1209 436h0M1209 443h0M1209 448h0M1209 453h0M1209 458h0M1209 459h0M1209 464h0M1209 468h0M1209 471h0M1209 476h0M1209 479h0M1209 480h0M1209 483h0M1209 486h0M1209 490h0M1209 494h0M1209 523h0M1209 524h0M1209 527h0M1210 425h0M1210 427h0M1210 439h0M1210 448h0M1210 450h0M1210 451h0M1210 452h0M1210 456h0M1210 459h0M1210 461h0M1210 465h0M1210 472h0M1210 475h0M1210 485h0M1210 489h0M1210 497h0M1210 510h0M1210 514h0M1210 529h0M1210 530h0M1211 427h0M1211 447h0M1211 454h0M1211 457h0M1211 459h0M1211 460h0M1211 468h0M1211 469h0M1211 474h0M1211 484h0M1211 486h0M1211 488h0M1211 493h0M1211 494h0M1211 498h0M1211 506h0M1211 511h0M1211 523h0M1212 433h0M1212 434h0M1212 436h0M1212 444h0M1212 445h0M1212 449h0M1212 450h0M1212 457h0M1212 460h0M1212 476h0M1212 483h0M1212 484h0M1212 487h0M1212 488h0M1212 493h0M1212 497h0M1212 501h0M1212 513h0M1213 430h0M1213 439h0M1213 446h0M1213 450h0M1213 468h0M1213 469h0M1213 474h0M1213 481h0M1213 483h0M1213 488h0M1213 489h0M1213 491h0M1213 497h0M1213 498h0M1213 524h0M1213 542h0M1213 543h0M1214 428h0M1214 432h0M1214 444h0M1214 446h0M1214 448h0M1214 451h0M1214 470h0M1214 473h0M1214 474h0M1214 476h0M1214 477h0M1214 485h0M1214 486h0M1214 494h0M1214 497h0M1214 501h0M1214 503h0M1214 512h0M1214 522h0M1214 547h0M1215 436h0M1215 437h0M1215 439h0M1215 443h0M1215 444h0M1215 458h0M1215 462h0M1215 466h0M1215 470h0M1215 471h0M1215 475h0M1215 480h0M1215 482h0M1215 486h0M1215 488h0M1215 491h0M1215 496h0M1215 500h0M1215 502h0M1215 507h0M1215 528h0M1215 540h0M1216 432h0M1216 439h0M1216 448h0M1216 452h0M1216 457h0M1216 462h0M1216 480h0M1216 483h0M1216 484h0M1216 488h0M1216 490h0M1216 499h0M1216 502h0M1216 511h0M1216 513h0M1216 514h0M1216 519h0M1217 426h0M1217 435h0M1217 447h0M1217 451h0M1217 455h0M1217 457h0M1217 462h0M1217 464h0M1217 468h0M1217 475h0M1217 482h0M1217 486h0M1217 491h0M1217 494h0M1217 501h0M1217 510h0M1217 521h0M1217 523h0M1217 544h0M1217 548h0M1218 445h0M1218 452h0M1218 469h0M1218 475h0M1218 484h0M1218 488h0M1218 489h0M1218 491h0M1218 495h0M1218 496h0M1218 500h0M1218 512h0M1218 516h0M1218 523h0M1218 525h0M1218 526h0M1219 445h0M1219 457h0M1219 458h0M1219 460h0M1219 465h0M1219 468h0M1219 473h0M1219 474h0M1219 486h0M1219 495h0M1219 497h0M1219 507h0M1219 516h0M1219 544h0M1220 438h0M1220 447h0M1220 449h0M1220 452h0M1220 468h0M1220 471h0M1220 474h0M1220 476h0M1220 479h0M1220 480h0M1220 481h0M1220 488h0M1220 491h0M1220 495h0M1220 496h0M1220 497h0M1220 498h0M1220 503h0M1220 509h0M1220 513h0M1220 518h0M1221 434h0M1221 442h0M1221 443h0M1221 457h0M1221 463h0M1221 468h0M1221 477h0M1221 488h0M1221 489h0M1221 494h0M1221 496h0M1221 497h0M1221 499h0M1221 501h0M1221 510h0M1221 511h0M1221 515h0M1221 522h0M1221 536h0M1221 543h0M1222 446h0M1222 453h0M1222 458h0M1222 459h0M1222 463h0M1222 471h0M1222 473h0M1222 474h0M1222 478h0M1222 483h0M1222 484h0M1222 486h0M1222 493h0M1222 496h0M1222 501h0M1222 512h0M1222 542h0M1223 441h0M1223 453h0M1223 454h0M1223 457h0M1223 462h0M1223 468h0M1223 469h0M1223 470h0M1223 471h0M1223 477h0M1223 485h0M1223 491h0M1223 493h0M1223 494h0M1223 496h0M1223 504h0M1223 506h0M1223 512h0M1223 519h0M1223 524h0M1223 539h0M1224 437h0M1224 442h0M1224 444h0M1224 459h0M1224 460h0M1224 470h0M1224 471h0M1224 473h0M1224 474h0M1224 477h0M1224 482h0M1224 485h0M1224 492h0M1224 494h0M1224 499h0M1224 501h0M1224 503h0M1224 505h0M1224 508h0M1224 511h0M1224 526h0M1225 450h0M1225 451h0M1225 456h0M1225 458h0M1225 459h0M1225 474h0M1225 475h0M1225 480h0M1225 482h0M1225 484h0M1225 488h0M1225 498h0M1225 501h0M1225 508h0M1225 510h0M1225 511h0M1225 522h0M1225 527h0M1225 529h0M1225 530h0M1226 444h0M1226 449h0M1226 474h0M1226 477h0M1226 479h0M1226 481h0M1226 483h0M1226 488h0M1226 491h0M1226 495h0M1226 500h0M1226 504h0M1226 505h0M1226 507h0M1226 512h0M1226 515h0M1226 525h0M1226 546h0M1227 439h0M1227 440h0M1227 446h0M1227 448h0M1227 455h0M1227 467h0M1227 473h0M1227 476h0M1227 483h0M1227 484h0M1227 487h0M1227 495h0M1227 497h0M1227 498h0M1227 503h0M1227 511h0M1227 513h0M1227 514h0M1227 516h0M1228 435h0M1228 439h0M1228 443h0M1228 449h0M1228 460h0M1228 462h0M1228 464h0M1228 466h0M1228 475h0M1228 481h0M1228 484h0M1228 485h0M1228 489h0M1228 504h0M1228 522h0M1228 523h0M1228 525h0M1228 533h0M1229 455h0M1229 457h0M1229 459h0M1229 462h0M1229 466h0M1229 468h0M1229 479h0M1229 481h0M1229 490h0M1229 491h0M1229 492h0M1229 495h0M1229 496h0M1229 497h0M1229 499h0M1229 512h0M1229 515h0M1229 524h0M1230 445h0M1230 452h0M1230 454h0M1230 455h0M1230 475h0M1230 478h0M1230 486h0M1230 491h0M1230 493h0M1230 494h0M1230 495h0M1230 498h0M1230 503h0M1230 506h0M1230 514h0M1230 517h0M1230 525h0M1230 531h0M1231 445h0M1231 449h0M1231 472h0M1231 478h0M1231 479h0M1231 480h0M1231 483h0M1231 485h0M1231 488h0M1231 495h0M1231 498h0M1231 501h0M1231 502h0M1231 504h0M1231 510h0M1231 528h0M1231 529h0M1231 530h0M1231 540h0M1232 433h0M1232 437h0M1232 446h0M1232 447h0M1232 450h0M1232 454h0M1232 455h0M1232 464h0M1232 465h0M1232 471h0M1232 473h0M1232 476h0M1232 477h0M1232 486h0M1232 503h0M1232 504h0M1232 505h0M1232 509h0M1232 516h0M1232 529h0M1232 532h0M1232 538h0M1233 441h0M1233 454h0M1233 463h0M1233 472h0M1233 475h0M1233 479h0M1233 486h0M1233 489h0M1233 500h0M1233 502h0M1233 503h0M1233 507h0M1233 514h0M1233 520h0M1233 522h0M1233 524h0M1233 538h0M1234 441h0M1234 455h0M1234 462h0M1234 464h0M1234 467h0M1234 468h0M1234 481h0M1234 491h0M1234 495h0M1234 500h0M1234 505h0M1234 509h0M1234 518h0M1234 519h0M1234 522h0M1234 524h0M1234 530h0M1234 535h0M1234 537h0M1235 447h0M1235 453h0M1235 456h0M1235 457h0M1235 467h0M1235 469h0M1235 475h0M1235 478h0M1235 484h0M1235 485h0M1235 487h0M1235 495h0M1235 496h0M1235 497h0M1235 514h0M1235 520h0M1235 523h0M1235 528h0M1235 532h0M1236 448h0M1236 449h0M1236 461h0M1236 475h0M1236 476h0M1236 486h0M1236 490h0M1236 496h0M1236 502h0M1236 505h0M1236 507h0M1236 510h0M1236 512h0M1236 518h0M1236 526h0M1236 529h0M1237 447h0M1237 466h0M1237 474h0M1237 475h0M1237 480h0M1237 482h0M1237 484h0M1237 495h0M1237 504h0M1237 505h0M1237 511h0M1237 513h0M1237 515h0M1237 516h0M1237 518h0M1237 522h0M1237 527h0M1237 538h0M1237 545h0M1238 452h0M1238 454h0M1238 457h0M1238 469h0M1238 470h0M1238 477h0M1238 480h0M1238 485h0M1238 491h0M1238 493h0M1238 499h0M1238 509h0M1238 516h0M1238 519h0M1238 521h0M1238 526h0M1238 531h0M1239 466h0M1239 471h0M1239 477h0M1239 483h0M1239 485h0M1239 487h0M1239 492h0M1239 494h0M1239 496h0M1239 501h0M1239 504h0M1239 506h0M1239 508h0M1239 513h0M1239 521h0M1239 522h0M1239 525h0M1240 462h0M1240 464h0M1240 465h0M1240 467h0M1240 472h0M1240 473h0M1240 476h0M1240 477h0M1240 478h0M1240 483h0M1240 494h0M1240 500h0M1240 503h0M1240 507h0M1240 508h0M1240 511h0M1240 514h0M1240 515h0M1240 516h0M1240 521h0M1240 539h0M1240 542h0M1241 470h0M1241 473h0M1241 480h0M1241 483h0M1241 484h0M1241 501h0M1241 504h0M1241 510h0M1241 514h0M1241 515h0M1241 523h0M1241 538h0M1241 539h0M1241 541h0M1241 543h0M1241 545h0M1241 552h0M1242 456h0M1242 463h0M1242 468h0M1242 470h0M1242 475h0M1242 481h0M1242 488h0M1242 492h0M1242 495h0M1242 496h0M1242 498h0M1242 508h0M1242 513h0M1242 514h0M1242 516h0M1242 519h0M1242 528h0M1242 536h0M1242 540h0M1242 556h0M1243 433h0M1243 436h0M1243 455h0M1243 459h0M1243 461h0M1243 470h0M1243 476h0M1243 480h0M1243 484h0M1243 485h0M1243 494h0M1243 499h0M1243 502h0M1243 506h0M1243 516h0M1243 518h0M1243 524h0M1243 529h0M1243 538h0M1244 459h0M1244 462h0M1244 464h0M1244 466h0M1244 473h0M1244 479h0M1244 487h0M1244 492h0M1244 493h0M1244 505h0M1244 506h0M1244 507h0M1244 509h0M1244 511h0M1244 514h0M1244 515h0M1244 548h0M1244 553h0M1244 554h0M1245 436h0M1245 444h0M1245 460h0M1245 461h0M1245 475h0M1245 481h0M1245 492h0M1245 493h0M1245 495h0M1245 505h0M1245 506h0M1245 509h0M1245 510h0M1245 513h0M1245 515h0M1245 521h0M1245 522h0M1245 526h0M1245 529h0M1245 555h0M1246 433h0M1246 455h0M1246 463h0M1246 471h0M1246 478h0M1246 484h0M1246 490h0M1246 501h0M1246 502h0M1246 503h0M1246 504h0M1246 508h0M1246 512h0M1246 515h0M1246 524h0M1246 528h0M1246 544h0M1246 551h0M1246 565h0M1247 447h0M1247 454h0M1247 467h0M1247 474h0M1247 488h0M1247 494h0M1247 496h0M1247 507h0M1247 510h0M1247 511h0M1247 516h0M1247 517h0M1247 520h0M1247 523h0M1247 526h0M1247 541h0M1247 545h0M1247 548h0M1247 567h0M1248 464h0M1248 466h0M1248 469h0M1248 485h0M1248 486h0M1248 488h0M1248 494h0M1248 495h0M1248 500h0M1248 511h0M1248 517h0M1248 519h0M1248 524h0M1248 527h0M1248 531h0M1248 533h0M1248 538h0M1248 545h0M1248 553h0M1249 445h0M1249 456h0M1249 461h0M1249 468h0M1249 473h0M1249 492h0M1249 493h0M1249 494h0M1249 498h0M1249 507h0M1249 510h0M1249 517h0M1249 522h0M1249 525h0M1249 529h0M1249 534h0M1249 535h0M1249 537h0M1249 539h0M1249 545h0M1249 565h0M1250 456h0M1250 462h0M1250 466h0M1250 467h0M1250 470h0M1250 472h0M1250 478h0M1250 485h0M1250 488h0M1250 491h0M1250 493h0M1250 494h0M1250 495h0M1250 504h0M1250 511h0M1250 512h0M1250 514h0M1250 522h0M1250 526h0M1250 532h0M1250 549h0M1251 457h0M1251 459h0M1251 463h0M1251 474h0M1251 476h0M1251 480h0M1251 483h0M1251 497h0M1251 503h0M1251 515h0M1251 520h0M1251 523h0M1251 531h0M1251 536h0M1251 538h0M1251 539h0M1251 541h0M1251 544h0M1251 563h0M1252 455h0M1252 470h0M1252 484h0M1252 485h0M1252 496h0M1252 501h0M1252 502h0M1252 503h0M1252 505h0M1252 508h0M1252 515h0M1252 519h0M1252 525h0M1252 526h0M1252 527h0M1252 533h0M1252 540h0M1252 543h0M1253 457h0M1253 465h0M1253 467h0M1253 482h0M1253 490h0M1253 492h0M1253 495h0M1253 496h0M1253 497h0M1253 503h0M1253 512h0M1253 516h0M1253 518h0M1253 524h0M1253 526h0M1253 534h0M1253 540h0M1253 549h0M1254 460h0M1254 467h0M1254 471h0M1254 473h0M1254 476h0M1254 483h0M1254 488h0M1254 491h0M1254 497h0M1254 499h0M1254 506h0M1254 512h0M1254 519h0M1254 521h0M1254 522h0M1254 523h0M1254 525h0M1254 528h0M1254 533h0M1254 538h0M1254 543h0M1255 471h0M1255 475h0M1255 484h0M1255 485h0M1255 486h0M1255 493h0M1255 503h0M1255 504h0M1255 510h0M1255 511h0M1255 518h0M1255 523h0M1255 524h0M1255 536h0M1255 547h0M1255 548h0M1255 550h0M1255 554h0M1255 558h0M1255 561h0M1255 591h0M1256 456h0M1256 457h0M1256 459h0M1256 470h0M1256 473h0M1256 474h0M1256 478h0M1256 482h0M1256 492h0M1256 493h0M1256 496h0M1256 499h0M1256 501h0M1256 503h0M1256 504h0M1256 516h0M1256 517h0M1256 546h0M1256 553h0M1256 585h0M1257 467h0M1257 472h0M1257 478h0M1257 487h0M1257 489h0M1257 491h0M1257 495h0M1257 500h0M1257 518h0M1257 519h0M1257 531h0M1257 544h0M1257 545h0M1257 559h0M1257 588h0M1257 591h0M1258 482h0M1258 486h0M1258 489h0M1258 495h0M1258 497h0M1258 504h0M1258 505h0M1258 511h0M1258 515h0M1258 516h0M1258 519h0M1258 520h0M1258 531h0M1258 539h0M1258 540h0M1258 551h0M1258 562h0M1258 588h0M1259 460h0M1259 495h0M1259 498h0M1259 503h0M1259 506h0M1259 507h0M1259 526h0M1259 527h0M1259 528h0M1259 529h0M1259 535h0M1259 546h0M1259 553h0M1259 557h0M1259 565h0M1259 567h0M1259 569h0M1259 584h0M1259 588h0M1259 591h0M1260 478h0M1260 483h0M1260 486h0M1260 487h0M1260 490h0M1260 493h0M1260 502h0M1260 512h0M1260 513h0M1260 515h0M1260 516h0M1260 520h0M1260 534h0M1260 540h0M1260 541h0M1260 543h0M1260 546h0M1260 548h0M1261 468h0M1261 472h0M1261 475h0M1261 479h0M1261 480h0M1261 483h0M1261 497h0M1261 505h0M1261 511h0M1261 512h0M1261 524h0M1261 525h0M1261 529h0M1261 530h0M1261 535h0M1261 548h0M1261 559h0M1261 563h0M1262 452h0M1262 472h0M1262 478h0M1262 483h0M1262 485h0M1262 498h0M1262 502h0M1262 503h0M1262 514h0M1262 519h0M1262 520h0M1262 521h0M1262 524h0M1262 530h0M1262 544h0M1262 549h0M1262 564h0M1263 465h0M1263 486h0M1263 487h0M1263 502h0M1263 503h0M1263 507h0M1263 515h0M1263 518h0M1263 522h0M1263 523h0M1263 524h0M1263 526h0M1263 532h0M1263 535h0M1263 545h0M1263 552h0M1263 568h0M1263 577h0M1264 468h0M1264 476h0M1264 481h0M1264 487h0M1264 495h0M1264 499h0M1264 501h0M1264 508h0M1264 510h0M1264 512h0M1264 521h0M1264 524h0M1264 529h0M1264 531h0M1264 534h0M1264 536h0M1264 539h0M1264 557h0M1264 558h0M1265 454h0M1265 468h0M1265 471h0M1265 478h0M1265 480h0M1265 481h0M1265 490h0M1265 492h0M1265 495h0M1265 497h0M1265 505h0M1265 516h0M1265 519h0M1265 523h0M1265 525h0M1265 527h0M1265 528h0M1265 529h0M1265 531h0M1265 545h0M1265 558h0M1266 452h0M1266 469h0M1266 474h0M1266 478h0M1266 491h0M1266 503h0M1266 505h0M1266 506h0M1266 512h0M1266 513h0M1266 523h0M1266 526h0M1266 532h0M1266 544h0M1266 546h0M1266 551h0M1266 552h0M1266 565h0M1267 451h0M1267 473h0M1267 476h0M1267 483h0M1267 496h0M1267 503h0M1267 508h0M1267 510h0M1267 511h0M1267 526h0M1267 530h0M1267 546h0M1267 559h0M1267 560h0M1267 587h0M1268 466h0M1268 471h0M1268 475h0M1268 476h0M1268 487h0M1268 502h0M1268 509h0M1268 524h0M1268 525h0M1268 527h0M1268 532h0M1268 533h0M1268 534h0M1268 535h0M1268 541h0M1268 542h0M1268 554h0M1268 564h0M1268 569h0M1268 571h0M1269 455h0M1269 465h0M1269 466h0M1269 469h0M1269 484h0M1269 485h0M1269 494h0M1269 499h0M1269 506h0M1269 509h0M1269 510h0M1269 515h0M1269 526h0M1269 528h0M1269 531h0M1269 548h0M1269 555h0M1269 560h0M1269 588h0M1270 469h0M1270 478h0M1270 487h0M1270 503h0M1270 508h0M1270 510h0M1270 513h0M1270 526h0M1270 527h0M1270 532h0M1270 535h0M1270 539h0M1270 540h0M1270 544h0M1270 550h0M1270 572h0M1270 592h0M1270 607h0M1271 455h0M1271 473h0M1271 476h0M1271 490h0M1271 495h0M1271 504h0M1271 517h0M1271 518h0M1271 524h0M1271 527h0M1271 544h0M1271 546h0M1271 547h0M1271 549h0M1271 551h0M1271 559h0M1271 561h0M1271 589h0M1272 474h0M1272 482h0M1272 483h0M1272 485h0M1272 487h0M1272 502h0M1272 510h0M1272 513h0M1272 514h0M1272 517h0M1272 519h0M1272 530h0M1272 539h0M1272 556h0M1272 583h0M1273 476h0M1273 479h0M1273 483h0M1273 485h0M1273 491h0M1273 496h0M1273 500h0M1273 521h0M1273 531h0M1273 543h0M1273 546h0M1273 548h0M1273 549h0M1273 551h0M1273 553h0M1273 581h0M1273 582h0M1274 462h0M1274 475h0M1274 477h0M1274 486h0M1274 490h0M1274 497h0M1274 499h0M1274 506h0M1274 507h0M1274 508h0M1274 519h0M1274 525h0M1274 527h0M1274 534h0M1274 543h0M1274 545h0M1275 445h0M1275 448h0M1275 455h0M1275 458h0M1275 471h0M1275 475h0M1275 478h0M1275 481h0M1275 495h0M1275 499h0M1275 507h0M1275 518h0M1275 520h0M1275 528h0M1275 533h0M1275 534h0M1275 537h0M1275 539h0M1276 444h0M1276 456h0M1276 459h0M1276 468h0M1276 489h0M1276 492h0M1276 501h0M1276 513h0M1276 523h0M1276 526h0M1276 528h0M1276 531h0M1276 532h0M1276 538h0M1276 540h0M1276 546h0M1276 549h0M1276 584h0M1277 462h0M1277 468h0M1277 470h0M1277 477h0M1277 499h0M1277 501h0M1277 505h0M1277 512h0M1277 513h0M1277 522h0M1277 529h0M1277 530h0M1277 532h0M1277 533h0M1277 542h0M1277 547h0M1277 549h0M1277 553h0M1277 567h0M1277 579h0M1278 469h0M1278 472h0M1278 485h0M1278 493h0M1278 497h0M1278 499h0M1278 502h0M1278 506h0M1278 509h0M1278 513h0M1278 518h0M1278 521h0M1278 522h0M1278 526h0M1278 529h0M1278 540h0M1278 543h0M1278 544h0M1278 546h0M1278 564h0M1279 457h0M1279 460h0M1279 482h0M1279 485h0M1279 491h0M1279 495h0M1279 511h0M1279 518h0M1279 520h0M1279 524h0M1279 525h0M1279 528h0M1279 540h0M1279 543h0M1279 565h0M1279 575h0M1279 585h0M1280 460h0M1280 468h0M1280 472h0M1280 479h0M1280 490h0M1280 493h0M1280 496h0M1280 501h0M1280 505h0M1280 511h0M1280 514h0M1280 522h0M1280 526h0M1280 533h0M1280 542h0M1280 558h0M1280 562h0M1280 565h0M1281 481h0M1281 498h0M1281 500h0M1281 501h0M1281 502h0M1281 505h0M1281 509h0M1281 515h0M1281 519h0M1281 522h0M1281 526h0M1281 531h0M1281 536h0M1281 543h0M1281 548h0M1281 556h0M1281 563h0M1281 580h0M1282 467h0M1282 471h0M1282 499h0M1282 502h0M1282 509h0M1282 511h0M1282 516h0M1282 520h0M1282 523h0M1282 529h0M1282 541h0M1282 545h0M1282 553h0M1282 554h0M1282 561h0M1282 574h0M1282 577h0M1282 583h0M1283 469h0M1283 480h0M1283 485h0M1283 492h0M1283 495h0M1283 501h0M1283 507h0M1283 510h0M1283 525h0M1283 531h0M1283 532h0M1283 540h0M1283 551h0M1283 553h0M1283 557h0M1283 563h0M1283 584h0M1283 605h0M1284 479h0M1284 488h0M1284 493h0M1284 495h0M1284 496h0M1284 515h0M1284 522h0M1284 531h0M1284 541h0M1284 546h0M1284 550h0M1284 560h0M1284 561h0M1284 562h0M1284 565h0M1284 568h0M1284 571h0M1284 577h0M1284 581h0M1285 472h0M1285 480h0M1285 481h0M1285 483h0M1285 490h0M1285 495h0M1285 498h0M1285 508h0M1285 509h0M1285 521h0M1285 527h0M1285 530h0M1285 531h0M1285 533h0M1285 535h0M1285 537h0M1285 547h0M1285 565h0M1285 573h0M1286 469h0M1286 476h0M1286 478h0M1286 480h0M1286 488h0M1286 493h0M1286 496h0M1286 498h0M1286 502h0M1286 514h0M1286 517h0M1286 520h0M1286 522h0M1286 545h0M1286 555h0M1286 559h0M1286 562h0M1286 564h0M1286 582h0M1286 585h0M1287 480h0M1287 484h0M1287 500h0M1287 501h0M1287 513h0M1287 514h0M1287 515h0M1287 517h0M1287 520h0M1287 524h0M1287 536h0M1287 543h0M1287 545h0M1287 549h0M1287 550h0M1287 556h0M1287 557h0M1287 579h0M1287 581h0M1288 456h0M1288 472h0M1288 475h0M1288 512h0M1288 513h0M1288 519h0M1288 522h0M1288 525h0M1288 530h0M1288 538h0M1288 552h0M1288 556h0M1288 560h0M1288 563h0M1288 568h0M1288 569h0M1288 585h0M1289 477h0M1289 484h0M1289 486h0M1289 489h0M1289 501h0M1289 505h0M1289 521h0M1289 526h0M1289 535h0M1289 537h0M1289 539h0M1289 542h0M1289 546h0M1289 553h0M1289 561h0M1289 571h0M1289 580h0M1290 454h0M1290 477h0M1290 488h0M1290 504h0M1290 505h0M1290 506h0M1290 509h0M1290 521h0M1290 528h0M1290 529h0M1290 532h0M1290 534h0M1290 535h0M1290 543h0M1290 546h0M1290 555h0M1290 559h0M1290 583h0M1290 586h0M1290 596h0M1291 472h0M1291 475h0M1291 488h0M1291 491h0M1291 496h0M1291 497h0M1291 500h0M1291 509h0M1291 531h0M1291 539h0M1291 542h0M1291 547h0M1291 548h0M1291 549h0M1291 561h0M1291 570h0M1291 581h0M1291 583h0M1292 471h0M1292 472h0M1292 474h0M1292 500h0M1292 505h0M1292 514h0M1292 517h0M1292 523h0M1292 530h0M1292 535h0M1292 541h0M1292 555h0M1292 558h0M1292 564h0M1292 568h0M1293 477h0M1293 479h0M1293 487h0M1293 493h0M1293 497h0M1293 501h0M1293 506h0M1293 510h0M1293 511h0M1293 528h0M1293 533h0M1293 535h0M1293 536h0M1293 546h0M1293 563h0M1293 595h0M1294 477h0M1294 482h0M1294 483h0M1294 485h0M1294 490h0M1294 496h0M1294 514h0M1294 516h0M1294 522h0M1294 525h0M1294 532h0M1294 536h0M1294 548h0M1294 549h0M1294 560h0M1294 563h0M1294 564h0M1294 568h0M1294 597h0M1295 477h0M1295 484h0M1295 487h0M1295 501h0M1295 505h0M1295 518h0M1295 520h0M1295 522h0M1295 534h0M1295 545h0M1295 550h0M1295 557h0M1295 561h0M1295 562h0M1295 570h0M1295 580h0M1295 591h0M1295 593h0M1295 595h0M1295 602h0M1296 476h0M1296 485h0M1296 487h0M1296 493h0M1296 499h0M1296 505h0M1296 518h0M1296 521h0M1296 528h0M1296 533h0M1296 537h0M1296 539h0M1296 542h0M1296 544h0M1296 550h0M1296 557h0M1296 563h0M1296 584h0M1296 591h0M1297 475h0M1297 476h0M1297 494h0M1297 496h0M1297 497h0M1297 498h0M1297 504h0M1297 509h0M1297 514h0M1297 516h0M1297 535h0M1297 537h0M1297 544h0M1297 555h0M1297 557h0M1297 571h0M1297 574h0M1297 582h0M1297 587h0M1297 599h0M1297 603h0M1298 474h0M1298 475h0M1298 476h0M1298 480h0M1298 485h0M1298 495h0M1298 515h0M1298 523h0M1298 535h0M1298 543h0M1298 545h0M1298 546h0M1298 548h0M1298 556h0M1298 562h0M1298 563h0M1298 565h0M1298 582h0M1298 599h0M1299 496h0M1299 506h0M1299 507h0M1299 514h0M1299 521h0M1299 523h0M1299 525h0M1299 532h0M1299 535h0M1299 541h0M1299 543h0M1299 545h0M1299 550h0M1299 559h0M1299 569h0M1299 574h0M1299 576h0M1299 578h0M1299 580h0M1300 479h0M1300 487h0M1300 490h0M1300 501h0M1300 502h0M1300 503h0M1300 514h0M1300 519h0M1300 522h0M1300 530h0M1300 531h0M1300 533h0M1300 537h0M1300 551h0M1300 557h0M1300 570h0M1300 577h0M1301 475h0M1301 476h0M1301 487h0M1301 496h0M1301 499h0M1301 501h0M1301 508h0M1301 512h0M1301 513h0M1301 518h0M1301 520h0M1301 540h0M1301 544h0M1301 553h0M1301 562h0M1301 563h0M1301 568h0M1301 588h0M1302 484h0M1302 488h0M1302 489h0M1302 501h0M1302 509h0M1302 516h0M1302 519h0M1302 520h0M1302 527h0M1302 529h0M1302 541h0M1302 558h0M1302 565h0M1302 568h0M1302 577h0M1302 581h0M1302 584h0M1303 487h0M1303 496h0M1303 498h0M1303 503h0M1303 509h0M1303 510h0M1303 514h0M1303 516h0M1303 522h0M1303 523h0M1303 538h0M1303 540h0M1303 548h0M1303 555h0M1303 560h0M1303 562h0M1303 573h0M1303 576h0M1303 590h0M1304 479h0M1304 493h0M1304 499h0M1304 500h0M1304 502h0M1304 504h0M1304 508h0M1304 525h0M1304 533h0M1304 534h0M1304 538h0M1304 546h0M1304 547h0M1304 549h0M1304 565h0M1304 576h0M1304 580h0M1304 588h0M1304 590h0M1305 465h0M1305 481h0M1305 490h0M1305 493h0M1305 498h0M1305 508h0M1305 511h0M1305 515h0M1305 519h0M1305 520h0M1305 527h0M1305 531h0M1305 541h0M1305 545h0M1305 549h0M1305 550h0M1305 565h0M1305 577h0M1305 590h0M1305 592h0M1306 477h0M1306 487h0M1306 489h0M1306 501h0M1306 502h0M1306 507h0M1306 510h0M1306 522h0M1306 527h0M1306 535h0M1306 539h0M1306 543h0M1306 549h0M1306 559h0M1306 568h0M1306 576h0M1307 493h0M1307 494h0M1307 495h0M1307 499h0M1307 501h0M1307 505h0M1307 506h0M1307 507h0M1307 517h0M1307 525h0M1307 530h0M1307 543h0M1307 555h0M1307 558h0M1307 563h0M1307 571h0M1307 576h0M1307 593h0M1308 479h0M1308 480h0M1308 489h0M1308 495h0M1308 510h0M1308 512h0M1308 518h0M1308 523h0M1308 529h0M1308 530h0M1308 543h0M1308 544h0M1308 564h0M1308 569h0M1308 575h0M1309 490h0M1309 496h0M1309 499h0M1309 501h0M1309 503h0M1309 505h0M1309 508h0M1309 511h0M1309 512h0M1309 522h0M1309 526h0M1309 535h0M1309 542h0M1309 549h0M1309 553h0M1309 558h0M1309 565h0M1309 576h0M1309 614h0M1309 615h0M1310 467h0M1310 470h0M1310 483h0M1310 492h0M1310 497h0M1310 504h0M1310 515h0M1310 520h0M1310 521h0M1310 523h0M1310 525h0M1310 527h0M1310 539h0M1310 544h0M1310 561h0M1310 564h0M1310 576h0M1310 616h0M1311 461h0M1311 471h0M1311 492h0M1311 493h0M1311 500h0M1311 503h0M1311 509h0M1311 515h0M1311 526h0M1311 530h0M1311 532h0M1311 535h0M1311 541h0M1311 546h0M1311 548h0M1311 554h0M1311 559h0M1311 572h0M1311 573h0M1311 615h0M1312 474h0M1312 477h0M1312 487h0M1312 504h0M1312 509h0M1312 512h0M1312 514h0M1312 518h0M1312 519h0M1312 526h0M1312 533h0M1312 534h0M1312 537h0M1312 538h0M1312 552h0M1312 558h0M1312 615h0M1313 473h0M1313 477h0M1313 480h0M1313 499h0M1313 523h0M1313 529h0M1313 532h0M1313 535h0M1313 539h0M1313 541h0M1313 555h0M1313 556h0M1313 559h0M1313 569h0M1313 577h0M1313 586h0M1313 589h0M1313 591h0M1313 612h0M1314 464h0M1314 468h0M1314 497h0M1314 500h0M1314 504h0M1314 506h0M1314 507h0M1314 515h0M1314 534h0M1314 544h0M1314 547h0M1314 551h0M1314 559h0M1314 578h0M1314 581h0M1314 613h0M1314 615h0M1315 487h0M1315 491h0M1315 495h0M1315 496h0M1315 503h0M1315 516h0M1315 518h0M1315 520h0M1315 526h0M1315 532h0M1315 537h0M1315 542h0M1315 555h0M1315 559h0M1315 563h0M1315 564h0M1315 582h0M1315 585h0M1315 595h0M1315 599h0M1316 491h0M1316 508h0M1316 511h0M1316 513h0M1316 517h0M1316 531h0M1316 537h0M1316 551h0M1316 566h0M1316 571h0M1316 575h0M1316 581h0M1316 584h0M1316 589h0M1316 595h0M1317 486h0M1317 488h0M1317 496h0M1317 500h0M1317 504h0M1317 518h0M1317 520h0M1317 521h0M1317 524h0M1317 534h0M1317 546h0M1317 557h0M1317 562h0M1317 566h0M1317 568h0M1317 581h0M1317 582h0M1317 585h0M1317 589h0M1317 592h0M1318 509h0M1318 510h0M1318 514h0M1318 515h0M1318 517h0M1318 519h0M1318 521h0M1318 538h0M1318 541h0M1318 545h0M1318 554h0M1318 558h0M1318 572h0M1318 589h0M1318 593h0M1319 505h0M1319 513h0M1319 523h0M1319 533h0M1319 543h0M1319 546h0M1319 551h0M1319 560h0M1319 561h0M1319 568h0M1319 570h0M1319 571h0M1319 572h0M1319 579h0M1319 607h0M1320 495h0M1320 497h0M1320 512h0M1320 517h0M1320 523h0M1320 531h0M1320 534h0M1320 539h0M1320 542h0M1320 544h0M1320 548h0M1320 555h0M1320 557h0M1320 558h0M1320 562h0M1320 566h0M1320 569h0M1320 584h0M1321 512h0M1321 518h0M1321 526h0M1321 530h0M1321 534h0M1321 540h0M1321 542h0M1321 549h0M1321 552h0M1321 557h0M1321 558h0M1321 591h0M1321 603h0M1321 607h0M1321 608h0M1322 498h0M1322 506h0M1322 515h0M1322 520h0M1322 535h0M1322 543h0M1322 547h0M1322 549h0M1322 554h0M1322 556h0M1322 558h0M1322 560h0M1322 568h0M1322 570h0M1322 574h0M1322 575h0M1322 581h0M1322 583h0M1322 592h0M1323 500h0M1323 505h0M1323 507h0M1323 514h0M1323 517h0M1323 524h0M1323 537h0M1323 555h0M1323 556h0M1323 558h0M1323 571h0M1323 575h0M1323 590h0M1323 605h0M1323 612h0M1323 615h0M1324 496h0M1324 502h0M1324 505h0M1324 512h0M1324 530h0M1324 538h0M1324 541h0M1324 547h0M1324 554h0M1324 556h0M1324 558h0M1324 559h0M1324 562h0M1324 563h0M1324 569h0M1324 574h0M1324 578h0M1324 580h0M1324 605h0M1325 488h0M1325 521h0M1325 523h0M1325 526h0M1325 529h0M1325 532h0M1325 538h0M1325 539h0M1325 541h0M1325 550h0M1325 554h0M1325 560h0M1325 561h0M1325 568h0M1325 572h0M1325 582h0M1325 586h0M1325 615h0M1326 510h0M1326 519h0M1326 523h0M1326 527h0M1326 541h0M1326 550h0M1326 551h0M1326 552h0M1326 559h0M1326 562h0M1326 570h0M1326 572h0M1326 574h0M1326 577h0M1326 588h0M1326 591h0M1326 592h0M1326 611h0M1327 508h0M1327 513h0M1327 523h0M1327 524h0M1327 527h0M1327 531h0M1327 534h0M1327 543h0M1327 548h0M1327 552h0M1327 556h0M1327 563h0M1327 570h0M1327 581h0M1327 611h0M1327 615h0M1328 506h0M1328 512h0M1328 523h0M1328 525h0M1328 529h0M1328 544h0M1328 555h0M1328 556h0M1328 570h0M1328 576h0M1328 580h0M1328 584h0M1328 588h0M1328 595h0M1329 502h0M1329 506h0M1329 507h0M1329 511h0M1329 529h0M1329 533h0M1329 544h0M1329 546h0M1329 547h0M1329 553h0M1329 556h0M1329 557h0M1329 566h0M1329 583h0M1329 585h0M1329 594h0M1329 598h0M1330 500h0M1330 515h0M1330 518h0M1330 532h0M1330 539h0M1330 552h0M1330 554h0M1330 557h0M1330 560h0M1330 565h0M1330 577h0M1330 578h0M1330 580h0M1330 588h0M1330 595h0M1330 603h0M1331 499h0M1331 500h0M1331 503h0M1331 507h0M1331 513h0M1331 515h0M1331 520h0M1331 524h0M1331 531h0M1331 533h0M1331 545h0M1331 555h0M1331 565h0M1331 575h0M1331 597h0M1331 613h0M1332 514h0M1332 516h0M1332 517h0M1332 536h0M1332 541h0M1332 542h0M1332 543h0M1332 549h0M1332 554h0M1332 567h0M1332 570h0M1332 572h0M1332 573h0M1332 581h0M1332 586h0M1332 591h0M1333 506h0M1333 507h0M1333 517h0M1333 518h0M1333 527h0M1333 538h0M1333 542h0M1333 546h0M1333 551h0M1333 552h0M1333 568h0M1333 570h0M1333 573h0M1333 575h0M1333 579h0M1333 582h0M1333 585h0M1333 588h0M1333 601h0M1333 603h0M1334 476h0M1334 500h0M1334 507h0M1334 512h0M1334 521h0M1334 525h0M1334 527h0M1334 533h0M1334 534h0M1334 538h0M1334 541h0M1334 545h0M1334 551h0M1334 553h0M1334 558h0M1334 564h0M1334 574h0M1334 575h0M1334 581h0M1334 603h0M1334 614h0M1335 495h0M1335 502h0M1335 503h0M1335 509h0M1335 531h0M1335 549h0M1335 553h0M1335 557h0M1335 558h0M1335 568h0M1335 579h0M1335 585h0M1335 586h0M1335 588h0M1335 602h0M1335 612h0M1336 478h0M1336 491h0M1336 494h0M1336 512h0M1336 527h0M1336 529h0M1336 531h0M1336 532h0M1336 552h0M1336 561h0M1336 563h0M1336 569h0M1336 586h0M1336 591h0M1336 593h0M1336 613h0M1336 616h0M1337 479h0M1337 485h0M1337 505h0M1337 533h0M1337 543h0M1337 548h0M1337 550h0M1337 564h0M1337 588h0M1337 589h0M1337 594h0M1337 598h0M1338 489h0M1338 498h0M1338 501h0M1338 515h0M1338 516h0M1338 536h0M1338 543h0M1338 552h0M1338 556h0M1338 559h0M1338 568h0M1338 573h0M1338 577h0M1338 582h0M1338 583h0M1338 587h0M1338 592h0M1338 597h0M1338 609h0M1339 493h0M1339 515h0M1339 518h0M1339 519h0M1339 526h0M1339 535h0M1339 536h0M1339 537h0M1339 560h0M1339 563h0M1339 567h0M1339 582h0M1339 583h0M1339 597h0M1339 598h0M1339 617h0M1340 476h0M1340 480h0M1340 500h0M1340 507h0M1340 508h0M1340 512h0M1340 513h0M1340 525h0M1340 533h0M1340 542h0M1340 553h0M1340 564h0M1340 572h0M1340 573h0M1340 593h0M1340 601h0M1341 476h0M1341 496h0M1341 508h0M1341 509h0M1341 510h0M1341 515h0M1341 535h0M1341 541h0M1341 551h0M1341 557h0M1341 560h0M1341 564h0M1341 571h0M1341 593h0M1341 607h0M1341 614h0M1342 502h0M1342 503h0M1342 505h0M1342 513h0M1342 536h0M1342 541h0M1342 549h0M1342 567h0M1342 573h0M1342 581h0M1342 584h0M1342 587h0M1342 598h0M1342 610h0M1342 613h0M1343 514h0M1343 515h0M1343 523h0M1343 524h0M1343 526h0M1343 543h0M1343 552h0M1343 555h0M1343 559h0M1343 560h0M1343 562h0M1343 564h0M1343 573h0M1343 575h0M1343 577h0M1343 584h0M1343 588h0M1343 590h0M1343 612h0M1343 616h0M1344 477h0M1344 501h0M1344 502h0M1344 503h0M1344 505h0M1344 517h0M1344 527h0M1344 528h0M1344 538h0M1344 551h0M1344 553h0M1344 554h0M1344 556h0M1344 561h0M1344 566h0M1344 570h0M1344 571h0M1344 582h0M1344 592h0M1344 607h0M1344 611h0M1345 505h0M1345 516h0M1345 517h0M1345 522h0M1345 524h0M1345 539h0M1345 543h0M1345 546h0M1345 549h0M1345 563h0M1345 567h0M1345 574h0M1345 583h0M1345 588h0M1345 589h0M1345 608h0M1346 478h0M1346 503h0M1346 505h0M1346 520h0M1346 521h0M1346 530h0M1346 537h0M1346 539h0M1346 542h0M1346 545h0M1346 557h0M1346 566h0M1346 567h0M1346 571h0M1346 572h0M1346 582h0M1346 602h0M1347 484h0M1347 520h0M1347 526h0M1347 528h0M1347 540h0M1347 548h0M1347 557h0M1347 560h0M1347 564h0M1347 569h0M1347 571h0M1347 585h0M1347 597h0M1348 482h0M1348 511h0M1348 514h0M1348 528h0M1348 541h0M1348 550h0M1348 555h0M1348 559h0M1348 562h0M1348 564h0M1348 566h0M1348 570h0M1348 572h0M1348 573h0M1348 578h0M1348 580h0M1348 590h0M1348 591h0M1348 594h0M1348 598h0M1348 600h0M1348 602h0M1349 481h0M1349 515h0M1349 519h0M1349 526h0M1349 565h0M1349 568h0M1349 569h0M1349 570h0M1349 581h0M1349 586h0M1349 595h0M1349 596h0M1349 599h0M1350 482h0M1350 484h0M1350 487h0M1350 496h0M1350 503h0M1350 505h0M1350 512h0M1350 519h0M1350 521h0M1350 528h0M1350 539h0M1350 548h0M1350 563h0M1350 567h0M1350 570h0M1350 581h0M1350 583h0M1350 590h0M1351 481h0M1351 482h0M1351 486h0M1351 509h0M1351 523h0M1351 525h0M1351 539h0M1351 543h0M1351 554h0M1351 567h0M1351 574h0M1351 576h0M1351 578h0M1351 582h0M1351 591h0M1351 594h0M1351 601h0M1352 507h0M1352 516h0M1352 527h0M1352 528h0M1352 531h0M1352 539h0M1352 541h0M1352 542h0M1352 549h0M1352 551h0M1352 554h0M1352 559h0M1352 574h0M1352 581h0M1352 582h0M1352 589h0M1352 592h0M1352 594h0M1353 487h0M1353 488h0M1353 513h0M1353 514h0M1353 515h0M1353 524h0M1353 548h0M1353 553h0M1353 554h0M1353 555h0M1353 557h0M1353 582h0M1353 593h0M1353 596h0M1354 498h0M1354 508h0M1354 522h0M1354 531h0M1354 537h0M1354 539h0M1354 553h0M1354 561h0M1354 569h0M1354 573h0M1354 574h0M1354 583h0M1354 608h0M1355 495h0M1355 499h0M1355 502h0M1355 511h0M1355 517h0M1355 531h0M1355 574h0M1355 577h0M1355 578h0M1355 580h0M1355 583h0M1355 584h0M1355 587h0M1355 593h0M1355 599h0M1355 600h0M1355 604h0M1355 605h0M1356 511h0M1356 524h0M1356 539h0M1356 550h0M1356 555h0M1356 556h0M1356 564h0M1356 570h0M1356 572h0M1356 579h0M1356 583h0M1356 589h0M1356 592h0M1357 498h0M1357 509h0M1357 522h0M1357 524h0M1357 537h0M1357 550h0M1357 561h0M1357 572h0M1357 581h0M1357 591h0M1357 603h0M1357 605h0M1358 519h0M1358 520h0M1358 521h0M1358 522h0M1358 523h0M1358 526h0M1358 534h0M1358 539h0M1358 549h0M1358 550h0M1358 557h0M1358 584h0M1358 588h0M1358 597h0M1359 514h0M1359 525h0M1359 526h0M1359 527h0M1359 530h0M1359 537h0M1359 546h0M1359 549h0M1359 551h0M1359 556h0M1359 565h0M1359 575h0M1359 581h0M1359 587h0M1359 589h0M1359 609h0M1360 511h0M1360 517h0M1360 528h0M1360 529h0M1360 536h0M1360 549h0M1360 552h0M1360 554h0M1360 556h0M1360 565h0M1360 572h0M1360 576h0M1360 587h0M1360 592h0M1361 512h0M1361 516h0M1361 524h0M1361 530h0M1361 533h0M1361 541h0M1361 543h0M1361 544h0M1361 546h0M1361 554h0M1361 565h0M1361 575h0M1361 587h0M1361 590h0M1361 610h0M1362 513h0M1362 531h0M1362 537h0M1362 540h0M1362 547h0M1362 550h0M1362 576h0M1362 594h0M1362 597h0M1362 599h0M1362 600h0M1363 515h0M1363 523h0M1363 529h0M1363 535h0M1363 549h0M1363 554h0M1363 569h0M1363 576h0M1363 578h0M1363 584h0M1363 585h0M1363 587h0M1363 589h0M1363 590h0M1363 599h0M1364 510h0M1364 515h0M1364 516h0M1364 521h0M1364 525h0M1364 539h0M1364 546h0M1364 557h0M1364 563h0M1364 565h0M1364 566h0M1364 589h0M1364 591h0M1364 603h0M1364 607h0M1365 510h0M1365 513h0M1365 517h0M1365 527h0M1365 530h0M1365 533h0M1365 535h0M1365 540h0M1365 553h0M1365 562h0M1365 568h0M1365 585h0M1365 586h0M1365 606h0M1366 515h0M1366 522h0M1366 524h0M1366 525h0M1366 533h0M1366 538h0M1366 542h0M1366 560h0M1366 577h0M1366 582h0M1366 591h0M1366 605h0M1367 525h0M1367 530h0M1367 542h0M1367 543h0M1367 548h0M1367 549h0M1367 551h0M1367 555h0M1367 561h0M1367 572h0M1367 577h0M1367 582h0M1367 583h0M1367 588h0M1367 591h0M1368 534h0M1368 548h0M1368 557h0M1368 562h0M1368 566h0M1368 570h0M1368 573h0M1368 576h0M1368 577h0M1368 586h0M1368 595h0M1368 602h0M1368 604h0M1369 498h0M1369 519h0M1369 528h0M1369 533h0M1369 542h0M1369 549h0M1369 558h0M1369 564h0M1369 567h0M1369 570h0M1369 578h0M1369 580h0M1369 584h0M1369 589h0M1369 592h0M1369 597h0M1369 609h0M1370 525h0M1370 532h0M1370 533h0M1370 547h0M1370 551h0M1370 554h0M1370 564h0M1370 569h0M1370 572h0M1370 573h0M1370 574h0M1370 588h0M1370 601h0M1370 605h0M1371 516h0M1371 524h0M1371 530h0M1371 537h0M1371 543h0M1371 553h0M1371 562h0M1371 564h0M1371 585h0M1371 594h0M1371 595h0M1371 598h0M1372 499h0M1372 550h0M1372 561h0M1372 571h0M1372 573h0M1372 575h0M1372 583h0M1372 594h0M1372 595h0M1372 600h0M1372 606h0M1373 520h0M1373 527h0M1373 539h0M1373 541h0M1373 571h0M1373 580h0M1373 584h0M1373 585h0M1373 596h0M1373 598h0M1373 608h0M1373 609h0M1373 613h0M1374 486h0M1374 530h0M1374 534h0M1374 551h0M1374 553h0M1374 556h0M1374 579h0M1374 587h0M1374 594h0M1374 607h0M1374 610h0M1375 521h0M1375 525h0M1375 540h0M1375 558h0M1375 579h0M1375 582h0M1375 584h0M1375 593h0M1375 594h0M1375 602h0M1375 603h0M1375 613h0M1375 617h0M1376 484h0M1376 499h0M1376 504h0M1376 519h0M1376 524h0M1376 526h0M1376 548h0M1376 549h0M1376 550h0M1376 574h0M1376 580h0M1376 603h0M1376 605h0M1376 614h0M1377 526h0M1377 529h0M1377 542h0M1377 553h0M1377 570h0M1377 580h0M1377 587h0M1377 591h0M1377 593h0M1377 605h0M1377 607h0M1377 611h0M1378 486h0M1378 501h0M1378 508h0M1378 509h0M1378 515h0M1378 520h0M1378 541h0M1378 543h0M1378 557h0M1378 564h0M1378 566h0M1378 571h0M1378 596h0M1378 602h0M1378 609h0M1379 499h0M1379 521h0M1379 522h0M1379 539h0M1379 554h0M1379 558h0M1379 566h0M1379 577h0M1379 586h0M1379 589h0M1379 591h0M1379 593h0M1379 606h0M1380 496h0M1380 501h0M1380 520h0M1380 526h0M1380 530h0M1380 541h0M1380 543h0M1380 549h0M1380 564h0M1380 565h0M1380 567h0M1380 569h0M1380 573h0M1380 585h0M1380 589h0M1381 496h0M1381 500h0M1381 514h0M1381 516h0M1381 527h0M1381 546h0M1381 562h0M1381 564h0M1381 573h0M1381 575h0M1381 580h0M1381 595h0M1381 604h0M1381 610h0M1382 502h0M1382 507h0M1382 510h0M1382 514h0M1382 527h0M1382 558h0M1382 563h0M1382 565h0M1382 571h0M1382 584h0M1382 589h0M1382 593h0M1383 497h0M1383 502h0M1383 506h0M1383 521h0M1383 550h0M1383 556h0M1383 566h0M1383 577h0M1383 584h0M1383 585h0M1383 596h0M1383 601h0M1383 611h0M1384 494h0M1384 539h0M1384 549h0M1384 556h0M1384 559h0M1384 588h0M1384 590h0M1384 594h0M1384 611h0M1385 500h0M1385 503h0M1385 510h0M1385 523h0M1385 527h0M1385 563h0M1385 565h0M1385 584h0M1385 588h0M1385 590h0M1385 596h0M1385 597h0M1385 605h0M1385 612h0M1385 615h0M1386 528h0M1386 530h0M1386 540h0M1386 542h0M1386 544h0M1386 550h0M1386 554h0M1386 561h0M1386 567h0M1386 571h0M1386 572h0M1387 504h0M1387 526h0M1387 527h0M1387 537h0M1387 552h0M1387 559h0M1387 570h0M1387 572h0M1387 576h0M1387 591h0M1387 593h0M1387 604h0M1387 613h0M1388 543h0M1388 548h0M1388 559h0M1388 571h0M1388 575h0M1388 586h0M1388 587h0M1388 590h0M1388 603h0M1388 608h0M1389 524h0M1389 532h0M1389 539h0M1389 540h0M1389 557h0M1389 558h0M1389 559h0M1389 572h0M1389 586h0M1389 591h0M1389 602h0M1389 609h0M1389 612h0M1389 616h0M1390 537h0M1390 550h0M1390 567h0M1390 580h0M1390 589h0M1390 598h0M1390 600h0M1390 601h0M1390 602h0M1391 534h0M1391 536h0M1391 543h0M1391 552h0M1391 555h0M1391 556h0M1391 557h0M1391 563h0M1391 567h0M1391 570h0M1391 590h0M1391 599h0M1391 600h0M1391 601h0M1392 526h0M1392 540h0M1392 544h0M1392 563h0M1392 569h0M1392 572h0M1392 582h0M1392 583h0M1392 587h0M1392 592h0M1392 613h0M1393 523h0M1393 533h0M1393 544h0M1393 574h0M1393 577h0M1393 580h0M1393 586h0M1393 608h0M1393 609h0M1393 616h0M1394 511h0M1394 518h0M1394 520h0M1394 529h0M1394 530h0M1394 536h0M1394 538h0M1394 541h0M1394 553h0M1394 555h0M1394 565h0M1394 573h0M1394 575h0M1394 605h0M1394 610h0M1394 611h0M1395 529h0M1395 535h0M1395 540h0M1395 544h0M1395 549h0M1395 556h0M1395 563h0M1395 568h0M1395 573h0M1395 600h0M1395 614h0M1396 507h0M1396 517h0M1396 539h0M1396 543h0M1396 564h0M1396 569h0M1396 575h0M1396 581h0M1396 584h0M1396 590h0M1396 613h0M1397 515h0M1397 542h0M1397 548h0M1397 549h0M1397 555h0M1397 558h0M1397 559h0M1397 560h0M1397 563h0M1397 567h0M1397 588h0M1397 603h0M1397 607h0M1397 614h0M1398 501h0M1398 516h0M1398 531h0M1398 534h0M1398 556h0M1398 570h0M1398 574h0M1398 578h0M1398 587h0M1398 591h0M1398 601h0M1399 505h0M1399 520h0M1399 524h0M1399 551h0M1399 577h0M1399 586h0M1399 606h0M1399 607h0M1399 614h0M1399 616h0M1399 617h0M1400 508h0M1400 534h0M1400 550h0M1400 565h0M1400 584h0M1400 602h0M1400 617h0M1401 501h0M1401 518h0M1401 520h0M1401 522h0M1401 552h0M1401 559h0M1401 567h0M1401 596h0M1401 599h0M1401 607h0M1401 612h0M1401 618h0M1402 502h0M1402 503h0M1402 524h0M1402 534h0M1402 545h0M1402 574h0M1402 576h0M1402 583h0M1402 591h0M1402 606h0M1402 610h0M1402 615h0M1402 617h0M1402 618h0M1403 535h0M1403 538h0M1403 544h0M1403 562h0M1403 570h0M1403 574h0M1403 579h0M1403 591h0M1403 598h0M1403 604h0M1403 606h0M1403 610h0M1403 615h0M1404 509h0M1404 520h0M1404 531h0M1404 542h0M1404 568h0M1404 577h0M1404 580h0M1404 581h0M1404 597h0M1404 604h0M1404 611h0M1404 612h0M1405 523h0M1405 545h0M1405 563h0M1405 566h0M1405 572h0M1405 575h0M1405 577h0M1405 592h0M1405 593h0M1405 596h0M1405 598h0M1405 617h0M1406 502h0M1406 505h0M1406 529h0M1406 532h0M1406 534h0M1406 543h0M1406 565h0M1406 571h0M1406 580h0M1406 591h0M1406 599h0M1406 605h0M1406 615h0M1407 535h0M1407 538h0M1407 563h0M1407 571h0M1407 572h0M1407 592h0M1407 596h0M1407 597h0M1407 600h0M1407 608h0M1407 618h0M1408 538h0M1408 541h0M1408 556h0M1408 558h0M1408 561h0M1408 580h0M1408 588h0M1408 591h0M1408 613h0M1408 617h0M1409 529h0M1409 540h0M1409 541h0M1409 551h0M1409 555h0M1409 556h0M1409 567h0M1409 570h0M1409 582h0M1409 614h0M1410 521h0M1410 532h0M1410 560h0M1410 568h0M1410 582h0M1410 590h0M1410 592h0M1410 607h0M1411 539h0M1411 542h0M1411 545h0M1411 548h0M1411 554h0M1411 555h0M1411 568h0M1411 577h0M1411 597h0M1411 605h0M1411 612h0M1412 526h0M1412 534h0M1412 538h0M1412 540h0M1412 542h0M1412 543h0M1412 545h0M1412 549h0M1412 562h0M1412 566h0M1412 572h0M1412 578h0M1412 585h0M1412 588h0M1412 612h0M1413 545h0M1413 546h0M1413 549h0M1413 555h0M1413 556h0M1413 574h0M1413 576h0M1413 588h0M1413 590h0M1413 593h0M1414 523h0M1414 526h0M1414 536h0M1414 537h0M1414 557h0M1414 565h0M1414 577h0M1414 588h0M1414 590h0M1414 611h0M1414 613h0M1415 515h0M1415 528h0M1415 539h0M1415 551h0M1415 558h0M1415 588h0M1415 590h0M1415 603h0M1415 606h0M1415 607h0M1415 611h0M1415 612h0M1416 511h0M1416 525h0M1416 527h0M1416 533h0M1416 557h0M1416 588h0M1416 602h0M1416 606h0M1417 506h0M1417 510h0M1417 517h0M1417 527h0M1417 534h0M1417 540h0M1417 556h0M1417 576h0M1417 584h0M1417 602h0M1417 614h0M1418 510h0M1418 517h0M1418 534h0M1418 537h0M1418 586h0M1418 599h0M1418 608h0M1418 610h0M1418 616h0M1419 513h0M1419 521h0M1419 581h0M1419 588h0M1419 592h0M1419 596h0M1419 611h0M1419 615h0M1420 522h0M1420 573h0M1420 580h0M1420 602h0M1420 603h0M1421 518h0M1421 570h0M1421 588h0M1421 595h0M1421 596h0M1421 602h0M1421 604h0M1421 606h0M1421 613h0M1422 517h0M1422 543h0M1422 573h0M1422 579h0M1422 581h0M1422 588h0M1422 590h0M1422 593h0M1422 599h0M1422 615h0M1423 521h0M1423 523h0M1423 538h0M1423 573h0M1423 580h0M1423 594h0M1423 606h0M1423 609h0M1424 519h0M1424 522h0M1424 541h0M1424 577h0M1424 585h0M1424 595h0M1424 598h0M1425 518h0M1425 535h0M1425 553h0M1425 555h0M1425 585h0M1425 586h0M1425 589h0M1425 601h0M1425 609h0M1426 519h0M1426 542h0M1426 544h0M1426 549h0M1426 556h0M1426 570h0M1426 580h0M1426 583h0M1426 597h0M1426 607h0M1426 612h0M1426 617h0M1427 522h0M1427 533h0M1427 536h0M1427 539h0M1427 555h0M1427 572h0M1427 579h0M1427 597h0M1427 609h0M1427 614h0M1428 511h0M1428 515h0M1428 525h0M1428 538h0M1428 543h0M1428 573h0M1428 578h0M1428 579h0M1428 583h0M1428 586h0M1428 599h0M1428 613h0M1429 522h0M1429 525h0M1429 536h0M1429 552h0M1429 567h0M1429 571h0M1429 574h0M1429 602h0M1430 511h0M1430 529h0M1430 541h0M1430 551h0M1430 556h0M1430 576h0M1430 580h0M1430 598h0M1430 611h0M1431 535h0M1431 540h0M1431 541h0M1431 544h0M1431 568h0M1431 569h0M1431 570h0M1431 573h0M1431 612h0M1432 527h0M1432 531h0M1432 537h0M1432 539h0M1432 551h0M1432 553h0M1432 569h0M1432 576h0M1432 580h0M1432 581h0M1432 585h0M1432 609h0M1433 522h0M1433 550h0M1433 553h0M1433 572h0M1433 595h0M1433 600h0M1434 531h0M1434 535h0M1434 555h0M1434 576h0M1434 584h0M1434 593h0M1434 597h0M1434 598h0M1434 600h0M1434 602h0M1434 605h0M1434 608h0M1435 524h0M1435 525h0M1435 555h0M1435 567h0M1435 569h0M1435 571h0M1435 577h0M1435 585h0M1435 595h0M1435 606h0M1435 612h0M1436 538h0M1436 548h0M1436 553h0M1436 555h0M1436 569h0M1436 590h0M1436 601h0M1437 528h0M1437 529h0M1437 549h0M1437 554h0M1437 566h0M1437 581h0M1437 601h0M1438 528h0M1438 551h0M1438 565h0M1438 567h0M1438 569h0M1438 582h0M1438 586h0M1438 606h0M1438 608h0M1438 611h0M1439 541h0M1439 564h0M1439 566h0M1439 568h0M1439 598h0M1440 542h0M1440 575h0M1440 582h0M1440 598h0M1440 608h0M1441 533h0M1441 543h0M1441 565h0M1441 574h0M1441 580h0M1441 589h0M1441 604h0M1442 530h0M1442 536h0M1442 539h0M1442 543h0M1442 582h0M1442 599h0M1443 565h0M1443 567h0M1443 571h0M1443 574h0M1443 600h0M1443 603h0M1444 538h0M1444 539h0M1444 540h0M1444 542h0M1444 546h0M1444 547h0M1444 576h0M1444 577h0M1445 538h0M1445 540h0M1445 541h0M1445 551h0M1445 576h0M1445 581h0M1445 587h0M1446 576h0M1446 581h0M1446 589h0M1447 541h0M1447 580h0" fill="none" stroke="#c1cffa" stroke-width="9" stroke-linecap="round"/>
<g fill="none" stroke="#c1cffa" stroke-width="1.7"><circle cx="934" cy="155" r="3.8"/><circle cx="934" cy="212" r="3.8"/><circle cx="934" cy="332" r="3.8"/><circle cx="956" cy="197" r="3.8"/><circle cx="962" cy="261" r="3.8"/><circle cx="963" cy="263" r="3.8"/><circle cx="964" cy="275" r="3.8"/><circle cx="981" cy="246" r="3.8"/><circle cx="981" cy="305" r="3.8"/><circle cx="992" cy="323" r="3.8"/><circle cx="993" cy="262" r="3.8"/><circle cx="1001" cy="281" r="3.8"/><circle cx="1009" cy="351" r="3.8"/><circle cx="1010" cy="286" r="3.8"/><circle cx="1013" cy="345" r="3.8"/><circle cx="1013" cy="359" r="3.8"/><circle cx="1017" cy="354" r="3.8"/><circle cx="1020" cy="359" r="3.8"/><circle cx="1021" cy="296" r="3.8"/><circle cx="1022" cy="367" r="3.8"/><circle cx="1024" cy="361" r="3.8"/><circle cx="1027" cy="368" r="3.8"/><circle cx="1030" cy="310" r="3.8"/><circle cx="1031" cy="303" r="3.8"/><circle cx="1037" cy="375" r="3.8"/><circle cx="1039" cy="378" r="3.8"/><circle cx="1039" cy="380" r="3.8"/><circle cx="1040" cy="314" r="3.8"/><circle cx="1040" cy="320" r="3.8"/><circle cx="1041" cy="393" r="3.8"/><circle cx="1042" cy="384" r="3.8"/><circle cx="1044" cy="324" r="3.8"/><circle cx="1044" cy="384" r="3.8"/><circle cx="1045" cy="306" r="3.8"/><circle cx="1046" cy="319" r="3.8"/><circle cx="1046" cy="391" r="3.8"/><circle cx="1047" cy="388" r="3.8"/><circle cx="1048" cy="326" r="3.8"/><circle cx="1050" cy="333" r="3.8"/><circle cx="1054" cy="329" r="3.8"/><circle cx="1055" cy="332" r="3.8"/><circle cx="1055" cy="395" r="3.8"/><circle cx="1056" cy="328" r="3.8"/><circle cx="1059" cy="408" r="3.8"/><circle cx="1060" cy="336" r="3.8"/><circle cx="1060" cy="338" r="3.8"/><circle cx="1061" cy="409" r="3.8"/><circle cx="1063" cy="405" r="3.8"/><circle cx="1065" cy="345" r="3.8"/><circle cx="1069" cy="410" r="3.8"/><circle cx="1069" cy="423" r="3.8"/><circle cx="1070" cy="422" r="3.8"/><circle cx="1071" cy="350" r="3.8"/><circle cx="1072" cy="343" r="3.8"/><circle cx="1072" cy="414" r="3.8"/><circle cx="1073" cy="413" r="3.8"/><circle cx="1074" cy="419" r="3.8"/><circle cx="1075" cy="354" r="3.8"/><circle cx="1075" cy="423" r="3.8"/><circle cx="1078" cy="341" r="3.8"/><circle cx="1079" cy="351" r="3.8"/><circle cx="1079" cy="357" r="3.8"/><circle cx="1084" cy="425" r="3.8"/><circle cx="1084" cy="431" r="3.8"/><circle cx="1092" cy="352" r="3.8"/><circle cx="1092" cy="441" r="3.8"/><circle cx="1092" cy="442" r="3.8"/><circle cx="1093" cy="355" r="3.8"/><circle cx="1093" cy="435" r="3.8"/><circle cx="1094" cy="358" r="3.8"/><circle cx="1095" cy="444" r="3.8"/><circle cx="1097" cy="366" r="3.8"/><circle cx="1097" cy="460" r="3.8"/><circle cx="1098" cy="439" r="3.8"/><circle cx="1101" cy="435" r="3.8"/><circle cx="1102" cy="364" r="3.8"/><circle cx="1102" cy="428" r="3.8"/><circle cx="1102" cy="442" r="3.8"/><circle cx="1103" cy="435" r="3.8"/><circle cx="1103" cy="440" r="3.8"/><circle cx="1104" cy="434" r="3.8"/><circle cx="1104" cy="449" r="3.8"/><circle cx="1106" cy="361" r="3.8"/><circle cx="1106" cy="367" r="3.8"/><circle cx="1107" cy="362" r="3.8"/><circle cx="1108" cy="353" r="3.8"/><circle cx="1109" cy="372" r="3.8"/><circle cx="1109" cy="379" r="3.8"/><circle cx="1109" cy="435" r="3.8"/><circle cx="1109" cy="455" r="3.8"/><circle cx="1111" cy="372" r="3.8"/><circle cx="1111" cy="462" r="3.8"/><circle cx="1112" cy="451" r="3.8"/><circle cx="1113" cy="372" r="3.8"/><circle cx="1114" cy="376" r="3.8"/><circle cx="1114" cy="456" r="3.8"/><circle cx="1115" cy="465" r="3.8"/><circle cx="1116" cy="376" r="3.8"/><circle cx="1116" cy="461" r="3.8"/><circle cx="1117" cy="455" r="3.8"/><circle cx="1118" cy="368" r="3.8"/><circle cx="1119" cy="461" r="3.8"/><circle cx="1119" cy="468" r="3.8"/><circle cx="1124" cy="473" r="3.8"/><circle cx="1125" cy="379" r="3.8"/><circle cx="1126" cy="473" r="3.8"/><circle cx="1127" cy="365" r="3.8"/><circle cx="1127" cy="380" r="3.8"/><circle cx="1128" cy="490" r="3.8"/><circle cx="1129" cy="375" r="3.8"/><circle cx="1132" cy="472" r="3.8"/><circle cx="1132" cy="473" r="3.8"/><circle cx="1132" cy="493" r="3.8"/><circle cx="1134" cy="363" r="3.8"/><circle cx="1134" cy="367" r="3.8"/><circle cx="1134" cy="484" r="3.8"/><circle cx="1134" cy="486" r="3.8"/><circle cx="1135" cy="379" r="3.8"/><circle cx="1136" cy="380" r="3.8"/><circle cx="1136" cy="383" r="3.8"/><circle cx="1136" cy="515" r="3.8"/><circle cx="1137" cy="377" r="3.8"/><circle cx="1138" cy="479" r="3.8"/><circle cx="1140" cy="500" r="3.8"/><circle cx="1141" cy="377" r="3.8"/><circle cx="1142" cy="391" r="3.8"/><circle cx="1142" cy="476" r="3.8"/><circle cx="1143" cy="386" r="3.8"/><circle cx="1143" cy="396" r="3.8"/><circle cx="1143" cy="527" r="3.8"/><circle cx="1144" cy="501" r="3.8"/><circle cx="1146" cy="502" r="3.8"/><circle cx="1148" cy="378" r="3.8"/><circle cx="1148" cy="488" r="3.8"/><circle cx="1149" cy="391" r="3.8"/><circle cx="1149" cy="402" r="3.8"/><circle cx="1150" cy="486" r="3.8"/><circle cx="1151" cy="388" r="3.8"/><circle cx="1151" cy="483" r="3.8"/><circle cx="1151" cy="493" r="3.8"/><circle cx="1152" cy="486" r="3.8"/><circle cx="1154" cy="398" r="3.8"/><circle cx="1156" cy="490" r="3.8"/><circle cx="1156" cy="505" r="3.8"/><circle cx="1158" cy="383" r="3.8"/><circle cx="1158" cy="503" r="3.8"/><circle cx="1159" cy="499" r="3.8"/><circle cx="1161" cy="494" r="3.8"/><circle cx="1161" cy="549" r="3.8"/><circle cx="1162" cy="390" r="3.8"/><circle cx="1163" cy="486" r="3.8"/><circle cx="1163" cy="489" r="3.8"/><circle cx="1166" cy="499" r="3.8"/><circle cx="1166" cy="521" r="3.8"/><circle cx="1167" cy="506" r="3.8"/><circle cx="1167" cy="512" r="3.8"/><circle cx="1168" cy="395" r="3.8"/><circle cx="1171" cy="397" r="3.8"/><circle cx="1171" cy="497" r="3.8"/><circle cx="1172" cy="499" r="3.8"/><circle cx="1175" cy="504" r="3.8"/><circle cx="1175" cy="515" r="3.8"/><circle cx="1177" cy="500" r="3.8"/><circle cx="1177" cy="505" r="3.8"/><circle cx="1177" cy="514" r="3.8"/><circle cx="1180" cy="504" r="3.8"/><circle cx="1180" cy="520" r="3.8"/><circle cx="1181" cy="521" r="3.8"/><circle cx="1182" cy="512" r="3.8"/><circle cx="1182" cy="532" r="3.8"/><circle cx="1182" cy="557" r="3.8"/><circle cx="1183" cy="503" r="3.8"/><circle cx="1183" cy="505" r="3.8"/><circle cx="1183" cy="509" r="3.8"/><circle cx="1184" cy="382" r="3.8"/><circle cx="1184" cy="398" r="3.8"/><circle cx="1184" cy="400" r="3.8"/><circle cx="1184" cy="518" r="3.8"/><circle cx="1184" cy="542" r="3.8"/><circle cx="1185" cy="496" r="3.8"/><circle cx="1185" cy="525" r="3.8"/><circle cx="1186" cy="534" r="3.8"/><circle cx="1186" cy="555" r="3.8"/><circle cx="1187" cy="517" r="3.8"/><circle cx="1187" cy="530" r="3.8"/><circle cx="1187" cy="542" r="3.8"/><circle cx="1188" cy="509" r="3.8"/><circle cx="1188" cy="521" r="3.8"/><circle cx="1188" cy="522" r="3.8"/><circle cx="1188" cy="529" r="3.8"/><circle cx="1188" cy="537" r="3.8"/><circle cx="1189" cy="409" r="3.8"/><circle cx="1189" cy="516" r="3.8"/><circle cx="1191" cy="406" r="3.8"/><circle cx="1191" cy="535" r="3.8"/><circle cx="1192" cy="413" r="3.8"/><circle cx="1192" cy="526" r="3.8"/><circle cx="1193" cy="424" r="3.8"/><circle cx="1194" cy="520" r="3.8"/><circle cx="1194" cy="565" r="3.8"/><circle cx="1195" cy="415" r="3.8"/><circle cx="1195" cy="420" r="3.8"/><circle cx="1195" cy="426" r="3.8"/><circle cx="1195" cy="527" r="3.8"/><circle cx="1196" cy="405" r="3.8"/><circle cx="1197" cy="414" r="3.8"/><circle cx="1198" cy="525" r="3.8"/><circle cx="1204" cy="413" r="3.8"/><circle cx="1204" cy="415" r="3.8"/><circle cx="1204" cy="537" r="3.8"/><circle cx="1204" cy="549" r="3.8"/><circle cx="1205" cy="416" r="3.8"/><circle cx="1205" cy="579" r="3.8"/><circle cx="1207" cy="391" r="3.8"/><circle cx="1207" cy="539" r="3.8"/><circle cx="1207" cy="543" r="3.8"/><circle cx="1209" cy="540" r="3.8"/><circle cx="1209" cy="559" r="3.8"/><circle cx="1210" cy="387" r="3.8"/><circle cx="1210" cy="506" r="3.8"/><circle cx="1211" cy="412" r="3.8"/><circle cx="1212" cy="411" r="3.8"/><circle cx="1212" cy="551" r="3.8"/><circle cx="1213" cy="534" r="3.8"/><circle cx="1213" cy="563" r="3.8"/><circle cx="1213" cy="594" r="3.8"/><circle cx="1214" cy="423" r="3.8"/><circle cx="1214" cy="540" r="3.8"/><circle cx="1216" cy="550" r="3.8"/><circle cx="1216" cy="555" r="3.8"/><circle cx="1217" cy="414" r="3.8"/><circle cx="1217" cy="422" r="3.8"/><circle cx="1218" cy="414" r="3.8"/><circle cx="1218" cy="536" r="3.8"/><circle cx="1218" cy="556" r="3.8"/><circle cx="1219" cy="423" r="3.8"/><circle cx="1219" cy="530" r="3.8"/><circle cx="1219" cy="534" r="3.8"/><circle cx="1219" cy="587" r="3.8"/><circle cx="1222" cy="432" r="3.8"/><circle cx="1223" cy="549" r="3.8"/><circle cx="1223" cy="558" r="3.8"/><circle cx="1224" cy="428" r="3.8"/><circle cx="1225" cy="538" r="3.8"/><circle cx="1225" cy="544" r="3.8"/><circle cx="1226" cy="550" r="3.8"/><circle cx="1227" cy="561" r="3.8"/><circle cx="1228" cy="433" r="3.8"/><circle cx="1228" cy="534" r="3.8"/><circle cx="1228" cy="540" r="3.8"/><circle cx="1229" cy="429" r="3.8"/><circle cx="1229" cy="552" r="3.8"/><circle cx="1230" cy="547" r="3.8"/><circle cx="1230" cy="577" r="3.8"/><circle cx="1231" cy="421" r="3.8"/><circle cx="1231" cy="573" r="3.8"/><circle cx="1232" cy="544" r="3.8"/><circle cx="1233" cy="543" r="3.8"/><circle cx="1233" cy="573" r="3.8"/><circle cx="1234" cy="435" r="3.8"/><circle cx="1234" cy="558" r="3.8"/><circle cx="1234" cy="587" r="3.8"/><circle cx="1235" cy="558" r="3.8"/><circle cx="1235" cy="559" r="3.8"/><circle cx="1235" cy="599" r="3.8"/><circle cx="1236" cy="433" r="3.8"/><circle cx="1236" cy="442" r="3.8"/><circle cx="1236" cy="549" r="3.8"/><circle cx="1236" cy="569" r="3.8"/><circle cx="1237" cy="568" r="3.8"/><circle cx="1237" cy="576" r="3.8"/><circle cx="1238" cy="443" r="3.8"/><circle cx="1238" cy="579" r="3.8"/><circle cx="1238" cy="583" r="3.8"/><circle cx="1239" cy="417" r="3.8"/><circle cx="1239" cy="551" r="3.8"/><circle cx="1239" cy="554" r="3.8"/><circle cx="1239" cy="561" r="3.8"/><circle cx="1239" cy="587" r="3.8"/><circle cx="1241" cy="417" r="3.8"/><circle cx="1241" cy="438" r="3.8"/><circle cx="1241" cy="451" r="3.8"/><circle cx="1243" cy="428" r="3.8"/><circle cx="1243" cy="438" r="3.8"/><circle cx="1244" cy="445" r="3.8"/><circle cx="1244" cy="568" r="3.8"/><circle cx="1245" cy="563" r="3.8"/><circle cx="1246" cy="571" r="3.8"/><circle cx="1246" cy="578" r="3.8"/><circle cx="1247" cy="432" r="3.8"/><circle cx="1247" cy="442" r="3.8"/><circle cx="1248" cy="556" r="3.8"/><circle cx="1248" cy="571" r="3.8"/><circle cx="1249" cy="582" r="3.8"/><circle cx="1249" cy="610" r="3.8"/><circle cx="1250" cy="450" r="3.8"/><circle cx="1252" cy="559" r="3.8"/><circle cx="1252" cy="613" r="3.8"/><circle cx="1253" cy="439" r="3.8"/><circle cx="1253" cy="447" r="3.8"/><circle cx="1253" cy="573" r="3.8"/><circle cx="1253" cy="576" r="3.8"/><circle cx="1253" cy="589" r="3.8"/><circle cx="1254" cy="564" r="3.8"/><circle cx="1256" cy="424" r="3.8"/><circle cx="1256" cy="427" r="3.8"/><circle cx="1257" cy="444" r="3.8"/><circle cx="1257" cy="450" r="3.8"/><circle cx="1257" cy="571" r="3.8"/><circle cx="1257" cy="581" r="3.8"/><circle cx="1257" cy="607" r="3.8"/><circle cx="1258" cy="443" r="3.8"/><circle cx="1259" cy="428" r="3.8"/><circle cx="1259" cy="450" r="3.8"/><circle cx="1259" cy="576" r="3.8"/><circle cx="1260" cy="433" r="3.8"/><circle cx="1260" cy="577" r="3.8"/><circle cx="1261" cy="460" r="3.8"/><circle cx="1261" cy="577" r="3.8"/><circle cx="1262" cy="446" r="3.8"/><circle cx="1262" cy="463" r="3.8"/><circle cx="1262" cy="582" r="3.8"/><circle cx="1262" cy="594" r="3.8"/><circle cx="1263" cy="441" r="3.8"/><circle cx="1263" cy="569" r="3.8"/><circle cx="1263" cy="587" r="3.8"/><circle cx="1264" cy="455" r="3.8"/><circle cx="1264" cy="581" r="3.8"/><circle cx="1264" cy="586" r="3.8"/><circle cx="1265" cy="437" r="3.8"/><circle cx="1266" cy="574" r="3.8"/><circle cx="1266" cy="605" r="3.8"/><circle cx="1267" cy="449" r="3.8"/><circle cx="1267" cy="565" r="3.8"/><circle cx="1267" cy="580" r="3.8"/><circle cx="1267" cy="605" r="3.8"/><circle cx="1267" cy="614" r="3.8"/><circle cx="1268" cy="458" r="3.8"/><circle cx="1269" cy="441" r="3.8"/><circle cx="1270" cy="459" r="3.8"/><circle cx="1270" cy="609" r="3.8"/><circle cx="1271" cy="434" r="3.8"/><circle cx="1271" cy="443" r="3.8"/><circle cx="1271" cy="583" r="3.8"/><circle cx="1272" cy="450" r="3.8"/><circle cx="1272" cy="573" r="3.8"/><circle cx="1272" cy="588" r="3.8"/><circle cx="1272" cy="596" r="3.8"/><circle cx="1273" cy="436" r="3.8"/><circle cx="1273" cy="572" r="3.8"/><circle cx="1273" cy="614" r="3.8"/><circle cx="1274" cy="443" r="3.8"/><circle cx="1274" cy="464" r="3.8"/><circle cx="1274" cy="604" r="3.8"/><circle cx="1274" cy="608" r="3.8"/><circle cx="1275" cy="450" r="3.8"/><circle cx="1276" cy="559" r="3.8"/><circle cx="1276" cy="570" r="3.8"/><circle cx="1276" cy="576" r="3.8"/><circle cx="1276" cy="594" r="3.8"/><circle cx="1277" cy="427" r="3.8"/><circle cx="1279" cy="443" r="3.8"/><circle cx="1279" cy="450" r="3.8"/><circle cx="1280" cy="589" r="3.8"/><circle cx="1280" cy="590" r="3.8"/><circle cx="1280" cy="602" r="3.8"/><circle cx="1281" cy="452" r="3.8"/><circle cx="1281" cy="599" r="3.8"/><circle cx="1282" cy="437" r="3.8"/><circle cx="1282" cy="463" r="3.8"/><circle cx="1282" cy="590" r="3.8"/><circle cx="1282" cy="608" r="3.8"/><circle cx="1283" cy="593" r="3.8"/><circle cx="1283" cy="608" r="3.8"/><circle cx="1284" cy="606" r="3.8"/><circle cx="1285" cy="439" r="3.8"/><circle cx="1285" cy="459" r="3.8"/><circle cx="1285" cy="616" r="3.8"/><circle cx="1286" cy="454" r="3.8"/><circle cx="1286" cy="457" r="3.8"/><circle cx="1287" cy="594" r="3.8"/><circle cx="1287" cy="597" r="3.8"/><circle cx="1288" cy="448" r="3.8"/><circle cx="1288" cy="449" r="3.8"/><circle cx="1290" cy="588" r="3.8"/><circle cx="1290" cy="604" r="3.8"/><circle cx="1291" cy="456" r="3.8"/><circle cx="1291" cy="604" r="3.8"/><circle cx="1292" cy="456" r="3.8"/><circle cx="1292" cy="574" r="3.8"/><circle cx="1292" cy="618" r="3.8"/><circle cx="1293" cy="446" r="3.8"/><circle cx="1293" cy="463" r="3.8"/><circle cx="1294" cy="451" r="3.8"/><circle cx="1294" cy="615" r="3.8"/><circle cx="1295" cy="467" r="3.8"/><circle cx="1295" cy="586" r="3.8"/><circle cx="1296" cy="604" r="3.8"/><circle cx="1297" cy="456" r="3.8"/><circle cx="1298" cy="462" r="3.8"/><circle cx="1298" cy="464" r="3.8"/><circle cx="1299" cy="433" r="3.8"/><circle cx="1299" cy="596" r="3.8"/><circle cx="1299" cy="618" r="3.8"/><circle cx="1300" cy="448" r="3.8"/><circle cx="1301" cy="459" r="3.8"/><circle cx="1302" cy="468" r="3.8"/><circle cx="1302" cy="610" r="3.8"/><circle cx="1302" cy="618" r="3.8"/><circle cx="1303" cy="461" r="3.8"/><circle cx="1303" cy="468" r="3.8"/><circle cx="1304" cy="447" r="3.8"/><circle cx="1304" cy="457" r="3.8"/><circle cx="1306" cy="470" r="3.8"/><circle cx="1306" cy="613" r="3.8"/><circle cx="1307" cy="597" r="3.8"/><circle cx="1307" cy="602" r="3.8"/><circle cx="1307" cy="605" r="3.8"/><circle cx="1308" cy="462" r="3.8"/><circle cx="1308" cy="465" r="3.8"/><circle cx="1308" cy="581" r="3.8"/><circle cx="1309" cy="587" r="3.8"/><circle cx="1310" cy="446" r="3.8"/><circle cx="1310" cy="584" r="3.8"/><circle cx="1311" cy="484" r="3.8"/><circle cx="1312" cy="603" r="3.8"/><circle cx="1313" cy="458" r="3.8"/><circle cx="1313" cy="463" r="3.8"/><circle cx="1313" cy="601" r="3.8"/><circle cx="1314" cy="609" r="3.8"/><circle cx="1315" cy="443" r="3.8"/><circle cx="1315" cy="604" r="3.8"/><circle cx="1318" cy="466" r="3.8"/><circle cx="1318" cy="482" r="3.8"/><circle cx="1319" cy="445" r="3.8"/><circle cx="1319" cy="599" r="3.8"/><circle cx="1319" cy="614" r="3.8"/><circle cx="1319" cy="618" r="3.8"/><circle cx="1320" cy="484" r="3.8"/><circle cx="1321" cy="482" r="3.8"/><circle cx="1321" cy="489" r="3.8"/><circle cx="1322" cy="596" r="3.8"/><circle cx="1323" cy="445" r="3.8"/><circle cx="1323" cy="475" r="3.8"/><circle cx="1323" cy="596" r="3.8"/><circle cx="1324" cy="490" r="3.8"/><circle cx="1325" cy="462" r="3.8"/><circle cx="1325" cy="617" r="3.8"/><circle cx="1326" cy="463" r="3.8"/><circle cx="1327" cy="469" r="3.8"/><circle cx="1327" cy="494" r="3.8"/><circle cx="1328" cy="467" r="3.8"/><circle cx="1328" cy="487" r="3.8"/><circle cx="1328" cy="601" r="3.8"/><circle cx="1328" cy="603" r="3.8"/><circle cx="1329" cy="475" r="3.8"/><circle cx="1329" cy="486" r="3.8"/><circle cx="1331" cy="489" r="3.8"/><circle cx="1331" cy="494" r="3.8"/><circle cx="1332" cy="444" r="3.8"/><circle cx="1332" cy="472" r="3.8"/><circle cx="1332" cy="480" r="3.8"/><circle cx="1335" cy="483" r="3.8"/><circle cx="1336" cy="460" r="3.8"/><circle cx="1336" cy="465" r="3.8"/><circle cx="1336" cy="489" r="3.8"/><circle cx="1337" cy="468" r="3.8"/><circle cx="1337" cy="618" r="3.8"/><circle cx="1340" cy="483" r="3.8"/><circle cx="1341" cy="491" r="3.8"/><circle cx="1341" cy="493" r="3.8"/><circle cx="1342" cy="455" r="3.8"/><circle cx="1342" cy="474" r="3.8"/><circle cx="1344" cy="485" r="3.8"/><circle cx="1345" cy="532" r="3.8"/><circle cx="1346" cy="616" r="3.8"/><circle cx="1347" cy="471" r="3.8"/><circle cx="1347" cy="474" r="3.8"/><circle cx="1347" cy="498" r="3.8"/><circle cx="1348" cy="492" r="3.8"/><circle cx="1349" cy="495" r="3.8"/><circle cx="1349" cy="617" r="3.8"/><circle cx="1350" cy="607" r="3.8"/><circle cx="1351" cy="533" r="3.8"/><circle cx="1352" cy="470" r="3.8"/><circle cx="1353" cy="465" r="3.8"/><circle cx="1353" cy="492" r="3.8"/><circle cx="1354" cy="618" r="3.8"/><circle cx="1357" cy="504" r="3.8"/><circle cx="1357" cy="612" r="3.8"/><circle cx="1358" cy="612" r="3.8"/><circle cx="1359" cy="493" r="3.8"/><circle cx="1359" cy="507" r="3.8"/><circle cx="1360" cy="454" r="3.8"/><circle cx="1360" cy="487" r="3.8"/><circle cx="1360" cy="488" r="3.8"/><circle cx="1360" cy="494" r="3.8"/><circle cx="1361" cy="617" r="3.8"/><circle cx="1362" cy="499" r="3.8"/><circle cx="1363" cy="474" r="3.8"/><circle cx="1363" cy="479" r="3.8"/><circle cx="1363" cy="490" r="3.8"/><circle cx="1364" cy="482" r="3.8"/><circle cx="1364" cy="507" r="3.8"/><circle cx="1365" cy="498" r="3.8"/><circle cx="1365" cy="616" r="3.8"/><circle cx="1366" cy="486" r="3.8"/><circle cx="1366" cy="503" r="3.8"/><circle cx="1366" cy="612" r="3.8"/><circle cx="1367" cy="479" r="3.8"/><circle cx="1367" cy="497" r="3.8"/><circle cx="1368" cy="466" r="3.8"/><circle cx="1368" cy="476" r="3.8"/><circle cx="1368" cy="489" r="3.8"/><circle cx="1368" cy="615" r="3.8"/><circle cx="1370" cy="465" r="3.8"/><circle cx="1371" cy="467" r="3.8"/><circle cx="1371" cy="502" r="3.8"/><circle cx="1372" cy="474" r="3.8"/><circle cx="1372" cy="483" r="3.8"/><circle cx="1372" cy="505" r="3.8"/><circle cx="1372" cy="512" r="3.8"/><circle cx="1372" cy="515" r="3.8"/><circle cx="1374" cy="496" r="3.8"/><circle cx="1375" cy="489" r="3.8"/><circle cx="1375" cy="492" r="3.8"/><circle cx="1375" cy="505" r="3.8"/><circle cx="1375" cy="618" r="3.8"/><circle cx="1376" cy="467" r="3.8"/><circle cx="1377" cy="513" r="3.8"/><circle cx="1378" cy="481" r="3.8"/><circle cx="1379" cy="535" r="3.8"/><circle cx="1380" cy="488" r="3.8"/><circle cx="1380" cy="532" r="3.8"/><circle cx="1381" cy="601" r="3.8"/><circle cx="1382" cy="617" r="3.8"/><circle cx="1383" cy="488" r="3.8"/><circle cx="1383" cy="616" r="3.8"/><circle cx="1386" cy="471" r="3.8"/><circle cx="1386" cy="490" r="3.8"/><circle cx="1386" cy="532" r="3.8"/><circle cx="1387" cy="490" r="3.8"/><circle cx="1387" cy="513" r="3.8"/><circle cx="1388" cy="577" r="3.8"/><circle cx="1389" cy="516" r="3.8"/><circle cx="1390" cy="480" r="3.8"/><circle cx="1390" cy="497" r="3.8"/><circle cx="1390" cy="511" r="3.8"/><circle cx="1390" cy="521" r="3.8"/><circle cx="1392" cy="491" r="3.8"/><circle cx="1393" cy="504" r="3.8"/><circle cx="1393" cy="513" r="3.8"/><circle cx="1394" cy="508" r="3.8"/><circle cx="1394" cy="595" r="3.8"/><circle cx="1395" cy="489" r="3.8"/><circle cx="1395" cy="493" r="3.8"/><circle cx="1395" cy="597" r="3.8"/><circle cx="1396" cy="476" r="3.8"/><circle cx="1399" cy="491" r="3.8"/><circle cx="1399" cy="594" r="3.8"/><circle cx="1400" cy="477" r="3.8"/><circle cx="1401" cy="497" r="3.8"/><circle cx="1402" cy="511" r="3.8"/><circle cx="1402" cy="559" r="3.8"/><circle cx="1403" cy="516" r="3.8"/><circle cx="1403" cy="529" r="3.8"/><circle cx="1404" cy="497" r="3.8"/><circle cx="1404" cy="552" r="3.8"/><circle cx="1404" cy="553" r="3.8"/><circle cx="1405" cy="493" r="3.8"/><circle cx="1405" cy="495" r="3.8"/><circle cx="1406" cy="477" r="3.8"/><circle cx="1407" cy="488" r="3.8"/><circle cx="1407" cy="504" r="3.8"/><circle cx="1407" cy="509" r="3.8"/><circle cx="1409" cy="486" r="3.8"/><circle cx="1409" cy="521" r="3.8"/><circle cx="1410" cy="509" r="3.8"/><circle cx="1410" cy="517" r="3.8"/><circle cx="1410" cy="604" r="3.8"/><circle cx="1411" cy="617" r="3.8"/><circle cx="1412" cy="504" r="3.8"/><circle cx="1413" cy="506" r="3.8"/><circle cx="1413" cy="596" r="3.8"/><circle cx="1414" cy="521" r="3.8"/><circle cx="1414" cy="571" r="3.8"/><circle cx="1414" cy="583" r="3.8"/><circle cx="1415" cy="483" r="3.8"/><circle cx="1415" cy="496" r="3.8"/><circle cx="1416" cy="476" r="3.8"/><circle cx="1416" cy="500" r="3.8"/><circle cx="1417" cy="495" r="3.8"/><circle cx="1417" cy="541" r="3.8"/><circle cx="1418" cy="482" r="3.8"/><circle cx="1418" cy="506" r="3.8"/><circle cx="1418" cy="563" r="3.8"/><circle cx="1418" cy="564" r="3.8"/><circle cx="1419" cy="552" r="3.8"/><circle cx="1420" cy="470" r="3.8"/><circle cx="1420" cy="547" r="3.8"/><circle cx="1420" cy="558" r="3.8"/><circle cx="1421" cy="484" r="3.8"/><circle cx="1421" cy="497" r="3.8"/><circle cx="1421" cy="512" r="3.8"/><circle cx="1421" cy="557" r="3.8"/><circle cx="1421" cy="567" r="3.8"/><circle cx="1422" cy="474" r="3.8"/><circle cx="1422" cy="479" r="3.8"/><circle cx="1422" cy="495" r="3.8"/><circle cx="1422" cy="529" r="3.8"/><circle cx="1423" cy="477" r="3.8"/><circle cx="1423" cy="505" r="3.8"/><circle cx="1423" cy="528" r="3.8"/><circle cx="1424" cy="504" r="3.8"/><circle cx="1424" cy="549" r="3.8"/><circle cx="1424" cy="568" r="3.8"/><circle cx="1425" cy="496" r="3.8"/><circle cx="1425" cy="529" r="3.8"/><circle cx="1425" cy="563" r="3.8"/><circle cx="1427" cy="508" r="3.8"/><circle cx="1427" cy="617" r="3.8"/><circle cx="1429" cy="480" r="3.8"/><circle cx="1429" cy="603" r="3.8"/><circle cx="1430" cy="465" r="3.8"/><circle cx="1430" cy="476" r="3.8"/><circle cx="1430" cy="562" r="3.8"/><circle cx="1431" cy="520" r="3.8"/><circle cx="1431" cy="562" r="3.8"/><circle cx="1432" cy="501" r="3.8"/><circle cx="1432" cy="509" r="3.8"/><circle cx="1432" cy="591" r="3.8"/><circle cx="1432" cy="617" r="3.8"/><circle cx="1433" cy="464" r="3.8"/><circle cx="1435" cy="494" r="3.8"/><circle cx="1435" cy="495" r="3.8"/><circle cx="1435" cy="501" r="3.8"/><circle cx="1435" cy="510" r="3.8"/><circle cx="1435" cy="514" r="3.8"/><circle cx="1435" cy="616" r="3.8"/><circle cx="1436" cy="482" r="3.8"/><circle cx="1437" cy="518" r="3.8"/><circle cx="1438" cy="509" r="3.8"/><circle cx="1438" cy="548" r="3.8"/><circle cx="1438" cy="589" r="3.8"/><circle cx="1439" cy="480" r="3.8"/><circle cx="1439" cy="516" r="3.8"/><circle cx="1439" cy="523" r="3.8"/><circle cx="1439" cy="535" r="3.8"/><circle cx="1439" cy="561" r="3.8"/><circle cx="1440" cy="461" r="3.8"/><circle cx="1440" cy="481" r="3.8"/><circle cx="1440" cy="496" r="3.8"/><circle cx="1440" cy="594" r="3.8"/><circle cx="1441" cy="475" r="3.8"/><circle cx="1441" cy="617" r="3.8"/><circle cx="1442" cy="516" r="3.8"/><circle cx="1442" cy="609" r="3.8"/><circle cx="1442" cy="617" r="3.8"/><circle cx="1443" cy="489" r="3.8"/><circle cx="1443" cy="548" r="3.8"/><circle cx="1443" cy="553" r="3.8"/><circle cx="1443" cy="554" r="3.8"/><circle cx="1443" cy="592" r="3.8"/><circle cx="1443" cy="618" r="3.8"/><circle cx="1444" cy="495" r="3.8"/><circle cx="1444" cy="529" r="3.8"/><circle cx="1444" cy="530" r="3.8"/><circle cx="1445" cy="458" r="3.8"/><circle cx="1445" cy="586" r="3.8"/><circle cx="1446" cy="518" r="3.8"/><circle cx="1446" cy="519" r="3.8"/><circle cx="1446" cy="559" r="3.8"/><circle cx="1446" cy="570" r="3.8"/><circle cx="1446" cy="588" r="3.8"/><circle cx="1446" cy="603" r="3.8"/><circle cx="1446" cy="615" r="3.8"/></g>
</g>
<path d="M938.5 182.3 941 190 943.5 197.3 945.9 204.2 948.4 210.8 950.9 217.1 953.4 223.1 955.9 228.8 958.3 234.3 960.8 239.6 963.3 244.6 965.8 249.5 968.3 254.3 970.7 258.8 973.2 263.3 975.7 267.6 978.2 271.7 980.7 275.8 983.1 279.8 985.6 283.6 988.1 287.4 990.6 291.1 993.1 294.6 995.6 298.2 998 301.6 1000.5 305 1003 308.2 1005.5 311.5 1008 314.6 1010.4 317.7 1012.9 320.8 1015.4 323.8 1017.9 326.7 1020.4 329.6 1022.8 332.4 1025.3 335.2 1027.8 338 1030.3 340.7 1032.8 343.3 1035.2 345.9 1037.7 348.5 1040.2 351 1042.7 353.5 1045.2 356 1047.6 358.4 1050.1 360.8 1052.6 363.2 1055.1 365.5 1057.6 367.8 1060 370 1062.5 372.3 1065 374.5 1067.5 376.7 1070 378.8 1072.4 381 1074.9 383.1 1077.4 385.2 1079.9 387.2 1082.4 389.3 1084.9 391.3 1087.3 393.3 1089.8 395.3 1092.3 397.3 1094.8 399.2 1097.3 401.1 1099.7 403.1 1102.2 405 1104.7 406.9 1107.2 408.7 1109.7 410.6 1112.1 412.4 1114.6 414.3 1117.1 416.1 1119.6 417.9 1122.1 419.7 1124.5 421.5 1127 423.3 1129.5 425.1 1132 426.8 1134.5 428.6 1136.9 430.3 1139.4 432.1 1141.9 433.8 1144.4 435.5 1146.9 437.2 1149.3 439 1151.8 440.7 1154.3 442.4 1156.8 444 1159.3 445.7 1161.7 447.4 1164.2 449.1 1166.7 450.8 1169.2 452.4 1171.7 454.1 1174.2 455.7 1176.6 457.4 1179.1 459 1181.6 460.7 1184.1 462.3 1186.6 464 1189 465.6 1191.5 467.2 1194 468.9 1196.5 470.5 1199 472.1 1201.4 473.7 1203.9 475.3 1206.4 477 1208.9 478.6 1211.4 480.2 1213.8 481.8 1216.3 483.4 1218.8 485 1221.3 486.6 1223.8 488.2 1226.2 489.8 1228.7 491.4 1231.2 493 1233.7 494.6 1236.2 496.2 1238.6 497.8 1241.1 499.4 1243.6 501 1246.1 502.5 1248.6 504.1 1251 505.7 1253.5 507.3 1256 508.9 1258.5 510.5 1261 512 1263.5 513.6 1265.9 515.2 1268.4 516.8 1270.9 518.4 1273.4 519.9 1275.9 521.5 1278.3 523.1 1280.8 524.7 1283.3 526.3 1285.8 527.8 1288.3 529.4 1290.7 531 1293.2 532.6 1295.7 534.1 1298.2 535.7 1300.7 537.3 1303.1 538.8 1305.6 540.4 1308.1 542" fill="none" stroke="#1204d6" stroke-width="2.4" stroke-linejoin="round" />
<rect x="910.3" y="59.6" width="548.9" height="563.9" fill="none" stroke="#000" stroke-width="2.4"/>
<line x1="933.3" y1="623.5" x2="933.3" y2="613.5" stroke="#000" stroke-width="2.0"/>
<text x="933.3" y="659" font-size="30" text-anchor="middle" >0</text>
<line x1="1061.8" y1="623.5" x2="1061.8" y2="613.5" stroke="#000" stroke-width="2.0"/>
<text x="1061.8" y="659" font-size="30" text-anchor="middle" >50</text>
<line x1="1190.3" y1="623.5" x2="1190.3" y2="613.5" stroke="#000" stroke-width="2.0"/>
<text x="1190.3" y="659" font-size="30" text-anchor="middle" >100</text>
<line x1="1318.8" y1="623.5" x2="1318.8" y2="613.5" stroke="#000" stroke-width="2.0"/>
<text x="1318.8" y="659" font-size="30" text-anchor="middle" >150</text>
<line x1="1447.3" y1="623.5" x2="1447.3" y2="613.5" stroke="#000" stroke-width="2.0"/>
<text x="1447.3" y="659" font-size="30" text-anchor="middle" >200</text>
<line x1="910.3" y1="161" x2="921.3" y2="161" stroke="#000" stroke-width="2.0"/>
<line x1="910.3" y1="71.9" x2="916.3" y2="71.9" stroke="#000" stroke-width="2.0"/>
<line x1="910.3" y1="457" x2="921.3" y2="457" stroke="#000" stroke-width="2.0"/>
<line x1="910.3" y1="367.9" x2="916.3" y2="367.9" stroke="#000" stroke-width="2.0"/>
<line x1="910.3" y1="315.8" x2="916.3" y2="315.8" stroke="#000" stroke-width="2.0"/>
<line x1="910.3" y1="278.8" x2="916.3" y2="278.8" stroke="#000" stroke-width="2.0"/>
<line x1="910.3" y1="250.1" x2="916.3" y2="250.1" stroke="#000" stroke-width="2.0"/>
<line x1="910.3" y1="226.7" x2="916.3" y2="226.7" stroke="#000" stroke-width="2.0"/>
<line x1="910.3" y1="206.9" x2="916.3" y2="206.9" stroke="#000" stroke-width="2.0"/>
<line x1="910.3" y1="189.7" x2="916.3" y2="189.7" stroke="#000" stroke-width="2.0"/>
<line x1="910.3" y1="174.5" x2="916.3" y2="174.5" stroke="#000" stroke-width="2.0"/>
<line x1="910.3" y1="611.8" x2="916.3" y2="611.8" stroke="#000" stroke-width="2.0"/>
<line x1="910.3" y1="574.8" x2="916.3" y2="574.8" stroke="#000" stroke-width="2.0"/>
<line x1="910.3" y1="546.1" x2="916.3" y2="546.1" stroke="#000" stroke-width="2.0"/>
<line x1="910.3" y1="522.7" x2="916.3" y2="522.7" stroke="#000" stroke-width="2.0"/>
<line x1="910.3" y1="502.9" x2="916.3" y2="502.9" stroke="#000" stroke-width="2.0"/>
<line x1="910.3" y1="485.7" x2="916.3" y2="485.7" stroke="#000" stroke-width="2.0"/>
<line x1="910.3" y1="470.5" x2="916.3" y2="470.5" stroke="#000" stroke-width="2.0"/>
<text x="1109.8" y="694" font-size="36" >Time (ns)</text>
<text x="889.4" y="340" font-size="36" text-anchor="middle" transform="rotate(-90 889.4 340)" >PL intensity (a.u.)</text>
<text x="953.3" y="105.7" font-size="38.5" font-family="Liberation Serif" font-style="italic" >τ</text>
<text x="968" y="119.7" font-size="22" font-family="Liberation Serif" >f,XX</text>
<path d="M1029.4 86.2H1047.7V89.6H1029.4Z M1029.4 94.3H1047.7V97.7H1029.4Z" fill="#000"/>
<text x="1064" y="106.4" font-size="39.5" >10.1 ns</text>
<path d="M1275.4 91.1 1268.2 106.7 1275.4 122.3" fill="none" stroke="#000" stroke-width="2.1" stroke-linejoin="round" stroke-linecap="round"/>
<path d="M1308.5 91.1 1315.7 106.7 1308.5 122.3" fill="none" stroke="#000" stroke-width="2.1" stroke-linejoin="round" stroke-linecap="round"/>
<text x="1280.5" y="117.3" font-size="36" font-family="Liberation Serif" font-style="italic" >N</text>
<line x1="1217.1" y1="153.5" x2="1247.7" y2="153.5" stroke="#f81c14" stroke-width="2.2"/>
<text x="1263" y="165" font-size="35" >0.38</text>
<line x1="1217.1" y1="194" x2="1247.7" y2="194" stroke="#000" stroke-width="2.2"/>
<text x="1263" y="206.4" font-size="35" >0.08</text>
<circle cx="1232" cy="235.4" r="9.8" fill="none" stroke="#c1cffa" stroke-width="1.8"/>
<text x="1263" y="247" font-size="35.4" >subtraction</text>
<clipPath id="cc"><rect x="153.8" y="782.0" width="558.4000000000001" height="558.8"/></clipPath>
<g clip-path="url(#cc)">
<path d="M153.8 932.5 160 936 167.2 943 175 940 183.3 932.5 190 935 195 930.8 198.8 950 203.3 960 208 956 215.8 955.3 224 955 232.5 952.5 240 950 244.2 940 249.2 953.3 258.3 976.7 266.2 974.2 274.2 995 276.7 1003.3 282.8 1008.3 290 1016 299.5 1022.5 306 1024 312.5 1018.3 317.5 1029.2 320 1045 326.7 1047.5 334.2 1056.7 340 1066.7 351.3 1064.5 355.2 1073 362 1085.6 369.4 1090.5 372.7 1098.3 377.6 1126.4 381.5 1127.4 384.4 1135.1 386.7 1145.4 392.1 1154.6 401.8 1203.1 404.8 1208.5 411.6 1215.7 418.3 1226.4 422.2 1255.5 422.6 1261.9 429 1271 434.9 1276.9 441.1 1283.7 446.5 1292.4 450.4 1304.1 457.2 1288.5 459.5 1280.4 464 1271 473.7 1247.8 477.6 1238.4 478.5 1231.3 482.4 1208.9 490.2 1190.5 494.1 1175.9 496.4 1167.6 498.9 1154.6 500 1155.6 506.7 1133.2 515.2 1134.5 517.5 1123.7 528.7 1089.4 533.5 1082.2 540.7 1079 546.3 1059.1 553.1 1054 555.8 1061.5 562.2 1063.1 567 1055.1 570.2 1063.9 572.1 1070.7 576.6 1063.1 583 1047.9 587 1047.1 591.7 1052.7 594.9 1060.7 601.3 1082.2 605.6 1106.2 608.5 1099.8 611.7 1092.1 617.3 1098.2 623.6 1115.7 630.5 1115.7 632.4 1123.7 641.2 1154 649.2 1150.8 651.1 1142.5 655.6 1150.8 664.3 1185.9 670.7 1191.5 673.1 1198.7 676.3 1205.1 681.1 1200.3 689.9 1225.8 691.4 1230.9 697.8 1232.2 701 1222.6 706.6 1209.1 710.6 1221 712.2 1222.3" fill="none" stroke="#f25219" stroke-width="2.2" stroke-linejoin="round" />
</g>
<rect x="153.8" y="782" width="558.4" height="558.8" fill="none" stroke="#000" stroke-width="2.4"/>
<g fill="#fff" stroke="#f25219" stroke-width="2.3"><rect x="161.2" y="937" width="12" height="12"/><rect x="177.3" y="926.5" width="12" height="12"/><rect x="192.8" y="944" width="12" height="12"/><rect x="209.8" y="949.3" width="12" height="12"/><rect x="226.5" y="946.5" width="12" height="12"/><rect x="243.2" y="947.3" width="12" height="12"/><rect x="260.2" y="968.2" width="12" height="12"/><rect x="276.8" y="1002.3" width="12" height="12"/><rect x="293.5" y="1016.5" width="12" height="12"/><rect x="311.5" y="1023.2" width="12" height="12"/><rect x="328.2" y="1050.7" width="12" height="12"/><rect x="345.3" y="1058.5" width="12" height="12"/><rect x="363.4" y="1084.5" width="12" height="12"/><rect x="380.7" y="1139.4" width="12" height="12"/><rect x="398.8" y="1202.5" width="12" height="12"/><rect x="416.6" y="1255.9" width="12" height="12"/><rect x="435.1" y="1277.7" width="12" height="12"/><rect x="453.5" y="1274.4" width="12" height="12"/><rect x="471.6" y="1232.4" width="12" height="12"/><rect x="490.4" y="1161.6" width="12" height="12"/><rect x="509.2" y="1128.5" width="12" height="12"/><rect x="527.5" y="1076.2" width="12" height="12"/><rect x="547.1" y="1048" width="12" height="12"/><rect x="566.1" y="1064.7" width="12" height="12"/><rect x="585.7" y="1046.7" width="12" height="12"/><rect x="605.7" y="1086.1" width="12" height="12"/><rect x="624.5" y="1109.7" width="12" height="12"/><rect x="645.1" y="1136.5" width="12" height="12"/><rect x="664.7" y="1185.5" width="12" height="12"/><rect x="685.4" y="1224.9" width="12" height="12"/><rect x="705.4" y="1216.3" width="12" height="12"/></g>
<line x1="153.8" y1="1340.8" x2="153.8" y2="1329.8" stroke="#000" stroke-width="2.0"/>
<text x="154.3" y="1378.4" font-size="30" text-anchor="middle" >1.95</text>
<line x1="265.5" y1="1340.8" x2="265.5" y2="1329.8" stroke="#000" stroke-width="2.0"/>
<text x="266" y="1378.4" font-size="30" text-anchor="middle" >2.00</text>
<line x1="377.1" y1="1340.8" x2="377.1" y2="1329.8" stroke="#000" stroke-width="2.0"/>
<text x="377.6" y="1378.4" font-size="30" text-anchor="middle" >2.05</text>
<line x1="488.8" y1="1340.8" x2="488.8" y2="1329.8" stroke="#000" stroke-width="2.0"/>
<text x="489.3" y="1378.4" font-size="30" text-anchor="middle" >2.10</text>
<line x1="600.5" y1="1340.8" x2="600.5" y2="1329.8" stroke="#000" stroke-width="2.0"/>
<text x="601" y="1378.4" font-size="30" text-anchor="middle" >2.15</text>
<line x1="712.2" y1="1340.8" x2="712.2" y2="1329.8" stroke="#000" stroke-width="2.0"/>
<text x="712.7" y="1378.4" font-size="30" text-anchor="middle" >2.20</text>
<line x1="153.8" y1="851.3" x2="164.8" y2="851.3" stroke="#000" stroke-width="2.0"/>
<text x="145" y="862.5" font-size="30" text-anchor="end" >0.00</text>
<line x1="153.8" y1="991.1" x2="164.8" y2="991.1" stroke="#000" stroke-width="2.0"/>
<text x="145" y="1002.3" font-size="30" text-anchor="end" >-0.02</text>
<line x1="153.8" y1="1130.9" x2="164.8" y2="1130.9" stroke="#000" stroke-width="2.0"/>
<text x="145" y="1142.1" font-size="30" text-anchor="end" >-0.04</text>
<line x1="153.8" y1="1270.7" x2="164.8" y2="1270.7" stroke="#000" stroke-width="2.0"/>
<text x="145" y="1281.9" font-size="30" text-anchor="end" >-0.06</text>
<text x="336.8" y="1430.4" font-size="36" >Energy (eV)</text>
<text x="182.1" y="823.7" font-size="35" >Delay</text>
<path d="M283.3 805.8H299.7V809.3H283.3Z M283.3 812.9H299.7V816.3H283.3Z" fill="#000"/>
<text x="312.4" y="823.7" font-size="34.7" >10 ps</text>
<g transform="translate(37.9 1163) rotate(-90)" font-family="Liberation Serif"><text transform="translate(-0.5 0) scale(0.85 1)" font-size="40" font-style="italic">α</text><text x="18.5" y="11.9" font-size="23.5">0</text><text x="29.8" y="0.3" font-size="44.4">+</text><text x="57.2" y="-0.5" font-size="40.3" font-style="italic">Δ</text><text transform="translate(81.5 -0.3) scale(0.85 1)" font-size="40" font-style="italic">α</text><text x="112.6" y="-1.1" font-size="40" font-family="Liberation Sans">(a.u.)</text></g>
<clipPath id="cd"><rect x="912.4" y="782.2" width="547.6" height="560.8"/></clipPath>
<g clip-path="url(#cd)">
<path d="M929.6 1345 929.8 1215.1 930 1188.5 930.2 887 930.2 879.3 930.3 870.3 929.8 852.2 930 830 930.5 812 931 808 932 811 934 820 935.5 830 937.1 842.8 942 859 946.1 863.5 950.2 869.8 955.6 878.8 962.8 888.7 970 895 977.2 901.4 984 911.3 991.3 915.9 1061.2 1006 1096.5 1038.8 1132.4 1080.2 1202.7 1151.6 1274 1213.6 1309.5 1241.1 1344 1262.9 1415.3 1304.5 1440 1318.5 1451.3 1324.1 1460 1327.6" fill="none" stroke="#f25219" stroke-width="2.2" stroke-linejoin="round" />
</g>
<g fill="#fff" stroke="#f25219" stroke-width="2.2"><circle cx="930" cy="1215.1" r="5.8"/><circle cx="930" cy="1188.5" r="5.8"/><circle cx="930.3" cy="887" r="5.8"/><circle cx="930.3" cy="879.3" r="5.8"/><circle cx="930.3" cy="870.3" r="5.8"/><circle cx="929.4" cy="852.2" r="5.8"/><circle cx="929.5" cy="848" r="5.8"/><circle cx="929.5" cy="844" r="5.8"/><circle cx="929.5" cy="840" r="5.8"/><circle cx="929.6" cy="836" r="5.8"/><circle cx="929.6" cy="832" r="5.8"/><circle cx="929.7" cy="828" r="5.8"/><circle cx="929.7" cy="824" r="5.8"/><circle cx="929.8" cy="820" r="5.8"/><circle cx="929.9" cy="816" r="5.8"/><circle cx="930" cy="812.5" r="5.8"/><circle cx="930.3" cy="811" r="5.8"/><circle cx="930.8" cy="811.5" r="5.8"/><circle cx="931.2" cy="812.5" r="5.8"/><circle cx="931.6" cy="814" r="5.8"/><circle cx="932" cy="816" r="5.8"/><circle cx="932.4" cy="818" r="5.8"/><circle cx="932.8" cy="820.5" r="5.8"/><circle cx="933.2" cy="823" r="5.8"/><circle cx="933.6" cy="825.5" r="5.8"/><circle cx="934" cy="828" r="5.8"/><circle cx="934.5" cy="831" r="5.8"/><circle cx="935" cy="834" r="5.8"/><circle cx="935.5" cy="837" r="5.8"/><circle cx="936.2" cy="840" r="5.8"/><circle cx="937.1" cy="842.8" r="5.8"/><circle cx="942" cy="859" r="5.8"/><circle cx="946.1" cy="863.5" r="5.8"/><circle cx="950.2" cy="869.8" r="5.8"/><circle cx="955.6" cy="878.8" r="5.8"/><circle cx="962.8" cy="888.7" r="5.8"/><circle cx="970" cy="895" r="5.8"/><circle cx="977.2" cy="901.4" r="5.8"/><circle cx="984" cy="911.3" r="5.8"/><circle cx="990.7" cy="914.9" r="5.8"/><circle cx="1061.2" cy="1006" r="5.8"/><circle cx="1132.4" cy="1080.2" r="5.8"/><circle cx="1202.7" cy="1151.6" r="5.8"/><circle cx="1274" cy="1213.6" r="5.8"/><circle cx="1344" cy="1262.9" r="5.8"/><circle cx="1415.3" cy="1304.5" r="5.8"/></g>
<rect x="912.4" y="782.2" width="547.6" height="560.8" fill="none" stroke="#000" stroke-width="2.4"/>
<line x1="929.4" y1="1343" x2="929.4" y2="1332" stroke="#000" stroke-width="2.0"/>
<text x="929.4" y="1380.6" font-size="30" text-anchor="middle" >0</text>
<line x1="1017.9" y1="1343" x2="1017.9" y2="1337" stroke="#000" stroke-width="2.0"/>
<line x1="1106.3" y1="1343" x2="1106.3" y2="1332" stroke="#000" stroke-width="2.0"/>
<text x="1106.3" y="1380.6" font-size="30" text-anchor="middle" >1000</text>
<line x1="1194.8" y1="1343" x2="1194.8" y2="1337" stroke="#000" stroke-width="2.0"/>
<line x1="1283.3" y1="1343" x2="1283.3" y2="1332" stroke="#000" stroke-width="2.0"/>
<text x="1283.3" y="1380.6" font-size="30" text-anchor="middle" >2000</text>
<line x1="1371.8" y1="1343" x2="1371.8" y2="1337" stroke="#000" stroke-width="2.0"/>
<line x1="1460.2" y1="1343" x2="1460.2" y2="1332" stroke="#000" stroke-width="2.0"/>
<text x="1460.2" y="1380.6" font-size="30" text-anchor="middle" >3000</text>
<line x1="912.4" y1="862" x2="923.4" y2="862" stroke="#000" stroke-width="2.0"/>
<line x1="912.4" y1="1022.3" x2="923.4" y2="1022.3" stroke="#000" stroke-width="2.0"/>
<line x1="912.4" y1="1182.6" x2="923.4" y2="1182.6" stroke="#000" stroke-width="2.0"/>
<text x="1141.8" y="1430" font-size="36" >Delay (ps)</text>
<g transform="translate(887.3 1141.7) rotate(-90)" font-family="Liberation Serif"><text transform="translate(-0.5 0) scale(0.85 1)" font-size="40" font-style="italic">α</text><text x="18.5" y="11.9" font-size="23.5">0</text><text x="29.8" y="0.3" font-size="44.4">+</text><text x="57.2" y="-0.5" font-size="40.3" font-style="italic">Δ</text><text transform="translate(81.5 -0.3) scale(0.85 1)" font-size="40" font-style="italic">α</text><text x="112.6" y="-1.1" font-size="40" font-family="Liberation Sans">(a.u.)</text></g>
<text x="1279" y="828" font-size="35" font-family="Liberation Serif" font-style="italic" fill="#c64a1c" >τ</text>
<text x="1292.5" y="839.5" font-size="19" font-family="Liberation Serif" fill="#c64a1c" >g</text>
<path d="M1314.4 810.4H1331V813.9H1314.4Z M1314.4 817.8H1331V821.3H1314.4Z" fill="#c64a1c"/>
<text x="1342.4" y="829" font-size="35.5" fill="#c64a1c" >3.1 ns</text></svg></body></html>
